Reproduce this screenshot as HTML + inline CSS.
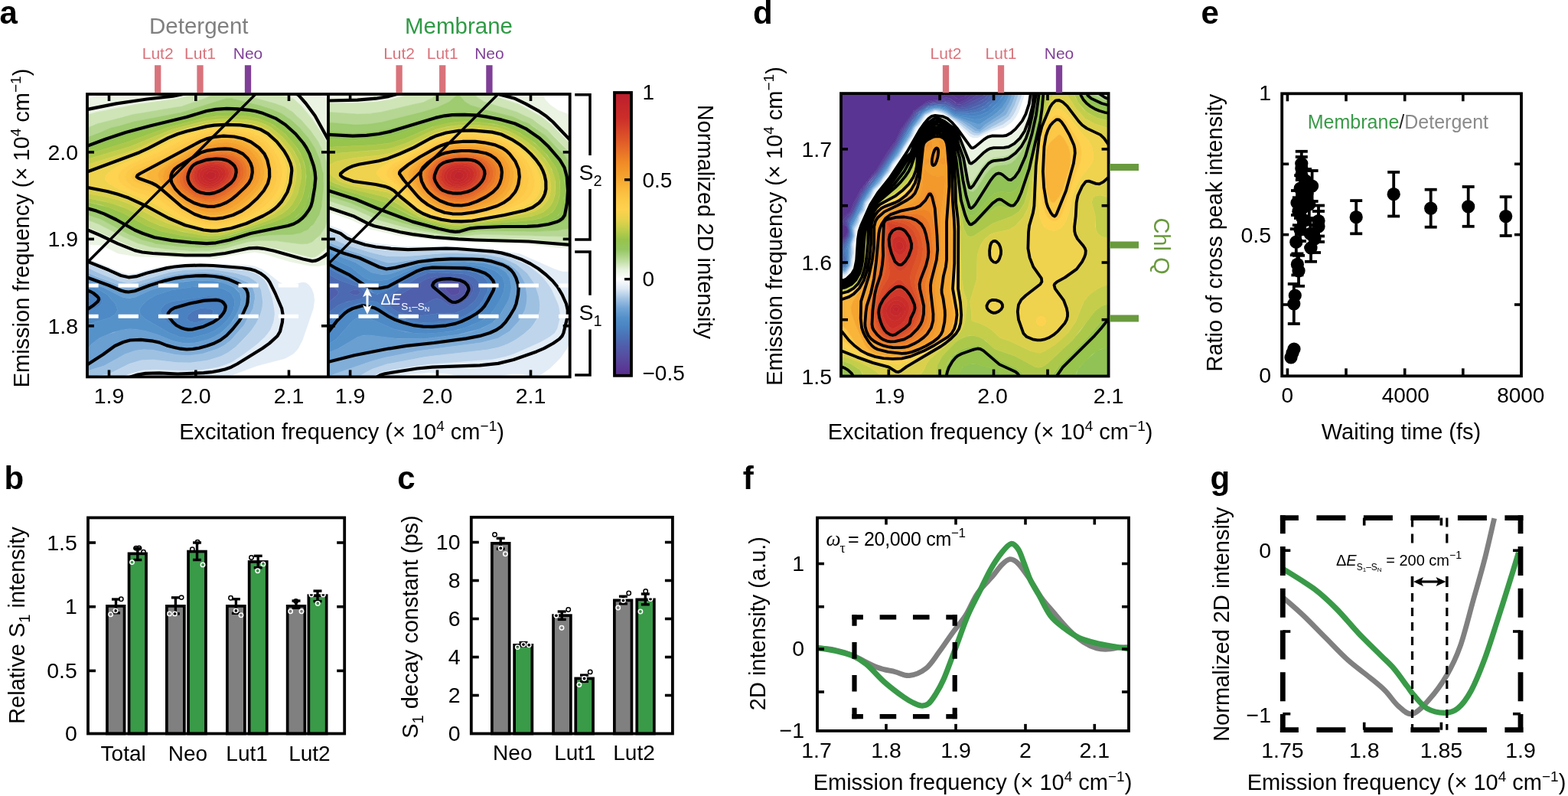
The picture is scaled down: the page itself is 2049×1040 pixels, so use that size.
<!DOCTYPE html>
<html><head><meta charset="utf-8"><style>
html,body{margin:0;padding:0;background:#fff;overflow:hidden}
svg{display:block}
</style></head><body>
<svg width="2049" height="1040" viewBox="0 0 2049 1040" style="font-family:'Liberation Sans',Arial,Helvetica,sans-serif">
<rect width="2049" height="1040" fill="#fff"/>
<text x="-0.5" y="31" font-size="42" text-anchor="start" fill="#000" font-weight="bold" >a</text>
<text x="984" y="31" font-size="42" text-anchor="start" fill="#000" font-weight="bold" >d</text>
<text x="1569.5" y="31" font-size="42" text-anchor="start" fill="#000" font-weight="bold" >e</text>
<text x="5.5" y="639.3" font-size="42" text-anchor="start" fill="#000" font-weight="bold" >b</text>
<text x="519.3" y="639.3" font-size="42" text-anchor="start" fill="#000" font-weight="bold" >c</text>
<text x="970.8" y="639.3" font-size="42" text-anchor="start" fill="#000" font-weight="bold" >f</text>
<text x="1581.4" y="639.3" font-size="42" text-anchor="start" fill="#000" font-weight="bold" >g</text>
<rect x="139.95" y="791.85" width="22.600000000000012" height="166.65" fill="#808080" stroke="#000" stroke-width="3.7" />
<rect x="168.54999999999998" y="723.35" width="22.500000000000018" height="235.15" fill="#399a48" stroke="#000" stroke-width="3.7" />
<rect x="217.85" y="791.85" width="22.99999999999999" height="166.65" fill="#808080" stroke="#000" stroke-width="3.7" />
<rect x="246.04999999999998" y="720.5500000000001" width="22.900000000000023" height="237.94999999999996" fill="#399a48" stroke="#000" stroke-width="3.7" />
<rect x="296.85" y="791.85" width="22.99999999999999" height="166.65" fill="#808080" stroke="#000" stroke-width="3.7" />
<rect x="325.65000000000003" y="733.95" width="23.100000000000012" height="224.54999999999998" fill="#399a48" stroke="#000" stroke-width="3.7" />
<rect x="375.65000000000003" y="791.85" width="22.699999999999978" height="166.65" fill="#808080" stroke="#000" stroke-width="3.7" />
<rect x="403.35" y="778.15" width="23.3" height="180.35000000000005" fill="#399a48" stroke="#000" stroke-width="3.7" />
<line x1="151.5" y1="783" x2="151.5" y2="800.8" stroke="#000" stroke-width="3.4" />
<line x1="146.0" y1="783" x2="157.0" y2="783" stroke="#000" stroke-width="3.4" />
<line x1="146.0" y1="800.8" x2="157.0" y2="800.8" stroke="#000" stroke-width="3.4" />
<line x1="179.8" y1="716.3" x2="179.8" y2="731.5" stroke="#000" stroke-width="3.4" />
<line x1="174.3" y1="716.3" x2="185.3" y2="716.3" stroke="#000" stroke-width="3.4" />
<line x1="174.3" y1="731.5" x2="185.3" y2="731.5" stroke="#000" stroke-width="3.4" />
<line x1="229.4" y1="780.8" x2="229.4" y2="801.9" stroke="#000" stroke-width="3.4" />
<line x1="223.9" y1="780.8" x2="234.9" y2="780.8" stroke="#000" stroke-width="3.4" />
<line x1="223.9" y1="801.9" x2="234.9" y2="801.9" stroke="#000" stroke-width="3.4" />
<line x1="257.5" y1="709" x2="257.5" y2="731.5" stroke="#000" stroke-width="3.4" />
<line x1="252.0" y1="709" x2="263.0" y2="709" stroke="#000" stroke-width="3.4" />
<line x1="252.0" y1="731.5" x2="263.0" y2="731.5" stroke="#000" stroke-width="3.4" />
<line x1="308.4" y1="782.7" x2="308.4" y2="801.3" stroke="#000" stroke-width="3.4" />
<line x1="302.9" y1="782.7" x2="313.9" y2="782.7" stroke="#000" stroke-width="3.4" />
<line x1="302.9" y1="801.3" x2="313.9" y2="801.3" stroke="#000" stroke-width="3.4" />
<line x1="337.2" y1="726.3" x2="337.2" y2="741.7" stroke="#000" stroke-width="3.4" />
<line x1="331.7" y1="726.3" x2="342.7" y2="726.3" stroke="#000" stroke-width="3.4" />
<line x1="331.7" y1="741.7" x2="342.7" y2="741.7" stroke="#000" stroke-width="3.4" />
<line x1="387" y1="785" x2="387" y2="794.2" stroke="#000" stroke-width="3.4" />
<line x1="381.5" y1="785" x2="392.5" y2="785" stroke="#000" stroke-width="3.4" />
<line x1="381.5" y1="794.2" x2="392.5" y2="794.2" stroke="#000" stroke-width="3.4" />
<line x1="415" y1="772.1" x2="415" y2="785.6" stroke="#000" stroke-width="3.4" />
<line x1="409.5" y1="772.1" x2="420.5" y2="772.1" stroke="#000" stroke-width="3.4" />
<line x1="409.5" y1="785.6" x2="420.5" y2="785.6" stroke="#000" stroke-width="3.4" />
<circle cx="158.3" cy="782.7" r="2.7" fill="none" stroke="#000" stroke-width="1.5"/>
<circle cx="151" cy="797.9" r="2.7" fill="none" stroke="#fff" stroke-width="1.5"/>
<circle cx="144.6" cy="802.7" r="2.7" fill="none" stroke="#fff" stroke-width="1.5"/>
<circle cx="172.5" cy="734.6" r="2.7" fill="none" stroke="#fff" stroke-width="1.5"/>
<circle cx="187.5" cy="721.2" r="2.7" fill="none" stroke="#000" stroke-width="1.5"/>
<circle cx="177.9" cy="716.3" r="2.7" fill="none" stroke="#000" stroke-width="1.5"/>
<circle cx="181.7" cy="716" r="2.7" fill="none" stroke="#000" stroke-width="1.5"/>
<circle cx="237.1" cy="780.6" r="2.7" fill="none" stroke="#000" stroke-width="1.5"/>
<circle cx="221.5" cy="801.9" r="2.7" fill="none" stroke="#fff" stroke-width="1.5"/>
<circle cx="228.5" cy="801.9" r="2.7" fill="none" stroke="#fff" stroke-width="1.5"/>
<circle cx="251.3" cy="717.7" r="2.7" fill="none" stroke="#000" stroke-width="1.5"/>
<circle cx="265" cy="737.9" r="2.7" fill="none" stroke="#fff" stroke-width="1.5"/>
<circle cx="258.1" cy="708.1" r="2.7" fill="none" stroke="#000" stroke-width="1.5"/>
<circle cx="301.5" cy="781.2" r="2.7" fill="none" stroke="#000" stroke-width="1.5"/>
<circle cx="308.3" cy="797.9" r="2.7" fill="none" stroke="#fff" stroke-width="1.5"/>
<circle cx="315" cy="803.7" r="2.7" fill="none" stroke="#fff" stroke-width="1.5"/>
<circle cx="328.5" cy="728.5" r="2.7" fill="none" stroke="#000" stroke-width="1.5"/>
<circle cx="344" cy="736.9" r="2.7" fill="none" stroke="#fff" stroke-width="1.5"/>
<circle cx="336.7" cy="745.8" r="2.7" fill="none" stroke="#fff" stroke-width="1.5"/>
<circle cx="379.6" cy="798.8" r="2.7" fill="none" stroke="#fff" stroke-width="1.5"/>
<circle cx="394" cy="798.8" r="2.7" fill="none" stroke="#fff" stroke-width="1.5"/>
<circle cx="386.7" cy="785.4" r="2.7" fill="none" stroke="#000" stroke-width="1.5"/>
<circle cx="406.9" cy="776.9" r="2.7" fill="none" stroke="#fff" stroke-width="1.5"/>
<circle cx="422.3" cy="776.9" r="2.7" fill="none" stroke="#fff" stroke-width="1.5"/>
<circle cx="415.2" cy="788.5" r="2.7" fill="none" stroke="#fff" stroke-width="1.5"/>
<rect x="115" y="676.4" width="335.2" height="282.1" fill="none" stroke="#000" stroke-width="3.8" />
<line x1="115" y1="709" x2="125" y2="709" stroke="#000" stroke-width="3.6" />
<line x1="440.2" y1="709" x2="450.2" y2="709" stroke="#000" stroke-width="3.6" />
<text x="100.8" y="718.5" font-size="28.5" text-anchor="end" fill="#000" font-weight="normal" >1.5</text>
<line x1="115" y1="792.7" x2="125" y2="792.7" stroke="#000" stroke-width="3.6" />
<line x1="440.2" y1="792.7" x2="450.2" y2="792.7" stroke="#000" stroke-width="3.6" />
<text x="100.8" y="802.2" font-size="28.5" text-anchor="end" fill="#000" font-weight="normal" >1</text>
<line x1="115" y1="876.4" x2="125" y2="876.4" stroke="#000" stroke-width="3.6" />
<line x1="440.2" y1="876.4" x2="450.2" y2="876.4" stroke="#000" stroke-width="3.6" />
<text x="100.8" y="885.9" font-size="28.5" text-anchor="end" fill="#000" font-weight="normal" >0.5</text>
<text x="100.8" y="968.0" font-size="28.5" text-anchor="end" fill="#000" font-weight="normal" >0</text>
<text x="161.2" y="994.2" font-size="28" text-anchor="middle" fill="#000" font-weight="normal" >Total</text>
<text x="245.4" y="994.2" font-size="28" text-anchor="middle" fill="#000" font-weight="normal" >Neo</text>
<text x="322.6" y="994.2" font-size="28" text-anchor="middle" fill="#000" font-weight="normal" >Lut1</text>
<text x="404.4" y="994.2" font-size="28" text-anchor="middle" fill="#000" font-weight="normal" >Lut2</text>
<text x="31.7" y="817" font-size="29" text-anchor="middle" fill="#000" font-weight="normal" transform="rotate(-90 31.7 817)" >Relative S<tspan dy="7" font-size="20">1</tspan><tspan dy="-7"> intensity</tspan></text>
<rect x="642.85" y="709.85" width="22.8" height="248.65" fill="#808080" stroke="#000" stroke-width="3.7" />
<rect x="672.15" y="842.85" width="23.20000000000009" height="115.65" fill="#399a48" stroke="#000" stroke-width="3.7" />
<rect x="723.0500000000001" y="804.15" width="22.8" height="154.35000000000005" fill="#808080" stroke="#000" stroke-width="3.7" />
<rect x="752.25" y="886.45" width="22.8" height="72.04999999999998" fill="#399a48" stroke="#000" stroke-width="3.7" />
<rect x="802.85" y="784.35" width="22.599999999999955" height="174.15" fill="#808080" stroke="#000" stroke-width="3.7" />
<rect x="832.25" y="783.35" width="22.60000000000007" height="175.15" fill="#399a48" stroke="#000" stroke-width="3.7" />
<line x1="654.2" y1="703.3" x2="654.2" y2="717.1" stroke="#000" stroke-width="3.4" />
<line x1="648.7" y1="703.3" x2="659.7" y2="703.3" stroke="#000" stroke-width="3.4" />
<line x1="648.7" y1="717.1" x2="659.7" y2="717.1" stroke="#000" stroke-width="3.4" />
<line x1="684" y1="839.5" x2="684" y2="844" stroke="#000" stroke-width="3.4" />
<line x1="678.5" y1="839.5" x2="689.5" y2="839.5" stroke="#000" stroke-width="3.4" />
<line x1="678.5" y1="844" x2="689.5" y2="844" stroke="#000" stroke-width="3.4" />
<line x1="734.2" y1="799" x2="734.2" y2="809.4" stroke="#000" stroke-width="3.4" />
<line x1="728.7" y1="799" x2="739.7" y2="799" stroke="#000" stroke-width="3.4" />
<line x1="728.7" y1="809.4" x2="739.7" y2="809.4" stroke="#000" stroke-width="3.4" />
<line x1="763.5" y1="882.1" x2="763.5" y2="890.4" stroke="#000" stroke-width="3.4" />
<line x1="758.0" y1="882.1" x2="769.0" y2="882.1" stroke="#000" stroke-width="3.4" />
<line x1="758.0" y1="890.4" x2="769.0" y2="890.4" stroke="#000" stroke-width="3.4" />
<line x1="814.4" y1="779.2" x2="814.4" y2="788.8" stroke="#000" stroke-width="3.4" />
<line x1="808.9" y1="779.2" x2="819.9" y2="779.2" stroke="#000" stroke-width="3.4" />
<line x1="808.9" y1="788.8" x2="819.9" y2="788.8" stroke="#000" stroke-width="3.4" />
<line x1="843.3" y1="776" x2="843.3" y2="789.8" stroke="#000" stroke-width="3.4" />
<line x1="837.8" y1="776" x2="848.8" y2="776" stroke="#000" stroke-width="3.4" />
<line x1="837.8" y1="789.8" x2="848.8" y2="789.8" stroke="#000" stroke-width="3.4" />
<circle cx="646.5" cy="698.5" r="2.7" fill="none" stroke="#000" stroke-width="1.5"/>
<circle cx="654.2" cy="716.3" r="2.7" fill="none" stroke="#fff" stroke-width="1.5"/>
<circle cx="660.4" cy="723.8" r="2.7" fill="none" stroke="#fff" stroke-width="1.5"/>
<circle cx="676.3" cy="845.6" r="2.7" fill="none" stroke="#fff" stroke-width="1.5"/>
<circle cx="684" cy="842.1" r="2.7" fill="none" stroke="#fff" stroke-width="1.5"/>
<circle cx="691.2" cy="842.7" r="2.7" fill="none" stroke="#fff" stroke-width="1.5"/>
<circle cx="726.9" cy="804.2" r="2.7" fill="none" stroke="#fff" stroke-width="1.5"/>
<circle cx="742.7" cy="796.5" r="2.7" fill="none" stroke="#000" stroke-width="1.5"/>
<circle cx="734" cy="820.2" r="2.7" fill="none" stroke="#fff" stroke-width="1.5"/>
<circle cx="771.2" cy="877.9" r="2.7" fill="none" stroke="#000" stroke-width="1.5"/>
<circle cx="763.5" cy="886.5" r="2.7" fill="none" stroke="#fff" stroke-width="1.5"/>
<circle cx="756.9" cy="894.6" r="2.7" fill="none" stroke="#fff" stroke-width="1.5"/>
<circle cx="821.7" cy="775" r="2.7" fill="none" stroke="#000" stroke-width="1.5"/>
<circle cx="814.4" cy="784.6" r="2.7" fill="none" stroke="#fff" stroke-width="1.5"/>
<circle cx="807.7" cy="794" r="2.7" fill="none" stroke="#fff" stroke-width="1.5"/>
<circle cx="843.7" cy="772.5" r="2.7" fill="none" stroke="#000" stroke-width="1.5"/>
<circle cx="850" cy="782.5" r="2.7" fill="none" stroke="#fff" stroke-width="1.5"/>
<circle cx="836.9" cy="799" r="2.7" fill="none" stroke="#fff" stroke-width="1.5"/>
<rect x="615.8" y="675.8" width="263.1" height="282.70000000000005" fill="none" stroke="#000" stroke-width="3.8" />
<line x1="615.8" y1="708.5" x2="625.8" y2="708.5" stroke="#000" stroke-width="3.6" />
<line x1="868.9" y1="708.5" x2="878.9" y2="708.5" stroke="#000" stroke-width="3.6" />
<text x="601.5" y="718.0" font-size="28.5" text-anchor="end" fill="#000" font-weight="normal" >10</text>
<line x1="615.8" y1="758.5" x2="625.8" y2="758.5" stroke="#000" stroke-width="3.6" />
<line x1="868.9" y1="758.5" x2="878.9" y2="758.5" stroke="#000" stroke-width="3.6" />
<text x="601.5" y="768.0" font-size="28.5" text-anchor="end" fill="#000" font-weight="normal" >8</text>
<line x1="615.8" y1="808.5" x2="625.8" y2="808.5" stroke="#000" stroke-width="3.6" />
<line x1="868.9" y1="808.5" x2="878.9" y2="808.5" stroke="#000" stroke-width="3.6" />
<text x="601.5" y="818.0" font-size="28.5" text-anchor="end" fill="#000" font-weight="normal" >6</text>
<line x1="615.8" y1="858.5" x2="625.8" y2="858.5" stroke="#000" stroke-width="3.6" />
<line x1="868.9" y1="858.5" x2="878.9" y2="858.5" stroke="#000" stroke-width="3.6" />
<text x="601.5" y="868.0" font-size="28.5" text-anchor="end" fill="#000" font-weight="normal" >4</text>
<line x1="615.8" y1="908.5" x2="625.8" y2="908.5" stroke="#000" stroke-width="3.6" />
<line x1="868.9" y1="908.5" x2="878.9" y2="908.5" stroke="#000" stroke-width="3.6" />
<text x="601.5" y="918.0" font-size="28.5" text-anchor="end" fill="#000" font-weight="normal" >2</text>
<text x="601.5" y="968.0" font-size="28.5" text-anchor="end" fill="#000" font-weight="normal" >0</text>
<text x="669.8" y="992.8" font-size="28" text-anchor="middle" fill="#000" font-weight="normal" >Neo</text>
<text x="751.4" y="992.8" font-size="28" text-anchor="middle" fill="#000" font-weight="normal" >Lut1</text>
<text x="828.5" y="992.8" font-size="28" text-anchor="middle" fill="#000" font-weight="normal" >Lut2</text>
<text x="545.8" y="819" font-size="29" text-anchor="middle" fill="#000" font-weight="normal" transform="rotate(-90 545.8 819)" >S<tspan dy="7" font-size="20">1</tspan><tspan dy="-7"> decay constant (ps)</tspan></text>
<line x1="1690.8" y1="371" x2="1690.8" y2="423" stroke="#000" stroke-width="3.8" />
<line x1="1682.8" y1="371" x2="1698.8" y2="371" stroke="#000" stroke-width="3.8" />
<line x1="1682.8" y1="423" x2="1698.8" y2="423" stroke="#000" stroke-width="3.8" />
<line x1="1695.4" y1="331.4" x2="1695.4" y2="359.4" stroke="#000" stroke-width="3.8" />
<line x1="1687.4" y1="331.4" x2="1703.4" y2="331.4" stroke="#000" stroke-width="3.8" />
<line x1="1687.4" y1="359.4" x2="1703.4" y2="359.4" stroke="#000" stroke-width="3.8" />
<line x1="1697" y1="333.8" x2="1697" y2="373.8" stroke="#000" stroke-width="3.8" />
<line x1="1689" y1="333.8" x2="1705" y2="333.8" stroke="#000" stroke-width="3.8" />
<line x1="1689" y1="373.8" x2="1705" y2="373.8" stroke="#000" stroke-width="3.8" />
<line x1="1693.8" y1="299.2" x2="1693.8" y2="333.2" stroke="#000" stroke-width="3.8" />
<line x1="1685.8" y1="299.2" x2="1701.8" y2="299.2" stroke="#000" stroke-width="3.8" />
<line x1="1685.8" y1="333.2" x2="1701.8" y2="333.2" stroke="#000" stroke-width="3.8" />
<line x1="1713" y1="305.8" x2="1713" y2="341.8" stroke="#000" stroke-width="3.8" />
<line x1="1705" y1="305.8" x2="1721" y2="305.8" stroke="#000" stroke-width="3.8" />
<line x1="1705" y1="341.8" x2="1721" y2="341.8" stroke="#000" stroke-width="3.8" />
<line x1="1712.3" y1="287.4" x2="1712.3" y2="323.4" stroke="#000" stroke-width="3.8" />
<line x1="1704.3" y1="287.4" x2="1720.3" y2="287.4" stroke="#000" stroke-width="3.8" />
<line x1="1704.3" y1="323.4" x2="1720.3" y2="323.4" stroke="#000" stroke-width="3.8" />
<line x1="1723" y1="268.5" x2="1723" y2="308.5" stroke="#000" stroke-width="3.8" />
<line x1="1715" y1="268.5" x2="1731" y2="268.5" stroke="#000" stroke-width="3.8" />
<line x1="1715" y1="308.5" x2="1731" y2="308.5" stroke="#000" stroke-width="3.8" />
<line x1="1723" y1="276" x2="1723" y2="316" stroke="#000" stroke-width="3.8" />
<line x1="1715" y1="276" x2="1731" y2="276" stroke="#000" stroke-width="3.8" />
<line x1="1715" y1="316" x2="1731" y2="316" stroke="#000" stroke-width="3.8" />
<line x1="1696.9" y1="258.2" x2="1696.9" y2="294.2" stroke="#000" stroke-width="3.8" />
<line x1="1688.9" y1="258.2" x2="1704.9" y2="258.2" stroke="#000" stroke-width="3.8" />
<line x1="1688.9" y1="294.2" x2="1704.9" y2="294.2" stroke="#000" stroke-width="3.8" />
<line x1="1710.8" y1="249" x2="1710.8" y2="285" stroke="#000" stroke-width="3.8" />
<line x1="1702.8" y1="249" x2="1718.8" y2="249" stroke="#000" stroke-width="3.8" />
<line x1="1702.8" y1="285" x2="1718.8" y2="285" stroke="#000" stroke-width="3.8" />
<line x1="1703.8" y1="241" x2="1703.8" y2="271" stroke="#000" stroke-width="3.8" />
<line x1="1695.8" y1="241" x2="1711.8" y2="241" stroke="#000" stroke-width="3.8" />
<line x1="1695.8" y1="271" x2="1711.8" y2="271" stroke="#000" stroke-width="3.8" />
<line x1="1699.2" y1="229.2" x2="1699.2" y2="263.2" stroke="#000" stroke-width="3.8" />
<line x1="1691.2" y1="229.2" x2="1707.2" y2="229.2" stroke="#000" stroke-width="3.8" />
<line x1="1691.2" y1="263.2" x2="1707.2" y2="263.2" stroke="#000" stroke-width="3.8" />
<line x1="1714.6" y1="223" x2="1714.6" y2="263" stroke="#000" stroke-width="3.8" />
<line x1="1706.6" y1="223" x2="1722.6" y2="223" stroke="#000" stroke-width="3.8" />
<line x1="1706.6" y1="263" x2="1722.6" y2="263" stroke="#000" stroke-width="3.8" />
<line x1="1700.8" y1="213.5" x2="1700.8" y2="243.5" stroke="#000" stroke-width="3.8" />
<line x1="1692.8" y1="213.5" x2="1708.8" y2="213.5" stroke="#000" stroke-width="3.8" />
<line x1="1692.8" y1="243.5" x2="1708.8" y2="243.5" stroke="#000" stroke-width="3.8" />
<line x1="1700.8" y1="205" x2="1700.8" y2="235" stroke="#000" stroke-width="3.8" />
<line x1="1692.8" y1="205" x2="1708.8" y2="205" stroke="#000" stroke-width="3.8" />
<line x1="1692.8" y1="235" x2="1708.8" y2="235" stroke="#000" stroke-width="3.8" />
<line x1="1700.8" y1="197.8" x2="1700.8" y2="229.8" stroke="#000" stroke-width="3.8" />
<line x1="1692.8" y1="197.8" x2="1708.8" y2="197.8" stroke="#000" stroke-width="3.8" />
<line x1="1692.8" y1="229.8" x2="1708.8" y2="229.8" stroke="#000" stroke-width="3.8" />
<line x1="1695" y1="249" x2="1695" y2="281" stroke="#000" stroke-width="3.8" />
<line x1="1687" y1="249" x2="1703" y2="249" stroke="#000" stroke-width="3.8" />
<line x1="1687" y1="281" x2="1703" y2="281" stroke="#000" stroke-width="3.8" />
<line x1="1705" y1="270" x2="1705" y2="306" stroke="#000" stroke-width="3.8" />
<line x1="1697" y1="270" x2="1713" y2="270" stroke="#000" stroke-width="3.8" />
<line x1="1697" y1="306" x2="1713" y2="306" stroke="#000" stroke-width="3.8" />
<line x1="1699" y1="285" x2="1699" y2="315" stroke="#000" stroke-width="3.8" />
<line x1="1691" y1="285" x2="1707" y2="285" stroke="#000" stroke-width="3.8" />
<line x1="1691" y1="315" x2="1707" y2="315" stroke="#000" stroke-width="3.8" />
<line x1="1718" y1="294" x2="1718" y2="330" stroke="#000" stroke-width="3.8" />
<line x1="1710" y1="294" x2="1726" y2="294" stroke="#000" stroke-width="3.8" />
<line x1="1710" y1="330" x2="1726" y2="330" stroke="#000" stroke-width="3.8" />
<line x1="1706" y1="221" x2="1706" y2="251" stroke="#000" stroke-width="3.8" />
<line x1="1698" y1="221" x2="1714" y2="221" stroke="#000" stroke-width="3.8" />
<line x1="1698" y1="251" x2="1714" y2="251" stroke="#000" stroke-width="3.8" />
<line x1="1708" y1="237" x2="1708" y2="267" stroke="#000" stroke-width="3.8" />
<line x1="1700" y1="237" x2="1716" y2="237" stroke="#000" stroke-width="3.8" />
<line x1="1700" y1="267" x2="1716" y2="267" stroke="#000" stroke-width="3.8" />
<line x1="1702" y1="257" x2="1702" y2="287" stroke="#000" stroke-width="3.8" />
<line x1="1694" y1="257" x2="1710" y2="257" stroke="#000" stroke-width="3.8" />
<line x1="1694" y1="287" x2="1710" y2="287" stroke="#000" stroke-width="3.8" />
<line x1="1772.2" y1="262.09999999999997" x2="1772.2" y2="305.3" stroke="#000" stroke-width="3.8" />
<line x1="1764.2" y1="262.09999999999997" x2="1780.2" y2="262.09999999999997" stroke="#000" stroke-width="3.8" />
<line x1="1764.2" y1="305.3" x2="1780.2" y2="305.3" stroke="#000" stroke-width="3.8" />
<line x1="1821.2" y1="224.89999999999998" x2="1821.2" y2="282.5" stroke="#000" stroke-width="3.8" />
<line x1="1813.2" y1="224.89999999999998" x2="1829.2" y2="224.89999999999998" stroke="#000" stroke-width="3.8" />
<line x1="1813.2" y1="282.5" x2="1829.2" y2="282.5" stroke="#000" stroke-width="3.8" />
<line x1="1869.7" y1="247.7" x2="1869.7" y2="296.7" stroke="#000" stroke-width="3.8" />
<line x1="1861.7" y1="247.7" x2="1877.7" y2="247.7" stroke="#000" stroke-width="3.8" />
<line x1="1861.7" y1="296.7" x2="1877.7" y2="296.7" stroke="#000" stroke-width="3.8" />
<line x1="1918.7" y1="243.99999999999997" x2="1918.7" y2="295.79999999999995" stroke="#000" stroke-width="3.8" />
<line x1="1910.7" y1="243.99999999999997" x2="1926.7" y2="243.99999999999997" stroke="#000" stroke-width="3.8" />
<line x1="1910.7" y1="295.79999999999995" x2="1926.7" y2="295.79999999999995" stroke="#000" stroke-width="3.8" />
<line x1="1967.7" y1="257.20000000000005" x2="1967.7" y2="308.0" stroke="#000" stroke-width="3.8" />
<line x1="1959.7" y1="257.20000000000005" x2="1975.7" y2="257.20000000000005" stroke="#000" stroke-width="3.8" />
<line x1="1959.7" y1="308.0" x2="1975.7" y2="308.0" stroke="#000" stroke-width="3.8" />
<circle cx="1687" cy="467" r="8.6" fill="#000"/>
<circle cx="1689" cy="461" r="8.6" fill="#000"/>
<circle cx="1691" cy="456" r="8.6" fill="#000"/>
<circle cx="1690.8" cy="397" r="8.6" fill="#000"/>
<circle cx="1692.3" cy="386" r="8.6" fill="#000"/>
<circle cx="1695.4" cy="345.4" r="8.6" fill="#000"/>
<circle cx="1697" cy="353.8" r="8.6" fill="#000"/>
<circle cx="1693.8" cy="316.2" r="8.6" fill="#000"/>
<circle cx="1713" cy="323.8" r="8.6" fill="#000"/>
<circle cx="1712.3" cy="305.4" r="8.6" fill="#000"/>
<circle cx="1723" cy="288.5" r="8.6" fill="#000"/>
<circle cx="1723" cy="296" r="8.6" fill="#000"/>
<circle cx="1696.9" cy="276.2" r="8.6" fill="#000"/>
<circle cx="1710.8" cy="267" r="8.6" fill="#000"/>
<circle cx="1703.8" cy="256" r="8.6" fill="#000"/>
<circle cx="1699.2" cy="246.2" r="8.6" fill="#000"/>
<circle cx="1714.6" cy="243" r="8.6" fill="#000"/>
<circle cx="1700.8" cy="228.5" r="8.6" fill="#000"/>
<circle cx="1700.8" cy="220" r="8.6" fill="#000"/>
<circle cx="1700.8" cy="213.8" r="8.6" fill="#000"/>
<circle cx="1695" cy="265" r="8.6" fill="#000"/>
<circle cx="1705" cy="288" r="8.6" fill="#000"/>
<circle cx="1699" cy="300" r="8.6" fill="#000"/>
<circle cx="1718" cy="312" r="8.6" fill="#000"/>
<circle cx="1706" cy="236" r="8.6" fill="#000"/>
<circle cx="1708" cy="252" r="8.6" fill="#000"/>
<circle cx="1702" cy="272" r="8.6" fill="#000"/>
<circle cx="1772.2" cy="283.7" r="8.6" fill="#000"/>
<circle cx="1821.2" cy="253.7" r="8.6" fill="#000"/>
<circle cx="1869.7" cy="272.2" r="8.6" fill="#000"/>
<circle cx="1918.7" cy="269.9" r="8.6" fill="#000"/>
<circle cx="1967.7" cy="282.6" r="8.6" fill="#000"/>
<rect x="1675.2" y="122.3" width="312.79999999999995" height="369.0" fill="none" stroke="#000" stroke-width="3.8" />
<line x1="1675.2" y1="398" x2="1684.2" y2="398" stroke="#000" stroke-width="3.6" />
<line x1="1979" y1="398" x2="1988" y2="398" stroke="#000" stroke-width="3.6" />
<line x1="1675.2" y1="306.6" x2="1684.2" y2="306.6" stroke="#000" stroke-width="3.6" />
<line x1="1979" y1="306.6" x2="1988" y2="306.6" stroke="#000" stroke-width="3.6" />
<line x1="1675.2" y1="214.3" x2="1684.2" y2="214.3" stroke="#000" stroke-width="3.6" />
<line x1="1979" y1="214.3" x2="1988" y2="214.3" stroke="#000" stroke-width="3.6" />
<line x1="1682.4" y1="491.3" x2="1682.4" y2="481.3" stroke="#000" stroke-width="3.6" />
<line x1="1682.4" y1="122.3" x2="1682.4" y2="132.3" stroke="#000" stroke-width="3.6" />
<line x1="1759" y1="491.3" x2="1759" y2="481.3" stroke="#000" stroke-width="3.6" />
<line x1="1759" y1="122.3" x2="1759" y2="132.3" stroke="#000" stroke-width="3.6" />
<line x1="1835.7" y1="491.3" x2="1835.7" y2="481.3" stroke="#000" stroke-width="3.6" />
<line x1="1835.7" y1="122.3" x2="1835.7" y2="132.3" stroke="#000" stroke-width="3.6" />
<line x1="1911.8" y1="491.3" x2="1911.8" y2="481.3" stroke="#000" stroke-width="3.6" />
<line x1="1911.8" y1="122.3" x2="1911.8" y2="132.3" stroke="#000" stroke-width="3.6" />
<text x="1661" y="130.8" font-size="28.5" text-anchor="end" fill="#000" font-weight="normal" >1</text>
<text x="1661" y="316.6" font-size="28.5" text-anchor="end" fill="#000" font-weight="normal" >0.5</text>
<text x="1661" y="499.5" font-size="28.5" text-anchor="end" fill="#000" font-weight="normal" >0</text>
<text x="1682.3" y="526" font-size="28" text-anchor="middle" fill="#000" font-weight="normal" >0</text>
<text x="1836.8" y="526" font-size="28" text-anchor="middle" fill="#000" font-weight="normal" >4000</text>
<text x="1987.3" y="526" font-size="28" text-anchor="middle" fill="#000" font-weight="normal" >8000</text>
<text x="1831" y="573.8" font-size="29" text-anchor="middle" fill="#000" font-weight="normal" >Waiting time (fs)</text>
<text x="1597.5" y="304.2" font-size="29" text-anchor="middle" fill="#000" font-weight="normal" transform="rotate(-90 1597.5 304.2)" >Ratio of cross peak intensity</text>
<text x="1708.8" y="168.2" font-size="25" text-anchor="start" fill="#000" font-weight="normal" ><tspan fill="#399a48">Membrane</tspan><tspan fill="#222">/</tspan><tspan fill="#8a8a8a">Detergent</tspan></text>
<clipPath id="clipf"><rect x="1068" y="676.5" width="407" height="278.4"/></clipPath>
<g clip-path="url(#clipf)">
<path d="M1068.0,846.5 C1071.7,846.9 1082.5,847.4 1090.0,849.0 C1097.5,850.6 1103.9,852.2 1113.3,856.0 C1122.7,859.8 1137.1,868.4 1146.5,872.0 C1155.9,875.6 1162.6,875.9 1169.6,877.7 C1176.6,879.5 1181.6,883.3 1188.3,882.6 C1195.0,881.9 1203.5,878.5 1210.0,873.4 C1216.5,868.3 1221.5,859.5 1227.2,851.8 C1233.0,844.1 1238.7,835.1 1244.5,827.2 C1250.3,819.3 1256.3,812.8 1261.8,804.2 C1267.3,795.6 1271.3,784.0 1277.3,775.4 C1283.2,766.8 1292.2,758.6 1297.5,752.4 C1302.8,746.2 1305.3,741.6 1309.0,738.0 C1312.7,734.4 1316.1,731.0 1319.7,730.7 C1323.3,730.5 1326.2,731.9 1330.7,736.5 C1335.2,741.1 1341.5,750.6 1346.6,758.1 C1351.6,765.6 1356.2,774.5 1361.0,781.2 C1365.8,787.9 1369.6,791.8 1375.4,798.5 C1381.2,805.2 1388.9,814.9 1395.6,821.6 C1402.3,828.4 1409.5,834.8 1415.8,839.0 C1422.1,843.2 1427.9,845.5 1433.2,847.0 C1438.5,848.5 1442.8,848.4 1447.6,848.2 C1452.4,848.1 1457.4,846.5 1462.0,846.1 C1466.6,845.7 1472.8,845.7 1475.0,845.6" fill="none" stroke="#808080" stroke-width="6.8" stroke-linejoin="round" stroke-linecap="butt" />
<path d="M1068.0,846.5 C1071.7,847.1 1082.5,848.3 1090.0,850.0 C1097.5,851.7 1106.3,853.6 1113.3,856.5 C1120.3,859.4 1125.0,861.9 1132.0,867.6 C1139.0,873.3 1147.0,883.5 1155.2,890.7 C1163.4,897.9 1174.6,906.3 1181.1,910.9 C1187.6,915.5 1190.2,916.6 1194.0,918.5 C1197.8,920.4 1200.8,921.8 1204.0,922.0 C1207.2,922.2 1210.0,921.8 1213.0,919.5 C1216.0,917.2 1218.7,913.3 1222.0,908.0 C1225.3,902.7 1228.8,897.4 1233.0,887.8 C1237.2,878.2 1242.1,864.2 1247.4,850.3 C1252.7,836.4 1259.2,817.2 1264.7,804.2 C1270.2,791.2 1275.2,782.7 1280.2,772.6 C1285.2,762.5 1289.8,752.1 1294.6,743.7 C1299.4,735.3 1304.6,727.5 1309.0,722.0 C1313.4,716.5 1317.6,711.2 1321.2,710.5 C1324.8,709.8 1327.9,713.6 1330.7,717.7 C1333.5,721.8 1335.2,728.3 1337.9,735.0 C1340.6,741.7 1343.2,750.9 1346.6,758.1 C1350.0,765.3 1353.8,770.6 1358.1,778.3 C1362.4,786.0 1367.3,797.3 1372.6,804.3 C1377.9,811.3 1383.7,815.4 1389.9,820.2 C1396.1,825.0 1402.8,829.8 1410.0,833.2 C1417.2,836.6 1425.5,838.5 1433.2,840.4 C1440.9,842.3 1449.2,843.5 1456.2,844.7 C1463.2,845.9 1471.9,847.1 1475.0,847.6" fill="none" stroke="#399a48" stroke-width="7.2" stroke-linejoin="round" stroke-linecap="butt" />
</g>
<line x1="1113.4" y1="806.4" x2="1250.8" y2="806.4" stroke="#000" stroke-width="6.2" stroke-dasharray="14.50 21.73 21.60 21.73 21.60 21.73 14.50 1000"/>
<line x1="1113.4" y1="936.2" x2="1250.8" y2="936.2" stroke="#000" stroke-width="6.2" stroke-dasharray="14.50 21.73 21.60 21.73 21.60 21.73 14.50 1000"/>
<line x1="1116.5" y1="803.3" x2="1116.5" y2="939.3" stroke="#000" stroke-width="6.2" stroke-dasharray="14.50 21.27 21.60 21.27 21.60 21.27 14.50 1000"/>
<line x1="1247.7" y1="803.3" x2="1247.7" y2="939.3" stroke="#000" stroke-width="6.2" stroke-dasharray="14.50 21.27 21.60 21.27 21.60 21.27 14.50 1000"/>
<rect x="1068" y="676.5" width="407" height="278.4" fill="none" stroke="#000" stroke-width="3.8" />
<line x1="1068" y1="736.5" x2="1077" y2="736.5" stroke="#000" stroke-width="3.6" />
<line x1="1466" y1="736.5" x2="1475" y2="736.5" stroke="#000" stroke-width="3.6" />
<line x1="1068" y1="792.7" x2="1077" y2="792.7" stroke="#000" stroke-width="3.6" />
<line x1="1466" y1="792.7" x2="1475" y2="792.7" stroke="#000" stroke-width="3.6" />
<line x1="1068" y1="848" x2="1077" y2="848" stroke="#000" stroke-width="3.6" />
<line x1="1466" y1="848" x2="1475" y2="848" stroke="#000" stroke-width="3.6" />
<line x1="1068" y1="904" x2="1077" y2="904" stroke="#000" stroke-width="3.6" />
<line x1="1466" y1="904" x2="1475" y2="904" stroke="#000" stroke-width="3.6" />
<line x1="1158" y1="954.9" x2="1158" y2="945.9" stroke="#000" stroke-width="3.6" />
<line x1="1158" y1="676.5" x2="1158" y2="685.5" stroke="#000" stroke-width="3.6" />
<line x1="1249" y1="954.9" x2="1249" y2="945.9" stroke="#000" stroke-width="3.6" />
<line x1="1249" y1="676.5" x2="1249" y2="685.5" stroke="#000" stroke-width="3.6" />
<line x1="1340" y1="954.9" x2="1340" y2="945.9" stroke="#000" stroke-width="3.6" />
<line x1="1340" y1="676.5" x2="1340" y2="685.5" stroke="#000" stroke-width="3.6" />
<line x1="1430.3" y1="954.9" x2="1430.3" y2="945.9" stroke="#000" stroke-width="3.6" />
<line x1="1430.3" y1="676.5" x2="1430.3" y2="685.5" stroke="#000" stroke-width="3.6" />
<text x="1051" y="745.5" font-size="28.5" text-anchor="end" fill="#000" font-weight="normal" >1</text>
<text x="1051" y="857" font-size="28.5" text-anchor="end" fill="#000" font-weight="normal" >0</text>
<text x="1051" y="964" font-size="28.5" text-anchor="end" fill="#000" font-weight="normal" >−1</text>
<text x="1067" y="989.5" font-size="28.5" text-anchor="middle" fill="#000" font-weight="normal" >1.7</text>
<text x="1158" y="989.5" font-size="28.5" text-anchor="middle" fill="#000" font-weight="normal" >1.8</text>
<text x="1249" y="989.5" font-size="28.5" text-anchor="middle" fill="#000" font-weight="normal" >1.9</text>
<text x="1340" y="989.5" font-size="28.5" text-anchor="middle" fill="#000" font-weight="normal" >2</text>
<text x="1430.3" y="989.5" font-size="28.5" text-anchor="middle" fill="#000" font-weight="normal" >2.1</text>
<text x="1271" y="1032.3" font-size="29" text-anchor="middle" fill="#000" font-weight="normal" >Emission frequency (× 10<tspan dy="-11" font-size="19">4</tspan><tspan dy="11"> cm</tspan><tspan dy="-11" font-size="19">−1</tspan><tspan dy="11">)</tspan></text>
<text x="1000" y="814.6" font-size="29" text-anchor="middle" fill="#000" font-weight="normal" transform="rotate(-90 1000 814.6)" >2D intensity (a.u.)</text>
<text x="1079.5" y="713.4" font-size="27" text-anchor="start" fill="#000" font-weight="normal" font-family="Liberation Serif, serif" font-style="italic">ω</text>
<text x="1097.5" y="721.5" font-size="18" text-anchor="start" fill="#000" font-weight="normal" font-family="Liberation Serif, serif">τ</text>
<text x="1108" y="713.4" font-size="25" text-anchor="start" fill="#000" font-weight="normal" textLength="154">= 20,000 cm<tspan dy="-11" font-size="17">−1</tspan></text>
<path d="M1677.3,781.2 C1681.6,785.1 1694.2,795.6 1703.3,804.3 C1712.4,813.0 1722.5,823.6 1732.1,833.2 C1741.7,842.8 1751.4,853.4 1761.0,862.0 C1770.6,870.6 1781.7,878.4 1789.9,885.1 C1798.1,891.8 1803.8,896.1 1810.0,902.4 C1816.2,908.6 1821.5,917.5 1827.4,922.6 C1833.3,927.7 1838.8,934.1 1845.5,932.7 C1852.2,931.3 1860.0,922.4 1867.5,914.0 C1875.0,905.6 1883.8,893.8 1890.6,882.2 C1897.3,870.7 1902.2,861.1 1908.0,844.7 C1913.8,828.4 1919.9,802.9 1925.2,784.1 C1930.5,765.4 1935.1,750.0 1939.7,732.2 C1944.3,714.4 1950.5,686.4 1952.7,677.3" fill="none" stroke="#808080" stroke-width="6.8" stroke-linejoin="round" stroke-linecap="butt" />
<path d="M1677.3,743.7 C1684.0,748.0 1706.2,761.1 1717.7,769.7 C1729.2,778.4 1737.0,786.0 1746.6,795.6 C1756.2,805.2 1765.8,817.3 1775.4,827.4 C1785.0,837.5 1796.6,848.5 1804.3,856.2 C1812.0,863.9 1815.8,866.9 1821.6,873.6 C1827.4,880.4 1834.6,891.0 1838.9,896.7 C1843.2,902.4 1843.0,903.2 1847.3,908.0 C1851.6,912.8 1857.9,921.6 1864.6,925.5 C1871.3,929.4 1881.0,931.3 1887.7,931.3 C1894.4,931.3 1899.2,930.3 1905.0,925.5 C1910.8,920.7 1916.6,913.0 1922.4,902.4 C1928.2,891.8 1933.9,877.4 1939.7,862.0 C1945.5,846.6 1951.2,827.8 1957.0,810.0 C1962.8,792.2 1969.7,769.9 1974.3,755.2 C1978.9,740.5 1982.7,727.5 1984.4,722.0" fill="none" stroke="#399a48" stroke-width="7.2" stroke-linejoin="round" stroke-linecap="butt" />
<line x1="1672.9" y1="676.6" x2="1990.4" y2="676.6" stroke="#000" stroke-width="6.8" stroke-dasharray="24.00 23.50 38.00 23.50 38.00 23.50 38.00 23.50 38.00 23.50 24.00 1000"/>
<line x1="1672.9" y1="953.7" x2="1990.4" y2="953.7" stroke="#000" stroke-width="6.8" stroke-dasharray="24.00 23.50 38.00 23.50 38.00 23.50 38.00 23.50 38.00 23.50 24.00 1000"/>
<line x1="1676.3" y1="673.2" x2="1676.3" y2="957.1" stroke="#000" stroke-width="6.8" stroke-dasharray="24.00 16.78 38.00 16.78 38.00 16.78 38.00 16.78 38.00 16.78 24.00 1000"/>
<line x1="1987.0" y1="673.2" x2="1987.0" y2="957.1" stroke="#000" stroke-width="6.8" stroke-dasharray="24.00 16.78 38.00 16.78 38.00 16.78 38.00 16.78 38.00 16.78 24.00 1000"/>
<line x1="1845.5" y1="676.6" x2="1845.5" y2="711" stroke="#000" stroke-width="3.2" stroke-dasharray="12 9"/>
<line x1="1845.5" y1="753" x2="1845.5" y2="767" stroke="#000" stroke-width="3.6"/>
<line x1="1845.5" y1="775" x2="1845.5" y2="953.7" stroke="#000" stroke-width="3.2" stroke-dasharray="11 8"/>
<line x1="1890.8" y1="676.6" x2="1890.8" y2="711" stroke="#000" stroke-width="3.2" stroke-dasharray="12 9"/>
<line x1="1890.8" y1="753" x2="1890.8" y2="767" stroke="#000" stroke-width="3.6"/>
<line x1="1890.8" y1="775" x2="1890.8" y2="953.7" stroke="#000" stroke-width="3.2" stroke-dasharray="11 8"/>
<line x1="1852" y1="760" x2="1884" y2="760" stroke="#000" stroke-width="3.2" />
<path d="M1847,760 L1860,754 L1857,760 L1860,766 Z" fill="#000"/>
<path d="M1889.5,760 L1876.5,754 L1879.5,760 L1876.5,766 Z" fill="#000"/>
<line x1="1676.3" y1="719.2" x2="1686.3" y2="719.2" stroke="#000" stroke-width="3.6" />
<line x1="1977" y1="719.2" x2="1987" y2="719.2" stroke="#000" stroke-width="3.6" />
<line x1="1676.3" y1="825" x2="1686.3" y2="825" stroke="#000" stroke-width="3.6" />
<line x1="1977" y1="825" x2="1987" y2="825" stroke="#000" stroke-width="3.6" />
<line x1="1676.3" y1="932.7" x2="1686.3" y2="932.7" stroke="#000" stroke-width="3.6" />
<line x1="1977" y1="932.7" x2="1987" y2="932.7" stroke="#000" stroke-width="3.6" />
<line x1="1782.7" y1="676.6" x2="1782.7" y2="686.6" stroke="#000" stroke-width="3.6" />
<line x1="1782.7" y1="953.7" x2="1782.7" y2="943.7" stroke="#000" stroke-width="3.6" />
<line x1="1883.4" y1="676.6" x2="1883.4" y2="686.6" stroke="#000" stroke-width="3.6" />
<line x1="1883.4" y1="953.7" x2="1883.4" y2="943.7" stroke="#000" stroke-width="3.6" />
<text x="1661" y="728.5" font-size="28.5" text-anchor="end" fill="#000" font-weight="normal" >0</text>
<text x="1661" y="943.5" font-size="28.5" text-anchor="end" fill="#000" font-weight="normal" >−1</text>
<text x="1676" y="989.5" font-size="28.5" text-anchor="middle" fill="#000" font-weight="normal" >1.75</text>
<text x="1782.7" y="989.5" font-size="28.5" text-anchor="middle" fill="#000" font-weight="normal" >1.8</text>
<text x="1883.4" y="989.5" font-size="28.5" text-anchor="middle" fill="#000" font-weight="normal" >1.85</text>
<text x="1987" y="989.5" font-size="28.5" text-anchor="middle" fill="#000" font-weight="normal" >1.9</text>
<text x="1838" y="1032.3" font-size="29" text-anchor="middle" fill="#000" font-weight="normal" >Emission frequency (× 10<tspan dy="-11" font-size="19">4</tspan><tspan dy="11"> cm</tspan><tspan dy="-11" font-size="19">−1</tspan><tspan dy="11">)</tspan></text>
<text x="1606.5" y="815.7" font-size="29" text-anchor="middle" fill="#000" font-weight="normal" transform="rotate(-90 1606.5 815.7)" >Normalized 2D intensity</text>
<text x="1746" y="738.5" font-size="20" text-anchor="start" fill="#000" font-weight="normal" >Δ<tspan font-style="italic">E</tspan><tspan dy="6" font-size="12">S</tspan><tspan dy="2" font-size="8">1</tspan><tspan dy="-2" font-size="12">–S</tspan><tspan dy="2" font-size="8">N</tspan><tspan dy="-8"> = 200 cm</tspan><tspan dy="-9" font-size="14">−1</tspan></text>
<clipPath id="clipAL"><rect x="114" y="123" width="315" height="369.4"/></clipPath>
<g clip-path="url(#clipAL)">
<path d="M111.1,383 L116.5,387 L117.4,391 L115.1,395 L110,399.2 L110,382.5 Z M262,402.8 L274,403.3 L277.8,405 L278.8,407 L277.2,411 L273,415 L266,419 L260,420.7 L254,421.3 L248,420.1 L244.5,417 L244.2,415 L246.2,411 L251.1,407 L261.1,403 Z" fill="#4b76b9" stroke="#4b76b9" stroke-width="0.6" fill-rule="evenodd"/>
<path d="M112,376.8 L122,380.5 L129,385 L132.8,389 L133.9,393 L132.7,397 L130,399.8 L110,410.7 L110,399.2 L116.6,393 L117.4,389 L114.4,385 L110,382.5 L110,376.2 Z M272,387 L286,387.4 L293.8,391 L296.9,395 L298.1,399 L296.5,407 L290,415.9 L278,424.6 L264,430.5 L250,433.6 L244,433.6 L236,431.7 L223.7,425 L216.7,419 L211.6,413 L209.7,407 L210.5,403 L216,397.3 L224,394.1 L271.5,387 Z M261.1,403 L251.1,407 L246.2,411 L244.2,415 L244.5,417 L248,420.1 L254,421.3 L260,420.7 L266,419 L273,415 L277.2,411 L278.8,407 L277.8,405 L274,403.3 L262,402.8 Z" fill="#4a81c1" stroke="#4a81c1" stroke-width="0.6" fill-rule="evenodd"/>
<path d="M112,371.9 L126.7,377 L140.1,385 L150.7,397 L153.6,405 L150.1,411 L143.6,415 L110,424.8 L110,410.7 L130,399.8 L132.7,397 L133.9,393 L132,388 L126.3,383 L120,379.6 L110,376.2 L110,371.3 Z M252,374.9 L276,374.5 L292,377.5 L298.8,381 L303.1,385 L306,391 L306.5,397 L304.9,405 L301.1,413 L296,419.6 L288,427 L280,432.2 L270,436.6 L250,441.5 L236,440.4 L221.6,435 L190.3,417 L183.9,411 L182.2,407 L183,403 L187.4,397 L194.4,391 L204,385.5 L224,378.9 L250.4,375 Z M271.5,387 L224,394.1 L216,397.3 L210.5,403 L209.7,407 L211.6,413 L216.7,419 L223.7,425 L236,431.7 L244,433.6 L250,433.6 L264,430.5 L278,424.6 L290,415.9 L296.5,407 L298.1,399 L296.9,395 L293.8,391 L286,387.4 L272,387 Z" fill="#4e8ac6" stroke="#4e8ac6" stroke-width="0.6" fill-rule="evenodd"/>
<path d="M111.4,367 L136,375.9 L160,388.3 L168,389.8 L176,388.4 L196.7,379 L228,369.7 L256,366.2 L280,366.9 L294,369.8 L306,375.6 L313.4,383 L315.1,391 L313.9,399 L310.3,409 L301.3,423 L288,435.5 L280,440.2 L270,444.2 L254,448.3 L240,448.6 L226,445.4 L206,437.3 L190,432.5 L176,429.9 L166,429.9 L148,434.1 L130,441.8 L120,449.2 L110,461.3 L110,424.8 L143.6,415 L150.1,411 L153.6,405 L150.7,397 L140.1,385 L126.7,377 L110,371.3 L110,366.5 Z M250.4,375 L224,378.9 L204,385.5 L194.4,391 L187.4,397 L183,403 L182.2,407 L183.9,411 L190.3,417 L221.6,435 L236,440.4 L250,441.5 L270,436.6 L280,432.2 L288,427 L296,419.6 L301.1,413 L304.9,405 L306.5,397 L306,391 L303.1,385 L298.8,381 L292,377.5 L276,374.5 L252,374.9 Z" fill="#5692ca" stroke="#5692ca" stroke-width="0.6" fill-rule="evenodd"/>
<path d="M248,360.9 L272,360.3 L292,363 L302,366.1 L312.8,371 L318.9,375 L322.3,379 L324.1,387 L323.1,397 L315.2,415 L304.8,429 L294,440.2 L286,445.5 L274,450.7 L260,454.7 L246,456.5 L230,454.5 L218,451.4 L208,447.4 L198,445.4 L180,443.8 L168,444.9 L158,448.2 L148.3,453 L137.9,461 L110,478.3 L110,461.3 L120,449.2 L126,444.3 L135.6,439 L158,431.2 L170,429.6 L184,431.1 L204,436.6 L228,446 L242,448.8 L258,447.5 L276,442 L290,434 L304.5,419 L311.8,405 L314.5,397 L315.1,391 L314.2,385 L312.1,381 L308,377 L301.6,373 L286,367.8 L264,365.9 L244,367.2 L222.1,371 L196.7,379 L176,388.4 L166,389.7 L158,387.4 L134,375 L110,366.5 L110,361.1 L158,379.5 L168,381.5 L176,380.2 L194,373.3 L220,365.5 L246.4,361 Z" fill="#699fd1" stroke="#699fd1" stroke-width="0.6" fill-rule="evenodd"/>
<path d="M112,354.8 L124.7,361 L156,372.8 L168,375.2 L176,374.2 L216,361.6 L234,357.8 L262,355.5 L286,356.9 L308,362.2 L323.8,369 L330.9,377 L332.8,383 L333.4,389 L330.8,403 L318.8,425 L301.3,445 L293.6,451 L284,456.1 L264,462.5 L246,464.8 L230,463.5 L200,457.2 L188,456.8 L178,457.9 L164,462.5 L136,478.1 L110,486 L110,478.3 L137.9,461 L148.3,453 L158,448.2 L168,444.9 L180,443.8 L198,445.4 L208,447.4 L228,454 L244,456.5 L262,454.2 L282,447.5 L296,438.4 L312.8,419 L322.5,399 L324.1,387 L322.3,379 L316.2,373 L300,365.3 L284,361.5 L260,360.2 L231.6,363 L207.8,369 L176,380.2 L168,381.5 L158,379.5 L110,361.1 L110,353.8 Z" fill="#81aed9" stroke="#81aed9" stroke-width="0.6" fill-rule="evenodd"/>
<path d="M112,348.2 L126,355.2 L154,366.4 L168,369.8 L178,368.4 L220,355.9 L240,352.7 L276,351.6 L304,355.7 L324,360.9 L334,367 L338.8,373 L341.4,379 L343.5,395 L342.7,403 L339.6,413 L334.6,423 L327.6,433 L308,453.4 L298,460.7 L288,465.9 L270,471.3 L248,474.1 L232,473.8 L200,469.9 L186,470.6 L170,475 L142,488.7 L110,493.3 L110,486 L136,478.1 L162.9,463 L176,458.3 L186,456.9 L198,457 L230,463.5 L246,464.8 L266,462 L286,455.2 L294,450.7 L301.3,445 L318.8,425 L330.8,403 L333.4,389 L332.8,383 L330.9,377 L324,369.1 L310.5,363 L290,357.6 L266,355.5 L236,357.5 L216,361.6 L176,374.2 L166,375.1 L156,372.8 L118,358 L110,353.8 L110,347.4 Z" fill="#9ec1e2" stroke="#9ec1e2" stroke-width="0.6" fill-rule="evenodd"/>
<path d="M112,342.5 L156,361.3 L168,364.3 L178,363.1 L220,351.3 L244,348.3 L280,348.2 L326,354 L338,359.1 L344,363.8 L348.2,369 L355.9,389 L359.2,409 L358.1,419 L355.6,427 L352.4,433 L345.8,441 L332.3,453 L314,466.4 L303.8,473 L294,477.5 L276,482 L254,484.2 L230,484.7 L202,483 L188,483.7 L170,488.3 L155.6,495 L110,495 L110,493.3 L134,490.4 L144,488.1 L168,475.9 L184,470.9 L200,469.9 L232,473.8 L250,474 L272,470.9 L290,465 L300,459.4 L308.4,453 L318.8,443 L329.1,431 L335.7,421 L340.4,411 L342.7,403 L343.6,393 L341.4,379 L336,369 L326,361.8 L310,357 L278,351.7 L242,352.5 L222,355.5 L178,368.4 L166,369.6 L156,367.2 L130.2,357 L110,347.4 L110,341.8 Z" fill="#bfd5eb" stroke="#bfd5eb" stroke-width="0.6" fill-rule="evenodd"/>
<path d="M112,336.6 L158,355.2 L168,357.7 L176.4,357 L210,348.1 L234,345 L264,344.1 L328,346.4 L336,348.4 L344,352.1 L364,367.5 L370,370.7 L378,371.9 L394,368.5 L400,369.1 L406.5,375 L410.1,383 L411.3,393 L410,403 L396.4,443 L392,452.3 L387.3,459 L382,464.1 L376,467.6 L336,478.4 L304,490.4 L286,493.7 L268.5,495 L155.6,495 L168,489.1 L186,484 L204,483 L238,484.7 L264,483.4 L286,479.8 L302,474 L318.8,463 L337.2,449 L347.7,439 L353.6,431 L357.6,421 L359.2,411 L358.6,401 L355.4,387 L349.3,371 L345.2,365 L336,357.9 L324,353.5 L280,348.2 L242,348.5 L220,351.3 L178,363.1 L168,364.3 L156,361.3 L110,341.8 L110,336 Z" fill="#e2ecf6" stroke="#e2ecf6" stroke-width="0.6" fill-rule="evenodd"/>
<path d="M112,329.8 L128,333.7 L152,344.1 L168,348.1 L178,347.3 L200,342.1 L258,340.4 L280,342.2 L318,338.2 L332,338.2 L344,341.4 L366,352.2 L376,354.1 L402,355.5 L419.4,361 L432,366.9 L432,495 L268.5,495 L288,493.5 L304,490.4 L336,478.4 L372,469.2 L384,462.4 L390,455.5 L395.6,445 L410,403 L411.3,393 L410.6,385 L408,377.6 L404,372 L400,369.1 L396,368.4 L378,371.9 L370,370.7 L364,367.5 L351.3,357 L342,351 L332,347.2 L322,345.8 L262,344.1 L232,345.1 L204,349.3 L176,357.1 L166,357.4 L158,355.2 L132,343.9 L110,336 L110,329.4 Z" fill="#ffffff" stroke="#ffffff" stroke-width="0.6" fill-rule="evenodd"/>
<path d="M112,119 L137,119 L126,125.5 L110,130.9 L110,119 Z M170,119 L197.9,119 L180,119.9 L169.8,119 Z M412,119 L432,119 L432,131.2 L420,125.4 L411,119 Z M432,152.5 L432,168.2 L430.7,159 L431.8,153 Z M112,319.6 L130,320.1 L138,322.8 L154,330.9 L178,335 L268,336.6 L280,338 L296,334.4 L332,329.3 L346,331.7 L374,340.7 L406,347.4 L418,347.6 L432,344.3 L432,366.9 L419.4,361 L402,355.5 L376,354.1 L366,352.2 L344,341.4 L330,338 L298,339.8 L280,342.2 L258,340.4 L200,342.1 L178,347.3 L168,348.1 L152,344.1 L128,333.7 L110,329.4 L110,319.3 Z" fill="#ffffff" stroke="#ffffff" stroke-width="0.6" fill-rule="evenodd"/>
<path d="M136,119.7 L137,119 L180,119.9 L197.9,119 L267.7,119 L254,123.7 L232,129 L178,136.5 L128,146.2 L110,151 L110,130.9 L124,126.3 L134.2,121 Z M334,119 L411,119 L420,125.4 L432,131.2 L432,152.5 L430.7,159 L432,168.2 L432,197.1 L426.5,185 L410.3,159 L398,143 L388,132.4 L382,128.5 L376,126.5 L350,122.9 L333.6,119 Z M111.8,295 L178,324.7 L194,328.2 L216,330.5 L250,332.3 L272,332 L294,329.2 L326,321.9 L336,321.2 L362,324.8 L398,334.8 L408,336.3 L412,335.4 L418,331.9 L432,319.2 L432,344.3 L416,347.8 L406,347.4 L378,341.6 L344,331.2 L332,329.3 L296,334.4 L280,338 L268,336.6 L178,335 L154,330.9 L138,322.8 L130,320.1 L110,319.3 L110,294.4 Z" fill="#ebf4e3" stroke="#ebf4e3" stroke-width="0.6" fill-rule="evenodd"/>
<path d="M264,120.4 L267.7,119 L288.2,119 L272.2,127 L244.3,137 L228,141.1 L186,147.3 L162,152.2 L132,160.2 L110,168.9 L110,151 L128,146.2 L178,136.5 L230,129.4 L262.5,121 Z M312,119 L333.6,119 L350,122.9 L376,126.5 L384,129.5 L394,138.4 L408,155.7 L420.6,175 L430,191.9 L432,197.1 L432,319.2 L416.3,333 L412,335.4 L406,336.3 L362.8,325 L338,321.3 L326,321.9 L292,329.6 L268,332.2 L232,331.5 L194,328.2 L176,323.9 L110,294.4 L110,285.6 L128,292.3 L166,311.8 L186,319.8 L206,324.1 L242,327.4 L264,327.9 L286,325.7 L304,322.1 L324,316.1 L338,314.3 L358,314.4 L398,318.7 L406,316.9 L414,311.7 L421.4,303 L426.6,293 L430,281 L431.4,267 L431.5,241 L430.2,225 L425.9,207 L419.2,191 L410.4,177 L400,163.8 L388,151.3 L378,143.4 L364,136.8 L324,125.3 L311.3,119 Z" fill="#cfe5b8" stroke="#cfe5b8" stroke-width="0.6" fill-rule="evenodd"/>
<path d="M286,120.3 L288.2,119 L311.3,119 L326,126 L360,135.5 L372,140 L382,146.2 L394,157.2 L406,171.1 L415.7,185 L423.8,201 L429.5,221 L431.5,239 L431.3,269 L429.1,285 L424.9,297 L418,307.6 L408,315.9 L402,318.2 L394,318.8 L360,314.6 L338,314.3 L324,316.1 L294,324.4 L272,327.4 L252,327.9 L218,325.4 L198,322.8 L180,317.7 L162,309.8 L129.5,293 L110,285.6 L110,278.8 L123.1,283 L138,289.5 L174,308.5 L198,317 L224,321 L256,323.4 L272,323.2 L288,321.3 L302,318.1 L322,311.6 L336,308.9 L354,306.9 L388,305.5 L398,302.3 L406,296.8 L411.2,291 L415.9,283 L420.7,267 L422.9,235 L421.6,223 L418.6,211 L410,191 L395.2,171 L376,153.5 L358,143.9 L338,137.6 L304,128.9 L298,128.4 L237.4,147 L180,157.9 L156,163.8 L132,171.7 L110,181 L110,168.9 L128,161.5 L174,149.6 L237.4,139 L268,128.6 L284.8,121 Z" fill="#b5d793" stroke="#b5d793" stroke-width="0.6" fill-rule="evenodd"/>
<path d="M296,128.7 L302,128.5 L340,138.1 L356,143.2 L368,148.5 L380,156.6 L392,167.6 L403.4,181 L411.1,193 L418,209 L422.3,227 L422.7,243 L420.3,269 L416.8,281 L410,292.5 L402,300 L392,304.6 L382,306.2 L354,306.9 L334,309.2 L322,311.6 L296,319.6 L278,322.7 L260,323.5 L232,321.8 L204,318.3 L186,313.3 L168,305.7 L132,286.6 L110,278.8 L110,273 L128,278.3 L147.2,287 L176,302.8 L202,312.3 L232,316.8 L264,319.3 L276,319.1 L288,317.5 L330,305.7 L379.6,297 L388,294.1 L395.8,289 L406.1,277 L409.1,271 L411.3,263 L414.9,233 L413.4,221 L410,209 L406,199 L400.4,189 L386,171.7 L368,156.8 L348,147.4 L332,142.9 L308,139.8 L294,139.5 L278,141.4 L238,152.7 L164,170.3 L140,178.2 L110,189.8 L110,181 L144,167.5 L176,158.8 L237.4,147 L294.8,129 Z" fill="#9fcb71" stroke="#9fcb71" stroke-width="0.6" fill-rule="evenodd"/>
<path d="M282,140.7 L302,139.5 L332,142.9 L354,149.6 L370,158.2 L388,173.7 L402,191.5 L410.7,211 L413.8,223 L414.9,233 L411.6,261 L409.1,271 L401.8,283 L392,291.8 L380,296.9 L330,305.7 L300,314.7 L284,318.2 L270,319.3 L252,318.6 L224,315.9 L202,312.3 L176,302.8 L134,280.7 L110,273 L110,267.9 L134,274.4 L152,282 L180,297.5 L204,306.8 L232,311.8 L268,315.5 L282,314.9 L298,311.7 L322,304.2 L372,291.2 L386,284.5 L392.1,279 L398.2,271 L403.5,257 L406.6,241 L407.3,231 L406.2,221 L403,209 L394,191 L378,172.5 L360.3,159 L340,150.4 L328,147.8 L308,146.2 L288,146.3 L272,148.2 L198,168.1 L110,196.7 L110,189.8 L152,174 L180,166.1 L240,152.2 L266,144.1 L280.1,141 Z" fill="#90c256" stroke="#90c256" stroke-width="0.6" fill-rule="evenodd"/>
<path d="M280,146.9 L304,146.1 L330,148.1 L348,153.2 L364,161.3 L382,176.4 L395.3,193 L403.6,211 L407.3,231 L405.6,247 L400.4,267 L393.9,277 L384,285.8 L368,292.4 L322,304.2 L298,311.7 L282,314.9 L270,315.5 L252,314.2 L226,310.9 L204,306.8 L180,297.5 L154,283 L140.8,277 L128,272.4 L110,267.9 L110,262.9 L142.4,271 L160,278.1 L191.2,295 L210,302 L238,307.7 L270,311.8 L284,311.2 L302,307.3 L360.6,289 L378,280.6 L384.5,275 L389.4,269 L393.9,261 L396.7,253 L399.3,241 L400.3,231 L399.6,221 L397.1,211 L393,201 L388.2,193 L372.7,175 L356,162.3 L338,154.8 L324,152.1 L306,151.2 L284,151.5 L268,153.8 L220,166.3 L168,185.1 L110,202.9 L110,196.7 L146,184.3 L212,164 L266,149.5 L279.6,147 Z" fill="#97c44c" stroke="#97c44c" stroke-width="0.6" fill-rule="evenodd"/>
<path d="M272,153 L294,151.1 L324,152.1 L340,155.4 L354,161.2 L370.5,173 L385.3,189 L394.9,205 L399.8,223 L399.6,239 L395.4,257 L389.4,269 L380.1,279 L372,284.2 L360.6,289 L290,310.2 L278,311.8 L264,311.4 L233.8,307 L210,302 L190,294.4 L161.7,279 L150,273.8 L132,267.8 L110,262.9 L110,257.9 L146,265.5 L166,272.7 L195.3,289 L210,295.3 L238.8,303 L272,308.3 L288,307.4 L310,301.9 L347.8,289 L368.9,279 L376.4,273 L381.7,267 L389.1,253 L393.5,233 L393.5,223 L392.2,215 L389.4,207 L384,197 L369.4,179 L354,166.5 L346,162.3 L336,158.7 L322,156.3 L302,155.5 L282,156 L266,158.4 L225,169 L170,191.6 L110,209.2 L110,202.9 L168,185.1 L220,166.3 L271.9,153 Z" fill="#acc84b" stroke="#acc84b" stroke-width="0.6" fill-rule="evenodd"/>
<path d="M274,156.9 L294,155.5 L322,156.3 L338,159.3 L351.4,165 L367.4,177 L381.4,193 L390.2,209 L393.5,223 L392.7,239 L388.4,255 L381.7,267 L372,276.8 L360,283.9 L337.2,293 L304,303.7 L288,307.4 L276,308.4 L264,307.6 L220,298.4 L199.4,291 L170,274.7 L157.1,269 L136,262.9 L110,257.9 L110,252.2 L136,256.5 L156,261.4 L172,267.4 L203.6,285 L217.3,291 L242.2,299 L272,304.9 L290,303.9 L312,298.4 L337.9,289 L358.8,279 L372,268.2 L377.5,261 L381.8,253 L386.7,235 L387.4,225 L386.7,217 L384.1,209 L378.8,199 L366,182.6 L350,169.3 L334,162.5 L314,159.7 L286,159.6 L270,161.5 L246,167.1 L220.4,175 L186,191.5 L168,198.8 L110,216.2 L110,209.2 L170,191.6 L226,168.7 L273.3,157 Z" fill="#c4ce4b" stroke="#c4ce4b" stroke-width="0.6" fill-rule="evenodd"/>
<path d="M274,160.8 L292,159.4 L318,160 L334,162.5 L346,167.1 L360,176.8 L373.3,191 L383.1,207 L387.3,221 L386.4,237 L382.6,251 L376.1,263 L367.2,273 L355.3,281 L333.1,291 L312,298.4 L290,303.9 L278,305.1 L268,304.4 L238,297.9 L208,287.2 L175.2,269 L162,263.3 L140,257.4 L110,252.2 L110,244.2 L136,249.1 L154,253.8 L178.4,263 L214,282 L233.5,291 L254,297.8 L272,301.4 L288,301 L310,296 L329.3,289 L349.5,279 L363,269 L369.7,261 L374.6,253 L379.8,237 L381,219 L378.6,211 L373.5,201 L361.6,185 L347.7,173 L340,168.9 L330,165.7 L310,163.2 L282,163.4 L268,165.5 L242,172 L222.4,179 L177.6,201 L110,226 L110,216.2 L172,197.4 L228,172.2 L272.5,161 Z" fill="#dbd04c" stroke="#dbd04c" stroke-width="0.6" fill-rule="evenodd"/>
<path d="M290,163 L312,163.3 L328,165.3 L340,168.9 L350,174.6 L363.4,187 L373.5,201 L380.1,215 L381.1,227 L379,241 L374.6,253 L366.7,265 L356,274.9 L338,285 L318,293.4 L296,299.6 L280,301.7 L262,299.7 L236,292 L214,282 L182.7,265 L160,255.8 L138,249.5 L110,244.2 L110,226 L182,199.2 L220,180.1 L232.4,175 L268,165.5 L288.7,163 Z M279.2,167 L260.7,171 L240.5,177 L228,181.9 L199,197 L154.2,217 L142.5,225 L138.8,229 L137.3,233 L137.8,235 L141.3,239 L151.1,245 L202,266.1 L229.5,283 L241.4,289 L256,294.3 L268,297.3 L278,298.3 L288,297.8 L306,294 L322,288.5 L340.6,279 L354.8,269 L363.7,259 L370.4,247 L373.8,235 L374.7,221 L371.3,209 L363.5,195 L353,183 L342,174.8 L332,170.5 L318,167.5 L298,166.1 L280,166.9 Z" fill="#efd34e" stroke="#efd34e" stroke-width="0.6" fill-rule="evenodd"/>
<path d="M280,166.9 L298,166.1 L318,167.5 L332,170.5 L342,174.8 L353,183 L363.5,195 L371.3,209 L374.7,221 L373.8,235 L370.4,247 L363.7,259 L354.8,269 L340.6,279 L322,288.5 L306,294 L288,297.8 L278,298.3 L268,297.3 L256,294.3 L241.4,289 L229.5,283 L202,266.1 L151.1,245 L141.3,239 L137.8,235 L137.3,233 L138.8,229 L142.5,225 L154.2,217 L199,197 L228,181.9 L240.5,177 L260.7,171 L279.2,167 Z M274.7,171 L262,174.3 L238.4,183 L207.3,199 L169.4,215 L158.3,223 L154.6,229 L154.3,233 L157.4,239 L165,245 L176,250.2 L207.7,261 L234,279.8 L248,287.3 L260,291.8 L272,294.4 L282,294.9 L294,293.5 L311.3,289 L324,283.6 L338.5,275 L350.9,265 L359.2,255 L365.3,243 L368.1,231 L367.9,219 L364.1,207 L357.3,195 L348,184.8 L336.7,177 L326,172.9 L310,170 L292,169.2 L276,170.8 Z" fill="#fdd34f" stroke="#fdd34f" stroke-width="0.6" fill-rule="evenodd"/>
<path d="M276,170.8 L292,169.2 L310,170 L326,172.9 L336.7,177 L348,184.8 L357.3,195 L364.1,207 L367.9,219 L368.1,231 L365.3,243 L359.2,255 L350.9,265 L338.5,275 L324,283.6 L311.3,289 L294,293.5 L282,294.9 L272,294.4 L260,291.8 L248,287.3 L234,279.8 L207.7,261 L176,250.2 L165,245 L157.4,239 L154.3,233 L154.6,229 L158.3,223 L169.4,215 L207.3,199 L238.4,183 L262,174.3 L274.7,171 Z M282.6,173 L270,175.5 L260,178.9 L238,188.8 L212,202.7 L176,217.3 L167.7,223 L164.9,227 L163.9,231 L165.9,237 L172,242.4 L180,245.9 L200,251.1 L208,254.6 L218,261.2 L236,276.1 L250,284 L260,288.1 L270,290.6 L288,291.1 L302,288.2 L316.5,283 L328,276.6 L340.8,267 L350.4,257 L357.1,247 L360.9,237 L362.1,225 L360.1,213 L355.2,201 L347.7,191 L338,183 L328,177.8 L314,174 L298,172.3 L284,172.8 Z" fill="#fdcd4b" stroke="#fdcd4b" stroke-width="0.6" fill-rule="evenodd"/>
<path d="M284,172.8 L298,172.3 L314,174 L328,177.8 L338,183 L347.7,191 L355.2,201 L360.1,213 L362.1,225 L360.9,237 L357.1,247 L350.4,257 L340.8,267 L328,276.6 L316.5,283 L302,288.2 L288,291.1 L270,290.6 L260,288.1 L250,284 L236,276.1 L218,261.2 L208,254.6 L200,251.1 L180,245.9 L172,242.4 L165.9,237 L163.9,231 L164.9,227 L167.7,223 L176,217.3 L212,202.7 L238,188.8 L260,178.9 L270,175.5 L282.6,173 Z M278.2,177 L264,181.1 L214,207.3 L178,222.7 L173.2,227 L172,231 L173.5,235 L178,238.5 L198,243.9 L206,247.5 L220,257.8 L236,271.7 L254,282.1 L264,285.8 L274,287.8 L292,287 L304,283.8 L316,278.8 L328,271 L339.3,261 L347.9,251 L353.5,241 L356,231 L355.8,221 L353,209 L348.1,199 L340.8,191 L332,184.5 L322,179.9 L308,176.4 L294,175.4 L280,176.7 Z" fill="#fcc846" stroke="#fcc846" stroke-width="0.6" fill-rule="evenodd"/>
<path d="M280,176.7 L294,175.4 L308,176.4 L322,179.9 L332,184.5 L340.8,191 L348.1,199 L353,209 L355.8,221 L356,231 L353.5,241 L347.9,251 L339.3,261 L328,271 L316,278.8 L304,283.8 L292,287 L274,287.8 L264,285.8 L254,282.1 L236,271.7 L220,257.8 L206,247.5 L198,243.9 L178,238.5 L173.5,235 L172,231 L173.2,227 L178,222.7 L214,207.3 L264,181.1 L278.2,177 Z M288.5,179 L274,181.5 L262,186 L206.1,217 L194.7,225 L191.5,229 L191.9,231 L193.8,233 L206,241.1 L234,266.2 L244,273.2 L264,282.4 L274,284.4 L284,284.5 L294,282.9 L306,279 L316,273.8 L325.2,267 L335.8,257 L344,247 L348.3,239 L350.5,229 L349.6,217 L346.7,207 L342,199 L336,192.9 L326,186 L316,182 L304,179.3 L290,178.9 Z" fill="#fbc040" stroke="#fbc040" stroke-width="0.6" fill-rule="evenodd"/>
<path d="M290,178.9 L304,179.3 L316,182 L326,186 L336,192.9 L342,199 L346.7,207 L349.6,217 L350.5,229 L348.3,239 L344,247 L335.8,257 L325.2,267 L316,273.8 L306,279 L294,282.9 L284,284.5 L274,284.4 L264,282.4 L244,273.2 L234,266.2 L206,241.1 L193.8,233 L191.9,231 L191.5,229 L194.7,225 L206.1,217 L262,186 L274,181.5 L288.5,179 Z M285.9,183 L266,187.8 L224,210.8 L210.3,221 L207.4,225 L206.3,229 L208.1,235 L215.6,245 L230,259.2 L242,268.7 L254,275.3 L264,279.1 L276,281.2 L286,280.8 L298,277.8 L308,273.4 L317.5,267 L326.7,259 L336,249.2 L341.6,241 L344.6,233 L345.3,225 L344.1,215 L341.3,207 L335.8,199 L328,192.2 L318.6,187 L308,183.7 L298,182.5 L286,183 Z" fill="#f9b539" stroke="#f9b539" stroke-width="0.6" fill-rule="evenodd"/>
<path d="M286,183 L298,182.5 L308,183.7 L318.6,187 L328,192.2 L335.8,199 L341.3,207 L344.1,215 L345.3,225 L344.6,233 L341.6,241 L336,249.2 L326.7,259 L317.5,267 L308,273.4 L298,277.8 L286,280.8 L276,281.2 L264,279.1 L254,275.3 L242,268.7 L230,259.2 L215.6,245 L208.1,235 L206.3,229 L207.4,225 L210.3,221 L224,210.8 L266,187.8 L285.9,183 Z M284.8,187 L272,189.4 L264,192.1 L242.5,205 L226,213.3 L220,217.7 L215.1,223 L212.8,231 L215.5,239 L221.2,247 L232,257.8 L242,265.6 L252,271.3 L264,275.9 L274,277.7 L284,277.5 L294,275.1 L303.5,271 L312,265.4 L322,256.7 L330,248.9 L336,241 L339.4,233 L340.4,225 L339.6,217 L336.9,209 L331.5,201 L324.8,195 L316,190.2 L306,187.2 L296,186.1 L286,186.8 Z" fill="#f6aa32" stroke="#f6aa32" stroke-width="0.6" fill-rule="evenodd"/>
<path d="M286,186.8 L296,186.1 L306,187.2 L316,190.2 L324.8,195 L331.5,201 L336.9,209 L339.6,217 L340.4,225 L339.4,233 L336,241 L330,248.9 L322,256.7 L312,265.4 L303.5,271 L294,275.1 L284,277.5 L274,277.7 L264,275.9 L252,271.3 L242,265.6 L232,257.8 L221.2,247 L215.5,239 L212.8,231 L215.1,223 L220,217.7 L226,213.3 L242.5,205 L264,192.1 L272,189.4 L284.8,187 Z M281.9,191 L270,193.1 L262,196 L244,207.3 L229,215 L220.2,223 L217.6,231 L218.7,237 L223.1,245 L232,254.7 L242,262.5 L252,268.3 L262,272.2 L272,274.2 L282,274.2 L290,272.4 L300,268.2 L316,256.1 L330.6,241 L334.5,233 L335.8,225 L334.9,217 L331.8,209 L326,201.4 L320,196.6 L312,192.8 L302,190.3 L294,189.8 L282,191 Z" fill="#f4a02e" stroke="#f4a02e" stroke-width="0.6" fill-rule="evenodd"/>
<path d="M282,191 L294,189.8 L302,190.3 L312,192.8 L320,196.6 L326,201.4 L331.8,209 L334.9,217 L335.8,225 L334.5,233 L330.6,241 L316,256.1 L300,268.2 L290,272.4 L282,274.2 L272,274.2 L262,272.2 L252,268.3 L242,262.5 L232,254.7 L223.1,245 L218.7,237 L217.6,231 L220.2,223 L229,215 L244,207.3 L262,196 L270,193.1 L281.9,191 Z M275.3,195 L268,196.5 L260,199.7 L230,218 L223.6,225 L222.2,229 L222,235 L224.1,241 L229.8,249 L236,255 L246,262.1 L254,266.3 L264,269.6 L274,271.1 L282,270.6 L290,268.5 L300,263.7 L321.7,245 L329,235 L330.8,229 L331.2,221 L328.9,213 L325.4,207 L320,201.4 L314,197.7 L306,194.7 L298,193.3 L276,194.9 Z" fill="#f3982b" stroke="#f3982b" stroke-width="0.6" fill-rule="evenodd"/>
<path d="M276,194.9 L298,193.3 L306,194.7 L314,197.7 L320,201.4 L325.4,207 L328.9,213 L331.2,221 L330.8,229 L329,235 L321.7,245 L300,263.7 L290,268.5 L282,270.6 L274,271.1 L264,269.6 L254,266.3 L246,262.1 L236,255 L229.8,249 L224.1,241 L222,235 L222.2,229 L223.6,225 L230,218 L260,199.7 L268,196.5 L275.3,195 Z M280.7,197 L270,198.5 L262,201.2 L236.7,217 L228.1,225 L225.9,233 L226.9,239 L230.2,245 L236,251.5 L244,257.6 L260,265.5 L270,267.6 L278,267.7 L286,266 L294,262.7 L308,252.9 L323.3,237 L326,231 L327,225 L326.5,219 L324,212.4 L320,206.7 L314,201.8 L300,196.7 L282,196.9 Z" fill="#f18e28" stroke="#f18e28" stroke-width="0.6" fill-rule="evenodd"/>
<path d="M282,196.9 L300,196.7 L314,201.8 L320,206.7 L324,212.4 L326.5,219 L327,225 L326,231 L323.3,237 L308,252.9 L294,262.7 L286,266 L278,267.7 L270,267.6 L260,265.5 L244,257.6 L236,251.5 L230.2,245 L226.9,239 L225.9,233 L228.1,225 L236.7,217 L262,201.2 L270,198.5 L280.7,197 Z M288.5,199 L270,200.9 L256,206.6 L236.3,221 L232.8,225 L230.3,231 L230.4,237 L232,241.3 L235.9,247 L242.3,253 L258,261.8 L274,264.5 L288,261.5 L302,253.4 L316,240.5 L319.9,235 L322.3,229 L322.9,223 L321.8,217 L318.7,211 L315.1,207 L304,200.9 L290,199 Z" fill="#ee8426" stroke="#ee8426" stroke-width="0.6" fill-rule="evenodd"/>
<path d="M290,199 L304,200.9 L315.1,207 L318.7,211 L321.8,217 L322.9,223 L322.3,229 L319.9,235 L316,240.5 L302,253.4 L288,261.5 L274,264.5 L258,261.8 L242.3,253 L235.9,247 L232,241.3 L230.4,237 L230.3,231 L232.8,225 L236.3,221 L256,206.6 L270,200.9 L288.5,199 Z M270.7,203 L256,208.5 L244.4,217 L236.1,227 L234.7,231 L234.7,237 L237.3,243 L240.4,247 L254,256.9 L268,261 L280,260.5 L294,254.7 L309.3,243 L316.8,233 L318.7,227 L318.7,221 L316.7,215 L314,211 L309.4,207 L304,204.1 L292,201.6 L272,202.7 Z" fill="#ea7827" stroke="#ea7827" stroke-width="0.6" fill-rule="evenodd"/>
<path d="M272,202.7 L292,201.6 L304,204.1 L309.4,207 L314,211 L316.7,215 L318.7,221 L318.7,227 L316.8,233 L309.3,243 L294,254.7 L280,260.5 L268,261 L254,256.9 L240.4,247 L237.3,243 L234.7,237 L234.7,231 L236.1,227 L244.4,217 L256,208.5 L270.7,203 Z M271.4,205 L258,209.4 L249.2,215 L241.2,225 L239,231 L238.8,235 L240.8,241 L243.5,245 L254,253.5 L266,257.6 L280,257.2 L294,251.1 L307,241 L313.7,231 L314.8,221 L313.6,217 L310,211.9 L300,205.7 L288,203.8 L272,204.9 Z" fill="#e66c27" stroke="#e66c27" stroke-width="0.6" fill-rule="evenodd"/>
<path d="M272,204.9 L288,203.8 L300,205.7 L310,211.9 L313.6,217 L314.8,221 L313.7,231 L307,241 L294,251.1 L280,257.2 L266,257.6 L254,253.5 L243.5,245 L240.8,241 L238.8,235 L239,231 L241.2,225 L249.2,215 L258,209.4 L271.4,205 Z M271.9,207 L258,211.4 L250,216.7 L243.9,227 L243.1,235 L246.8,243 L256,251.1 L266,254.5 L278,254.5 L292,248.8 L304,239.8 L309.9,231 L311,221 L309.5,217 L306.2,213 L298,208 L286,206.1 L272,207 Z" fill="#e26028" stroke="#e26028" stroke-width="0.6" fill-rule="evenodd"/>
<path d="M272,207 L286,206.1 L298,208 L306.2,213 L309.5,217 L311,221 L309.9,231 L304,239.8 L292,248.8 L278,254.5 L266,254.5 L256,251.1 L246.8,243 L243.1,235 L243.9,227 L250,216.7 L258,211.4 L271.9,207 Z M272.4,209 L260,212.5 L252.4,217 L247.8,225 L246.7,233 L249.8,241 L258,248.7 L268,251.8 L278,251.6 L290,246.8 L300.6,239 L306.1,231 L307.4,223 L305,217 L297.4,211 L286,208.4 L274,208.7 Z" fill="#de5528" stroke="#de5528" stroke-width="0.6" fill-rule="evenodd"/>
<path d="M274,208.7 L286,208.4 L297.4,211 L305,217 L307.4,223 L306.1,231 L300.6,239 L290,246.8 L278,251.6 L268,251.8 L258,248.7 L249.8,241 L246.7,233 L247.8,225 L252.4,217 L260,212.5 L272.4,209 Z M273.1,211 L262,214 L255.8,217 L251.4,223 L250,231 L252.5,239 L258.1,245 L266,248.6 L276,249.2 L286,246 L296.4,239 L301.3,233 L303.4,225 L301.6,219 L294.3,213 L284,210.6 L274,210.8 Z" fill="#d94b28" stroke="#d94b28" stroke-width="0.6" fill-rule="evenodd"/>
<path d="M274,210.8 L284,210.6 L294.3,213 L301.6,219 L303.4,225 L301.3,233 L296.4,239 L286,246 L276,249.2 L266,248.6 L258.1,245 L252.5,239 L250,231 L251.4,223 L255.8,217 L262,214 L273.1,211 Z M274.1,213 L264,215.6 L257.5,219 L254,224.2 L253.2,231 L255.2,237 L260.7,243 L268,246.1 L276,246.5 L284,244.2 L292.1,239 L297.4,233 L299.4,227 L298.2,221 L294,216.5 L286,213.4 L276,212.8 Z" fill="#d44129" stroke="#d44129" stroke-width="0.6" fill-rule="evenodd"/>
<path d="M276,212.8 L286,213.4 L294,216.5 L298.2,221 L299.4,227 L297.4,233 L292.1,239 L284,244.2 L276,246.5 L268,246.1 L260.7,243 L255.2,237 L253.2,231 L254,224.2 L257.5,219 L264,215.6 L274.1,213 Z M267,217 L262,219.3 L258,223.1 L256.5,229 L257.9,235 L262,240 L267.4,243 L274,244 L280,243 L286,240.2 L292,235 L295.1,229 L294.6,223 L291.4,219 L284,215.7 L276,215.1 L268,216.7 Z" fill="#d03629" stroke="#d03629" stroke-width="0.6" fill-rule="evenodd"/>
<path d="M268,216.7 L276,215.1 L284,215.7 L291.4,219 L294.6,223 L295.1,229 L292,235 L286,240.2 L280,243 L274,244 L267.4,243 L262,240 L257.9,235 L256.5,229 L258,223.1 L262,219.3 L267,217 Z M269.1,219 L264,221.6 L261.1,225 L260.2,229 L262,235 L266,238.9 L270,240.6 L274,241.2 L280,240.3 L285.9,237 L289.5,233 L291.1,229 L290.9,225 L288.1,221 L284,218.7 L278,217.6 L270,218.7 Z" fill="#cb2d29" stroke="#cb2d29" stroke-width="0.6" fill-rule="evenodd"/>
<path d="M270,218.7 L278,217.6 L284,218.7 L288.1,221 L290.9,225 L291.1,229 L289.5,233 L285.9,237 L280,240.3 L274,241.2 L270,240.6 L266,238.9 L262,235 L260.2,229 L261.1,225 L264,221.6 L269.1,219 Z M272.4,221 L265.8,225 L264.6,231 L266.9,235 L269.7,237 L274,238.2 L278,237.8 L282,236.1 L285.3,233 L286.9,227 L284.5,223 L282,221.5 L274,220.7 Z" fill="#c82a2a" stroke="#c82a2a" stroke-width="0.6" fill-rule="evenodd"/>
<path d="M274,220.7 L282,221.5 L284.5,223 L286.9,227 L285.3,233 L282,236.1 L278,237.8 L274,238.2 L269.7,237 L266.9,235 L264.6,231 L265.8,225 L272.4,221 Z M272.5,225 L270,227.5 L270,231.4 L274,234.4 L278,234.2 L281.8,231 L281.9,227 L278,224.3 L274,224.4 Z" fill="#c5272b" stroke="#c5272b" stroke-width="0.6" fill-rule="evenodd"/>
<path d="M274,224.4 L278,224.3 L281.9,227 L281.8,231 L278,234.2 L274,234.4 L270,231.4 L270,227.5 L272.5,225 Z" fill="#c1242c" stroke="#c1242c" stroke-width="0.6" fill-rule="evenodd"/>
<path d="M110,406.7 L122,399 L128,393.7 L129.2,391 L128.6,389 L126.9,387 L122,383 L118.4,381 L110,378 M266,392.9 L248,396.5 L228,402.2 L223.3,405 L219.9,409 L219.6,411 L221.4,415 L226.2,421 L230.5,425 L236,427.9 L242,429.9 L246,430.6 L252,430.3 L266,426.7 L278.4,421 L284.4,417 L288.9,413 L292,409 L294,405.2 L294.8,401 L294.4,399 L292,395.5 L290,393.9 L286,392.4 L282,391.8 L268,392.6 Z M110,478.3 L114,476.4 L134.9,463 L150,452 L161.1,447 L170,444.5 L184,443.9 L200,445.7 L208,447.4 L218,451.4 L228,454 L236,455.7 L244,456.5 L252,456 L260,454.7 L270,452 L280,448.4 L288,444.4 L296,438.4 L304,430 L312.8,419 L315.2,415 L322.5,399 L323.5,395 L324.1,387 L323.7,383 L322,378.5 L318.9,375 L314,371.7 L298,364.7 L290,362.6 L280,361 L268,360.1 L256,360.3 L242,361.5 L230,363.3 L216,366.6 L195,373 L176,380.2 L168,381.5 L164,381.2 L158,379.5 L142,372.7 L110,361.1 M162.6,495 L180,489.6 L190,487.9 L208,487.3 L232,488.5 L266,487.2 L276,486.2 L286,484.4 L294,482.5 L302,479.7 L310,475.5 L343.1,455 L352,448.6 L362.5,439 L366,433 L368.9,421 L369.6,411 L368.2,403 L359.6,383 L352.6,369 L349.9,365 L345.8,361 L340,356.8 L334,353.8 L328,351.9 L316,350 L278.8,347 L262,346.5 L242,347.2 L228,348.5 L218,350.1 L192,356.8 L178,361.2 L168,362.3 L158,360 L142,352.8 L110,339.9 M346.9,119 L360,120.4 L380,120.5 L386,121.9 L390,124.2 L399.6,135 L411.5,151 L432,188.1 M110,143.8 L152,135.4 L192,129.5 L226,125.7 L258,119 M432,328.2 L423.1,335 L416.4,339 L412,340.7 L408,341.1 L396,338.5 L358,327.7 L344,324.8 L336,323.8 L326,324.3 L294,331 L274,333.5 L242,333.5 L199.5,331 L186,329.5 L176,327.1 L154,318.4 L130,307 L110,298.5 M110,192.2 L138,181.7 L164.3,173 L196,164.5 L243.5,153 L270,145 L282,142.9 L296,141.9 L310,142.3 L326,143.9 L334,145.2 L342,147.4 L360,154.6 L373,163 L386.3,175 L396.4,187 L400.3,193 L404.5,201 L410,217 L411.6,225 L412.3,233 L411.2,245 L408.1,263 L406.4,269 L404,273.8 L398.8,281 L395.1,285 L390,289.1 L384,292.5 L376.3,295 L327.4,305 L300,313.5 L282,317.3 L270,318.1 L250,316.9 L224,314.1 L202,310.3 L186.7,305 L176,300.5 L151.9,287 L136,279.4 L126,275.6 L110,271.2 M110,226 L182,199.2 L194,193.7 L220,180.1 L232.4,175 L244,171.5 L270,165.1 L280,163.6 L294,162.9 L314,163.4 L328,165.3 L340,168.9 L350,174.6 L361.6,185 L371.1,197 L375.8,205 L379.4,213 L381,219 L381.3,223 L379.4,239 L375.5,251 L368.3,263 L363,269 L358.5,273 L352.8,277 L344,282 L322,292 L302,298.2 L284,301.5 L276,301.7 L266,300.5 L242,294.2 L220.2,285 L190.7,269 L168,258.6 L154,253.8 L140,250 L110,244.2 M280,179 L292,177.7 L306,178.5 L318,181.2 L328,185.5 L338.4,193 L345.5,201 L349.3,209 L352,221 L352.2,231 L350,239.8 L344.8,249 L336.3,259 L325.3,269 L316,275.5 L304.4,281 L292,284.6 L282,285.8 L274,285.5 L264,283.5 L254,279.7 L238,270.5 L210,246.4 L204,242 L198,239 L181.4,233 L178.7,231 L179.6,229 L182.6,227 L262,184.6 L270,181.4 L279.9,179 Z M284,194.9 L294,194.3 L302,194.9 L310,197.3 L317.4,201 L323.7,207 L327.4,213 L329.4,219 L329.8,225 L328.3,233 L325.2,239 L319.9,245 L310,254.3 L302,260.8 L296,264.5 L288,267.9 L280,269.8 L272,269.9 L262,268.1 L254,265.3 L244,259.8 L236,253.9 L229.3,247 L224.4,239 L223.2,233 L223.6,229 L225.1,225 L228.1,221 L233.3,217 L262,199.6 L270,196.9 L283.1,195 Z M270,208.8 L282,207.5 L290,208 L296,209.4 L300,211.2 L304,214.2 L306.6,217 L308.4,221 L308.7,225 L307.4,231 L305.3,235 L302,239 L292,246.6 L286,249.8 L280,252.1 L274,253.1 L268,252.8 L262,251.5 L258,249.9 L253.8,247 L249.8,243 L247.2,239 L245.7,235 L245.4,231 L246.1,227 L248.6,221 L251.4,217 L254,214.8 L258,212.7 L269.2,209 Z" fill="none" stroke="#000" stroke-width="4.2" stroke-linejoin="round"/>
<line x1="334" y1="123" x2="104" y2="353" stroke="#000" stroke-width="3.4"/>
</g>
<clipPath id="clipAR"><rect x="429" y="123" width="315.70000000000005" height="369.4"/></clipPath>
<g clip-path="url(#clipAR)">
<path d="M587,370.7 L594.3,371 L600.1,375 L601,377 L600.7,381 L599,383.4 L595,385.8 L589,385.1 L582.9,379 L582.3,375 L583.2,373 L586.1,371 Z" fill="#564ca0" stroke="#564ca0" stroke-width="0.6" fill-rule="evenodd"/>
<path d="M579,366.9 L587,365.7 L595,366.4 L603,369 L607.8,373 L609.4,377 L607.9,383 L603,388.6 L597,392 L593,392.6 L589,391.2 L575.5,379 L573.1,375 L572.8,371 L574.3,369 L578.5,367 Z M586.1,371 L583.2,373 L582.3,375 L582.9,379 L589,385.1 L595,385.8 L599,383.4 L600.7,381 L601,377 L600.1,375 L594.3,371 L587,370.7 Z" fill="#5355a6" stroke="#5355a6" stroke-width="0.6" fill-rule="evenodd"/>
<path d="M573,361 L589,361.1 L605,363.4 L612.8,367 L617.7,373 L618.5,377 L617.9,381 L613,389.1 L603,397.1 L593,400.3 L587,399 L577,392 L571,390.2 L565,391.8 L551,399.7 L541,402.3 L533,402.8 L525,401.8 L521,400.2 L517.3,397 L516.5,395 L517,391 L523.1,385 L556,365 L563,362.4 L572.9,361 Z M578.5,367 L574.3,369 L572.8,371 L573.1,375 L575.5,379 L589,391.2 L593,392.6 L597,392 L603,388.6 L607.9,383 L609.4,377 L607.8,373 L603,369 L595,366.4 L587,365.7 L579,366.9 Z M425.1,367 L438.7,377 L442.4,381 L440.9,385 L425,399.7 L425,366.9 Z M463,378.8 L467.9,379 L470.5,381 L470.4,383 L467,385.4 L461,385.1 L456.8,383 L456.8,381 L461.3,379 Z" fill="#505fab" stroke="#505fab" stroke-width="0.6" fill-rule="evenodd"/>
<path d="M426.2,357 L443,366 L471,375.8 L476.3,381 L477.1,385 L475,388.5 L471,390.7 L453,394.2 L443,398.3 L433.7,405 L425,413.2 L425,399.7 L440.9,385 L442.4,381 L438.7,377 L425,366.9 L425,356.2 Z M461.3,379 L456.8,381 L456.8,383 L461,385.1 L467,385.4 L470.4,383 L470.5,381 L467.9,379 L463,378.8 Z M559,356.9 L571,356.1 L607,358.1 L619,362.3 L626.3,369 L627.8,373 L627.6,379 L625.6,385 L621,392.4 L609,402.7 L595,408.9 L571,409.8 L551,412.2 L537,411.7 L527,409.9 L519,407.1 L513,403.3 L509.2,399 L507.5,395 L507.4,391 L509.5,387 L513,383.5 L545,362.9 L558.4,357 Z M572.9,361 L563,362.4 L556,365 L523.1,385 L517,391 L516.5,395 L517.3,397 L521,400.2 L525,401.8 L533,402.8 L541,402.3 L551,399.7 L565,391.8 L571,390.2 L577,392 L587,399 L593,400.3 L603,397.1 L613,389.1 L617.9,381 L618.5,377 L617.7,373 L612.8,367 L605,363.4 L589,361.1 L573,361 Z" fill="#4c6ab2" stroke="#4c6ab2" stroke-width="0.6" fill-rule="evenodd"/>
<path d="M427,348.7 L439,355.8 L467,369.7 L487,382.6 L493,384.4 L509,378.3 L545.3,357 L559,352.5 L609,353.4 L621,356.3 L631,361 L636.6,367 L638.5,373 L636.8,381 L630.7,393 L625,400.5 L619,405.5 L609,411.7 L596.9,417 L585,419.8 L563,421.5 L549,421.2 L537,419.3 L515,412.2 L506.8,407 L493,394.7 L487,393.2 L466.8,397 L450.5,403 L435.9,415 L425,428.8 L425,413.2 L433.7,405 L441.8,399 L449,395.5 L473,389.8 L476.4,387 L477.1,385 L476.3,381 L471,375.8 L443,366 L425,356.2 L425,347.4 Z M558.4,357 L545,362.9 L513,383.5 L509.5,387 L507.4,391 L507.5,395 L509.2,399 L513,403.3 L519,407.1 L527,409.9 L537,411.7 L551,412.2 L571,409.8 L595,408.9 L609,402.7 L621,392.4 L625.6,385 L627.6,379 L627.8,373 L626.3,369 L619,362.3 L607,358.1 L571,356.1 L559,356.9 Z" fill="#4b76b9" stroke="#4b76b9" stroke-width="0.6" fill-rule="evenodd"/>
<path d="M426.9,341 L457,356.7 L477,371.2 L485,373.7 L497,373.9 L507,372.1 L545,352.8 L555,349.7 L567,348.6 L609,349.1 L629.5,353 L637,356 L643.9,361 L648.4,367 L649.8,373 L646.7,383 L637.4,399 L631,406.9 L617,416.2 L597,424.6 L585,427.3 L567,429 L553,429.1 L541,427.7 L519,421.5 L509,417.2 L489,406 L473,401.9 L462.5,405 L452.9,411 L443.1,421 L431.2,437 L425,443 L425,428.8 L430.6,421 L445,406.7 L451,402.7 L459.8,399 L473,395.6 L489,393.2 L493,394.7 L511,409.9 L519,414 L529,417.3 L553,421.5 L585,419.8 L603,414.6 L613.7,409 L623,402.4 L628,397 L633,389 L637.5,379 L638.5,373 L636.6,367 L633,362.6 L627.6,359 L617,355 L601,352.7 L563,352 L549,355.3 L509,378.3 L497,383.5 L491,384.3 L465,368.5 L439,355.8 L425,347.4 L425,340.1 Z" fill="#4a81c1" stroke="#4a81c1" stroke-width="0.6" fill-rule="evenodd"/>
<path d="M427,334.6 L459,349.2 L476,363 L483,366.1 L497,366.5 L507,365.2 L540.2,351 L555,346.7 L567,345.6 L609,345.4 L631,348 L647,353.8 L655.7,361 L658.6,367 L659.4,373 L658.2,381 L655,388.8 L647.9,401 L641,410.1 L629,419.3 L609,427.8 L593,432.1 L577,434.5 L557,435.9 L541,435.2 L515,429.9 L481,415.3 L471,413.8 L466.9,415 L461,418.8 L439.4,443 L425,452.8 L425,443 L431.2,437 L443.1,421 L455,409.3 L467,403.2 L475,401.9 L486.5,405 L515,419.9 L539,427.3 L559,429.3 L587,427 L597,424.6 L609,420 L629,408.6 L638.7,397 L647.7,381 L649.8,373 L648.4,367 L643.9,361 L637,356 L629.5,353 L609,349.1 L567,348.6 L555,349.7 L545,352.8 L507,372.1 L497,373.9 L483,373.4 L475,370 L455,355.6 L425,340.1 L425,333.7 Z" fill="#4e8ac6" stroke="#4e8ac6" stroke-width="0.6" fill-rule="evenodd"/>
<path d="M427,328.4 L464.8,343 L485,355.7 L499,358.8 L509,358.1 L543,346.5 L559,343.3 L607,341.9 L635,344.2 L650.9,349 L660.8,355 L666.2,363 L668.3,375 L667.4,383 L664.2,393 L653,412 L643,421.9 L627,429.8 L597,437.5 L555,442.4 L515,442 L483,438 L475,438 L467,440.8 L441,455.9 L425,462.5 L425,452.8 L439.4,443 L461,418.8 L466.9,415 L471,413.8 L481,415.3 L515,429.9 L531,433.7 L545,435.5 L563,435.6 L585,433.5 L599,430.8 L615,425.6 L632.8,417 L643,407.8 L655.9,387 L658.7,379 L659.4,373 L658.6,367 L655.7,361 L647,353.8 L631,348 L609,345.4 L567,345.6 L555,346.7 L540.2,351 L507,365.2 L497,366.5 L483,366.1 L476,363 L459,349.2 L425,333.7 L425,327.6 Z" fill="#5692ca" stroke="#5692ca" stroke-width="0.6" fill-rule="evenodd"/>
<path d="M427,322.1 L449,330.7 L469.7,337 L495.8,349 L505,351.5 L517,349.6 L547,342 L571,339.2 L619,338.6 L643,341.6 L659,346.9 L667.9,353 L672.3,359 L675,365 L677.2,373 L677.6,379 L673.8,399 L663.5,417 L653,428.2 L639,435.4 L609,442.4 L507,455.6 L463,464.3 L425,473.9 L425,462.5 L442.9,455 L465,441.8 L473,438.4 L481,437.8 L519,442.2 L557,442.3 L599.9,437 L616.9,433 L631,428.3 L645,420.4 L655,409.3 L665,391 L668.3,375 L666.2,363 L660.8,355 L650.9,349 L637,344.6 L611,341.9 L561,343.1 L543,346.5 L509,358.1 L497,358.6 L485,355.7 L464.8,343 L425,327.6 L425,321.3 Z" fill="#699fd1" stroke="#699fd1" stroke-width="0.6" fill-rule="evenodd"/>
<path d="M425.8,315 L453,326 L507,343.2 L517,342.8 L559,336.7 L587,334.5 L629,335.6 L651,339.3 L667,345.9 L677.5,355 L683,363 L686.5,371 L688.9,387 L688.1,397 L686.1,405 L678.6,419 L665.9,433 L651,441.9 L629,447.8 L547,458.5 L505,466.8 L482.4,473 L425,493.7 L425,473.9 L428,473 L467,463.4 L513,454.6 L615,441.4 L633,437.3 L645,432.9 L653,428.2 L658.8,423 L671,405 L675,395 L677.6,377 L674.3,363 L667.9,353 L659,346.9 L645,342 L633,339.6 L621,338.7 L575,338.9 L549,341.7 L517,349.6 L507,351.5 L503,351.3 L495,348.7 L469.7,337 L449,330.7 L425,321.3 L425,314.7 Z" fill="#81aed9" stroke="#81aed9" stroke-width="0.6" fill-rule="evenodd"/>
<path d="M427,308.3 L459,322.2 L491,331.4 L507,334.7 L531,334.8 L577,330.9 L595,330.4 L635,332.6 L657,336.8 L667.6,341 L677.7,347 L685.2,353 L692.5,361 L697.6,369 L702,379 L704.6,389 L705.6,399 L705,407 L702.7,415 L694.9,427 L686.4,435 L675.4,443 L665,448.8 L655,452.9 L635,457.3 L553,466.8 L507,475.6 L487,481.9 L463.7,495 L425,495 L425,493.7 L439,488 L485,472.1 L501,467.7 L545,458.8 L629,447.8 L651,441.9 L665.9,433 L678.6,419 L686.1,405 L688.1,397 L688.9,387 L686.5,371 L679.1,357 L668.7,347 L653,339.9 L631,335.7 L589,334.5 L553,337.3 L517,342.8 L505,342.9 L453,326 L425,314.7 L425,307.6 Z" fill="#9ec1e2" stroke="#9ec1e2" stroke-width="0.6" fill-rule="evenodd"/>
<path d="M427,300.8 L443,306.9 L453,313.6 L461.4,317 L479,322.3 L497,325.7 L535,328.3 L581,326.2 L597,326.3 L643,329.8 L663,334.1 L689,345.8 L699.4,353 L708.2,361 L716.6,371 L721.8,379 L727.5,391 L731.3,403 L732.1,411 L731.3,419 L728.7,429 L725,435.3 L717.5,441 L702.9,449 L667,464.4 L643,469.9 L563,476 L541,478.7 L501,485.8 L493,488.8 L482.3,495 L463.7,495 L485,482.8 L505,476 L561,465.6 L639,456.8 L651,454.1 L663,449.8 L673,444.5 L683.9,437 L693,429 L699.5,421 L703.4,413 L705.3,405 L705.5,397 L704.2,387 L698.7,371 L689.1,357 L674.7,345 L657,336.8 L635,332.6 L595,330.4 L577,330.9 L529,334.9 L505,334.5 L481,328.7 L451,319.2 L425,307.6 L425,300.1 Z" fill="#bfd5eb" stroke="#bfd5eb" stroke-width="0.6" fill-rule="evenodd"/>
<path d="M427,292.6 L447,300.2 L457,307.1 L465,311 L485,316.8 L523,321.5 L589,321.7 L651,326.7 L681,331.4 L731,353.5 L739,354.7 L747,352.9 L747,440.8 L741.7,455 L733,467.6 L719,481.6 L707,489.9 L699,492 L683,489.2 L671,488.9 L655,490.9 L641.7,495 L605.9,495 L599,491.7 L589,489.3 L559,487.6 L527,490.3 L500.5,495 L482.3,495 L497,487 L513,483.3 L559,476.4 L645,469.7 L659,466.9 L673,462.2 L706.9,447 L719,440 L725.3,435 L728.7,429 L731.6,417 L732,409 L730.3,399 L720.6,377 L713.5,367 L706.2,359 L689,345.8 L665,334.8 L645,330 L599,326.5 L581,326.2 L533,328.3 L507,326.9 L489,324.4 L474,321 L457,315.4 L443,306.9 L425,300.1 L425,291.9 Z" fill="#e2ecf6" stroke="#e2ecf6" stroke-width="0.6" fill-rule="evenodd"/>
<path d="M427,284.1 L450.9,293 L477,306.3 L519,315 L589,317.5 L619,320.6 L665,323.5 L681,322.2 L705,329.9 L723,333.4 L731,333.2 L747,329.7 L747,352.9 L741,354.6 L735,354.4 L725,351.2 L679,330.9 L647,326.2 L591,321.8 L523,321.5 L481,316 L465,311 L445,299.3 L425,291.9 L425,283.4 Z M747,440.8 L747,495 L641.7,495 L653,491.4 L669,489 L681.3,489 L699,492 L707,489.9 L719,481.6 L733,467.6 L741.7,455 L746.9,441 Z M539,488.9 L561,487.6 L581,488.4 L596.8,491 L605.9,495 L500.5,495 L511,492.5 L538.3,489 Z" fill="#ffffff" stroke="#ffffff" stroke-width="0.6" fill-rule="evenodd"/>
<path d="M427,119 L496.1,119 L471,122.9 L425,126 L425,119 Z M707,119 L747,119 L747,171.2 L743.7,161 L744.6,151 L742.1,149 L729,144.1 L719,137.2 L713,130.8 L706.1,119 Z M427,275.9 L459,287 L485,299.6 L523,308.1 L619,316.5 L681,317.8 L723,323.2 L747,323.8 L747,329.7 L733,332.9 L725,333.5 L707,330.4 L681,322.2 L665,323.5 L619,320.6 L589,317.5 L519,315 L485,308.5 L473,304.7 L450.9,293 L425,283.4 L425,275.1 Z" fill="#ffffff" stroke="#ffffff" stroke-width="0.6" fill-rule="evenodd"/>
<path d="M485,120.9 L496.1,119 L550,119 L537.7,123 L499,132.3 L469,134.6 L425,134.8 L425,126 L471,122.9 L484.6,121 Z M633,119 L706.1,119 L713,130.8 L719,137.2 L729,144.1 L742.1,149 L744.6,151 L743.7,161 L747,171.2 L747,190.3 L719,161.6 L703,149.6 L673,134.1 L643.6,125 L633,119 Z M427,268.2 L463,280.2 L491,293.4 L527,302 L549,306 L597,311.2 L701,314 L747,317.9 L747,323.8 L729,323.6 L681,317.8 L621,316.7 L559,311.9 L521,307.8 L485,299.6 L459,287 L425,275.1 L425,267.5 Z" fill="#ebf4e3" stroke="#ebf4e3" stroke-width="0.6" fill-rule="evenodd"/>
<path d="M545,120.9 L550,119 L575.5,119 L569,125.2 L561,130.1 L541,136.8 L505.9,145 L489,147.8 L461,148.9 L425,146.3 L425,134.8 L461,134.9 L493,133.1 L509,130.4 L544.6,121 Z M619,119 L633,119 L643,124.8 L677,135.9 L707,152.2 L721,163.5 L747,190.3 L747,204.1 L739,193.6 L724.8,179 L713,168.2 L701,159.3 L689,152.4 L675,146.2 L632.7,133 L623.5,127 L617.2,119 Z M426.1,261 L462.5,273 L487,284.8 L497,288.4 L535,298.6 L577,306.5 L597,308.6 L627,306.1 L747,309.4 L747,317.9 L701,314 L597,311.2 L551,306.3 L527,302 L487,292 L463,280.2 L425,267.5 L425,260.7 Z" fill="#cfe5b8" stroke="#cfe5b8" stroke-width="0.6" fill-rule="evenodd"/>
<path d="M575,119.6 L617.2,119 L623.5,127 L632.7,133 L675,146.2 L695,155.6 L715,169.9 L741.9,197 L747,204.1 L747,220.2 L741.9,209 L730.8,195 L713,177.2 L697,165.1 L685,158.2 L673,153.3 L625.3,141 L613.9,137 L607.5,133 L599,122.7 L597,123.4 L587.1,133 L571,140.5 L553,146.1 L499,159.6 L483,162.1 L465,163.1 L425,159.6 L425,146.3 L467,149 L483,148.4 L499,146.3 L553,133.4 L565,128 L573.7,121 Z M425.8,255 L457.7,265 L493,280.7 L527,291.6 L559,299.7 L589,305.6 L601,305.9 L615,302.5 L625,301.6 L685,302.7 L713,301.9 L735,300.2 L747,296.9 L747,309.4 L629,306.1 L601,308.6 L585,307.6 L537,299 L493,287.1 L462.5,273 L425,260.7 L425,254.8 Z" fill="#b5d793" stroke="#b5d793" stroke-width="0.6" fill-rule="evenodd"/>
<path d="M599,122.7 L607.5,133 L615,137.5 L632.5,143 L671,152.7 L691,161.4 L713,177.2 L737,202.2 L743.1,211 L747,220.2 L747,296.9 L743,298.5 L729,300.9 L699,302.6 L623,301.6 L601,305.9 L589,305.6 L559,299.7 L527,291.6 L493,280.7 L457.7,265 L425,254.8 L425,249.5 L461.7,261 L494.5,275 L535,289.6 L565,297.8 L591,303.4 L601,303.3 L615,299.2 L625,298.2 L705,296.7 L725,293.6 L737,288.6 L740.2,285 L741.8,281 L744.1,257 L743.1,233 L739,217 L729.4,203 L709,181.5 L691,168.4 L675,160.4 L659,155.6 L629,149.4 L611,147.4 L593,147.2 L573,150.3 L507.7,169 L491,172.4 L461,174.6 L425,171.9 L425,159.6 L465,163.1 L483,162.1 L499,159.6 L553,146.1 L571,140.5 L587.1,133 L598,123 Z" fill="#9fcb71" stroke="#9fcb71" stroke-width="0.6" fill-rule="evenodd"/>
<path d="M579,149 L597,147 L619,148.1 L639,151.3 L667,157.7 L679,162 L691,168.4 L705,178.2 L715,187.1 L731.1,205 L738,215 L741.7,225 L743.7,239 L743.8,263 L741.2,283 L738.8,287 L735,289.9 L723,294 L697,297.3 L623,298.4 L615,299.2 L601,303.3 L589,303.1 L535,289.6 L494.5,275 L461.7,261 L425,249.5 L425,244.5 L471,259.5 L509,273.8 L543,288.3 L565,294.7 L591,300.6 L599,300.7 L613,297 L625,295.7 L701,291.7 L714.7,289 L725,284.8 L729.8,281 L732.5,277 L737.3,259 L737.5,237 L735.9,227 L733.1,219 L722.1,203 L705,185.2 L687,172.2 L669,163.7 L651,158.7 L629,155.1 L613,153.9 L593,154.4 L567,159.1 L521,175.2 L501,180.2 L463,183.3 L425,182.5 L425,171.9 L461,174.6 L491,172.4 L507.7,169 L578.9,149 Z" fill="#90c256" stroke="#90c256" stroke-width="0.6" fill-rule="evenodd"/>
<path d="M587,155 L605,153.9 L625,154.6 L649,158.3 L669,163.7 L683,169.9 L699,180.4 L711,190.7 L722.1,203 L732.1,217 L736.3,229 L738,249 L735.8,267 L732.5,277 L727,283.5 L717,288.3 L701,291.7 L633,295.1 L615,296.7 L599,300.7 L589,300.3 L543,288.3 L509,273.8 L471,259.5 L425,244.5 L425,239.3 L445.4,247 L503,264.3 L537,281.9 L549.1,287 L567,292.3 L591,297.5 L599,297.6 L621,293.9 L695,287.4 L707,284.9 L716.4,281 L721.9,277 L725.2,273 L729,265.1 L731.1,257 L732,247 L731.6,237 L729.7,227 L726.5,219 L715,202.6 L699,186.8 L679,173.4 L659,165.1 L645,161.8 L625,159.4 L607,158.8 L591,159.9 L565,165.6 L529,180.9 L508.9,187 L487,189.5 L425,192.4 L425,182.5 L465,183.2 L503,179.8 L521,175.2 L565,159.6 L587,155 Z" fill="#97c44c" stroke="#97c44c" stroke-width="0.6" fill-rule="evenodd"/>
<path d="M603,159 L629,159.7 L655,163.9 L673,170.4 L691,180.8 L709,196 L724.2,215 L728.3,223 L730.7,231 L732,249 L729.7,263 L725.2,273 L719,279.3 L709,284.2 L693,287.7 L623,293.7 L597,297.8 L589,297.2 L575,294.3 L547,286.2 L503,264.3 L445.4,247 L425,239.3 L425,232.8 L436.3,239 L451,244.6 L505,257.7 L547,282.9 L563,288.5 L583,293.1 L593,294.6 L601,294.4 L695,282.5 L710.1,277 L719.2,269 L722.6,263 L725.1,255 L726.1,247 L725.7,237 L721.1,221 L712.1,207 L698.8,193 L681,179.9 L665,171.5 L649,166.4 L625,163.6 L603,163.2 L585,165.3 L569,169.3 L530.9,187 L517,192 L505,194.9 L443,200.1 L425,203 L425,192.4 L483,189.8 L507,187.4 L528.8,181 L569,164.3 L585,160.7 L602,159 Z" fill="#acc84b" stroke="#acc84b" stroke-width="0.6" fill-rule="evenodd"/>
<path d="M611,163 L637,164.6 L655,167.9 L673,175.3 L691,186.6 L706.9,201 L719,217 L725,232.7 L725.9,249 L723.4,261 L719.2,269 L713,275.1 L703,280.2 L687,283.9 L597,294.7 L579,292.4 L555,286 L539.3,279 L511,260.5 L505,257.7 L455,245.8 L432.3,237 L425,232.8 L425,203 L441,200.3 L497,196 L509,194.1 L531,187 L559,173.2 L571,168.7 L591,164.4 L610.4,163 Z M603.3,167 L585,169.4 L569,173.7 L539,189.1 L509,200.5 L497,202.8 L463,206.3 L439.2,211 L431.3,215 L429.6,217 L428.5,221 L429.7,225 L432.6,229 L443.5,237 L463,243.2 L507,251.2 L513,254.4 L539.6,275 L554.8,283 L581,290.1 L603,291.7 L649,285.8 L687,279.4 L699,275.9 L707.6,271 L715,263 L718.5,255 L720.1,245 L718,229 L711.5,215 L698.2,199 L681,185 L665,175.8 L651,170.6 L633,168 L605,166.9 Z" fill="#c4ce4b" stroke="#c4ce4b" stroke-width="0.6" fill-rule="evenodd"/>
<path d="M605,166.9 L633,168 L651,170.6 L665,175.8 L681,185 L698.2,199 L711.5,215 L718,229 L720.1,245 L718.5,255 L715,263 L707.6,271 L699,275.9 L687,279.4 L649,285.8 L603,291.7 L581,290.1 L554.8,283 L539.6,275 L513,254.4 L507,251.2 L463,243.2 L443.5,237 L432.6,229 L429.7,225 L428.5,221 L429.6,217 L431.3,215 L439.2,211 L463,206.3 L497,202.8 L509,200.5 L539,189.1 L569,173.7 L585,169.4 L603.3,167 Z M598.1,171 L583,173.5 L569,177.8 L541,192.7 L507,206.9 L495,210.3 L461,217 L449.5,223 L445,226.9 L444.9,229 L450.5,233 L462.1,237 L491,241 L509,245.7 L515,249.2 L545,274.6 L562.4,283 L577,286.9 L589,288.8 L617,288.5 L659.2,281 L685.5,275 L696,271 L704.5,265 L710.4,257 L713.4,247 L713.3,237 L709.4,223 L700.6,209 L687,195 L669,182.3 L655,175.5 L643,172.6 L617,170.4 L599,170.9 Z" fill="#dbd04c" stroke="#dbd04c" stroke-width="0.6" fill-rule="evenodd"/>
<path d="M599,170.9 L617,170.4 L643,172.6 L655,175.5 L669,182.3 L687,195 L700.6,209 L709.4,223 L713.3,237 L713.4,247 L710.4,257 L704.5,265 L696,271 L685.5,275 L659.2,281 L617,288.5 L589,288.8 L577,286.9 L562.4,283 L545,274.6 L515,249.2 L509,245.7 L491,241 L462.1,237 L450.5,233 L444.9,229 L445,226.9 L449.5,223 L461,217 L495,210.3 L507,206.9 L541,192.7 L569,177.8 L583,173.5 L598.1,171 Z M593.1,175 L581,177.4 L569,181.6 L544.5,195 L510.2,211 L494.8,221 L492,225 L491.9,227 L497,233 L517,245.4 L545,270.8 L557,278 L570.4,283 L585,286.1 L603,287.1 L619,286.1 L661,277.4 L681.8,271 L693,265.5 L700.2,259 L704.7,251 L706.4,241 L705.2,231 L700.6,219 L690.6,205 L677,192.2 L661,181.9 L649,177.3 L637,175.2 L613,173.6 L595,174.7 Z" fill="#efd34e" stroke="#efd34e" stroke-width="0.6" fill-rule="evenodd"/>
<path d="M595,174.7 L613,173.6 L637,175.2 L649,177.3 L661,181.9 L677,192.2 L690.6,205 L700.6,219 L705.2,231 L706.4,241 L704.7,251 L700.2,259 L693,265.5 L681.8,271 L661,277.4 L619,286.1 L603,287.1 L585,286.1 L570.4,283 L557,278 L545,270.8 L517,245.4 L497,233 L491.9,227 L492,225 L494.8,221 L510.2,211 L544.5,195 L569,181.6 L581,177.4 L593.1,175 Z M604.8,177 L583,180.1 L567,186.2 L512.8,215 L506.8,221 L505.4,227 L506.9,231 L510.4,235 L522.3,245 L545,266.8 L557,275 L569,280.1 L581,283.4 L595,284.9 L611,284.7 L627,282.5 L651.4,277 L669,271 L681,265.4 L689,259.8 L694.6,253 L697.8,245 L698.4,237 L695.4,223 L688.9,211 L678.6,199 L665,188.1 L655,182.9 L643,179.5 L623,177.1 L605,177 Z" fill="#fdd34f" stroke="#fdd34f" stroke-width="0.6" fill-rule="evenodd"/>
<path d="M605,177 L623,177.1 L643,179.5 L655,182.9 L665,188.1 L678.6,199 L688.9,211 L695.4,223 L698.4,237 L697.8,245 L694.6,253 L689,259.8 L681,265.4 L669,271 L651.4,277 L627,282.5 L611,284.7 L595,284.9 L581,283.4 L569,280.1 L557,275 L545,266.8 L522.3,245 L510.4,235 L506.9,231 L505.4,227 L506.8,221 L512.8,215 L567,186.2 L583,180.1 L604.8,177 Z M594.2,181 L583,183.1 L573,186.6 L524.2,213 L515.5,219 L512.8,223 L512.3,227 L515.2,233 L543.1,261 L559.1,273 L572.6,279 L585,282 L599,283 L615,282.1 L635,278.4 L653,273.4 L667.9,267 L677.3,261 L683.5,255 L688.2,247 L690.3,237 L689.5,227 L685.1,215 L678.3,205 L668.5,195 L657,187.4 L645,183.3 L627,180.5 L613,179.8 L595,180.9 Z" fill="#fdcd4b" stroke="#fdcd4b" stroke-width="0.6" fill-rule="evenodd"/>
<path d="M595,180.9 L613,179.8 L627,180.5 L645,183.3 L657,187.4 L668.5,195 L678.3,205 L685.1,215 L689.5,227 L690.3,237 L688.2,247 L683.5,255 L677.3,261 L667.9,267 L653,273.4 L635,278.4 L615,282.1 L599,283 L585,282 L572.6,279 L559.1,273 L543.1,261 L515.2,233 L512.3,227 L512.8,223 L515.5,219 L524.2,213 L573,186.6 L583,183.1 L594.2,181 Z M605.3,183 L587,185 L571,190.7 L523,218.7 L518.8,223 L518,227 L521,232.4 L545,258.6 L557.9,269 L568.9,275 L580.2,279 L591,280.7 L603,280.9 L619,279.1 L637.7,275 L651,270.9 L663,265 L671.1,259 L677.8,251 L681.4,243 L683,233 L682.1,223 L678.2,213 L669.4,201 L660.2,193 L651,188.5 L639,185.3 L623,183 L607,182.9 Z" fill="#fcc846" stroke="#fcc846" stroke-width="0.6" fill-rule="evenodd"/>
<path d="M607,182.9 L623,183 L639,185.3 L651,188.5 L660.2,193 L669.4,201 L678.2,213 L682.1,223 L683,233 L681.4,243 L677.8,251 L671.1,259 L663,265 L651,270.9 L637.7,275 L619,279.1 L603,280.9 L591,280.7 L580.2,279 L568.9,275 L557.9,269 L545,258.6 L521,232.4 L518,227 L518.8,223 L523,218.7 L571,190.7 L587,185 L605.3,183 Z M591.7,187 L575,191.6 L550.6,205 L530.8,219 L526.6,223 L525,227 L529.6,235 L547,256.2 L554.3,263 L563.1,269 L575,275 L585,277.8 L597,278.9 L611,277.9 L626.5,275 L643,270.3 L655,265.2 L663,259.7 L669.4,253 L673.8,245 L676.7,233 L676.3,223 L673.9,215 L667.7,205 L661,198 L653,192.8 L641,188.9 L625,186.2 L611,185.7 L593,186.8 Z" fill="#fbc040" stroke="#fbc040" stroke-width="0.6" fill-rule="evenodd"/>
<path d="M593,186.8 L611,185.7 L625,186.2 L641,188.9 L653,192.8 L661,198 L667.7,205 L673.9,215 L676.3,223 L676.7,233 L673.8,245 L669.4,253 L663,259.7 L655,265.2 L643,270.3 L626.5,275 L611,277.9 L597,278.9 L585,277.8 L575,275 L563.1,269 L554.3,263 L547,256.2 L529.6,235 L525,227 L526.6,223 L530.8,219 L550.6,205 L575,191.6 L591.7,187 Z M598.8,189 L587,190.5 L577,193.5 L555.5,205 L546.5,211 L537.4,219 L533.4,225 L533.1,229 L536.7,237 L546.6,251 L553,258 L561,264.3 L572.3,271 L581,274.5 L591,276.4 L603,276.6 L615,274.9 L631,270.9 L645,266 L655,260.5 L661.3,255 L666.9,247 L670.5,237 L671.5,227 L669.6,217 L665.6,209 L658.9,201 L651,195.6 L641,192 L627,189.3 L599,189 Z" fill="#f9b539" stroke="#f9b539" stroke-width="0.6" fill-rule="evenodd"/>
<path d="M599,189 L627,189.3 L641,192 L651,195.6 L658.9,201 L665.6,209 L669.6,217 L671.5,227 L670.5,237 L666.9,247 L661.3,255 L655,260.5 L645,266 L631,270.9 L615,274.9 L603,276.6 L591,276.4 L581,274.5 L572.3,271 L561,264.3 L553,258 L546.6,251 L536.7,237 L533.1,229 L533.4,225 L537.4,219 L546.5,211 L555.5,205 L577,193.5 L587,190.5 L598.8,189 Z M587.8,193 L571,198.6 L548.6,213 L540.1,223 L539,227 L539.8,233 L545,243 L552.3,253 L561,260.9 L571,267.2 L581,271.8 L591,274 L601,274.4 L612.5,273 L627.4,269 L641,263.8 L649.7,259 L656.9,253 L662.4,245 L665.3,237 L666.5,227 L665.5,219 L662.1,211 L657.6,205 L651,199.5 L643,195.7 L633,193.1 L619,191.4 L603,191.3 L589,192.8 Z" fill="#f6aa32" stroke="#f6aa32" stroke-width="0.6" fill-rule="evenodd"/>
<path d="M589,192.8 L603,191.3 L619,191.4 L633,193.1 L643,195.7 L651,199.5 L657.6,205 L662.1,211 L665.5,219 L666.5,227 L665.3,237 L662.4,245 L656.9,253 L649.7,259 L641,263.8 L627.4,269 L612.5,273 L601,274.4 L591,274 L581,271.8 L571,267.2 L561,260.9 L552.3,253 L545,243 L539.8,233 L539,227 L540.1,223 L548.6,213 L571,198.6 L587.8,193 Z M590.8,195 L573,200.1 L553,213 L548.6,217 L544.8,223 L543.9,227 L544.5,233 L547.8,241 L554.5,251 L561,257.3 L571,264.1 L581,268.9 L589,271.1 L599,272 L609,271.2 L621,268.1 L634,263 L645.2,257 L652.6,251 L657.1,245 L660.4,237 L661.8,227 L660.9,219 L657.4,211 L653,205.7 L646.8,201 L639,197.5 L629,195.3 L615,193.9 L591,195 Z" fill="#f4a02e" stroke="#f4a02e" stroke-width="0.6" fill-rule="evenodd"/>
<path d="M591,195 L615,193.9 L629,195.3 L639,197.5 L646.8,201 L653,205.7 L657.4,211 L660.9,219 L661.8,227 L660.4,237 L657.1,245 L652.6,251 L645.2,257 L634,263 L621,268.1 L609,271.2 L599,272 L589,271.1 L581,268.9 L571,264.1 L561,257.3 L554.5,251 L547.8,241 L544.5,233 L543.9,227 L544.8,223 L548.6,217 L553,213 L573,200.1 L590.8,195 Z M593.7,197 L575,201.5 L557.3,213 L551.1,219 L548.9,223 L548.6,233 L551.5,241 L556.7,249 L562.6,255 L571,260.9 L581,265.9 L589,268.3 L599,269.5 L607,269 L617,266.5 L630.3,261 L640.9,255 L648.4,249 L653.1,243 L655.6,237 L657.2,229 L656.9,221 L655.1,215 L650.9,209 L645,203.9 L639,200.7 L619,196.6 L595,196.8 Z" fill="#f3982b" stroke="#f3982b" stroke-width="0.6" fill-rule="evenodd"/>
<path d="M595,196.8 L619,196.6 L639,200.7 L645,203.9 L650.9,209 L655.1,215 L656.9,221 L657.2,229 L655.6,237 L653.1,243 L648.4,249 L640.9,255 L630.3,261 L617,266.5 L607,269 L599,269.5 L589,268.3 L581,265.9 L571,260.9 L562.6,255 L556.7,249 L551.5,241 L548.6,233 L548.9,223 L551.1,219 L557.3,213 L575,201.5 L593.7,197 Z M596,199 L579,202.2 L566.3,209 L553.8,221 L552.3,225 L552,231 L553.4,237 L557.4,245 L562.3,251 L569.7,257 L579,262.1 L587,264.9 L597,266.6 L605,266.5 L613,264.8 L623,261 L634.1,255 L643,248.4 L647.9,243 L651,237 L652.6,231 L652.8,223 L651.4,217 L647.6,211 L643,206.6 L637,203.1 L619,199 L597,198.9 Z" fill="#f18e28" stroke="#f18e28" stroke-width="0.6" fill-rule="evenodd"/>
<path d="M597,198.9 L619,199 L637,203.1 L643,206.6 L647.6,211 L651.4,217 L652.8,223 L652.6,231 L651,237 L647.9,243 L643,248.4 L634.1,255 L623,261 L613,264.8 L605,266.5 L597,266.6 L587,264.9 L579,262.1 L569.7,257 L562.3,251 L557.4,245 L553.4,237 L552,231 L552.3,225 L553.8,221 L566.3,209 L579,202.2 L596,199 Z M597.5,201 L581,203.8 L570,209 L557.9,221 L556,225 L555.5,231 L556.8,237 L559.6,243 L564.2,249 L571,254.9 L579,259.3 L587,262 L603,263.7 L611,262.3 L619,259.4 L637,248.6 L642.7,243 L646.4,237 L648.7,225 L647.6,219 L645,214 L640.4,209 L635,205.6 L619,201.2 L599,200.9 Z" fill="#ee8426" stroke="#ee8426" stroke-width="0.6" fill-rule="evenodd"/>
<path d="M599,200.9 L619,201.2 L635,205.6 L640.4,209 L645,214 L647.6,219 L648.7,225 L646.4,237 L642.7,243 L637,248.6 L619,259.4 L611,262.3 L603,263.7 L587,262 L579,259.3 L571,254.9 L564.2,249 L559.6,243 L556.8,237 L555.5,231 L556,225 L557.9,221 L570,209 L581,203.8 L597.5,201 Z M598.5,203 L581,206 L571,211 L561.7,221 L559.7,225 L558.8,231 L560,237 L563.1,243 L567.9,249 L573,253.2 L587,259.1 L603,260.5 L611,259 L619,256.1 L633.3,247 L641.8,237 L644,231 L644.5,225 L643.2,219 L640.9,215 L637,210.8 L631.1,207 L617,203.2 L599,203 Z" fill="#ea7827" stroke="#ea7827" stroke-width="0.6" fill-rule="evenodd"/>
<path d="M599,203 L617,203.2 L631.1,207 L637,210.8 L640.9,215 L643.2,219 L644.5,225 L644,231 L641.8,237 L633.3,247 L619,256.1 L611,259 L603,260.5 L587,259.1 L573,253.2 L567.9,249 L563.1,243 L560,237 L558.8,231 L559.7,225 L561.7,221 L571,211 L581,206 L598.5,203 Z M599.2,205 L583,207.6 L573,212.2 L565.4,221 L562.1,231 L562.6,235 L565.3,241 L569.7,247 L575,251.6 L587,256.3 L601,257.5 L615,254.4 L627.9,247 L637.2,237 L640.4,227 L639.5,221 L637.6,217 L634.3,213 L628.7,209 L617,205.4 L601,204.9 Z" fill="#e66c27" stroke="#e66c27" stroke-width="0.6" fill-rule="evenodd"/>
<path d="M601,204.9 L617,205.4 L628.7,209 L634.3,213 L637.6,217 L639.5,221 L640.4,227 L637.2,237 L627.9,247 L615,254.4 L601,257.5 L587,256.3 L575,251.6 L569.7,247 L565.3,241 L562.6,235 L562.1,231 L565.4,221 L573,212.2 L583,207.6 L599.2,205 Z M599.9,207 L586.2,209 L575.8,213 L568.8,221 L565.4,231 L565.9,235 L568.9,241 L575.8,249 L585,253 L599,254.6 L613,251.9 L623,246.7 L632.7,237 L636.2,227 L634.3,219 L626.5,211 L617,207.6 L601,206.9 Z" fill="#e26028" stroke="#e26028" stroke-width="0.6" fill-rule="evenodd"/>
<path d="M601,206.9 L617,207.6 L626.5,211 L634.3,219 L636.2,227 L632.7,237 L623,246.7 L613,251.9 L599,254.6 L585,253 L575.8,249 L568.9,241 L565.9,235 L565.4,231 L568.8,221 L575.8,213 L586.2,209 L599.9,207 Z M600.8,209 L587,211 L577.2,215 L572.1,221 L568.7,231 L571.2,239 L577.7,247 L587,250.7 L599,251.8 L611,249.5 L621,244.3 L629.6,235 L632.1,227 L629.8,219 L623,212.3 L615,209.7 L601,209 Z" fill="#de5528" stroke="#de5528" stroke-width="0.6" fill-rule="evenodd"/>
<path d="M601,209 L615,209.7 L623,212.3 L629.8,219 L632.1,227 L629.6,235 L621,244.3 L611,249.5 L599,251.8 L587,250.7 L577.7,247 L571.2,239 L568.7,231 L572.1,221 L577.2,215 L587,211 L600.8,209 Z M588.2,213 L579.1,217 L575,221.9 L572.3,231 L574.8,239 L580.1,245 L587,247.9 L597,249.2 L607,247.9 L617,243.5 L624,237 L627.8,229 L626.6,221 L621.4,215 L615,212.3 L603,211 L589,212.8 Z" fill="#d94b28" stroke="#d94b28" stroke-width="0.6" fill-rule="evenodd"/>
<path d="M589,212.8 L603,211 L615,212.3 L621.4,215 L626.6,221 L627.8,229 L624,237 L617,243.5 L607,247.9 L597,249.2 L587,247.9 L580.1,245 L574.8,239 L572.3,231 L575,221.9 L579.1,217 L588.2,213 Z M589.6,215 L583,217.8 L578,223 L575.9,231 L577.4,237 L582.8,243 L589,245.6 L599,246.6 L607,245.2 L615.5,241 L621.2,235 L623.8,227 L622.1,221 L618.4,217 L611,214.1 L601,213.2 L591,214.6 Z" fill="#d44129" stroke="#d44129" stroke-width="0.6" fill-rule="evenodd"/>
<path d="M591,214.6 L601,213.2 L611,214.1 L618.4,217 L622.1,221 L623.8,227 L621.2,235 L615.5,241 L607,245.2 L599,246.6 L589,245.6 L582.8,243 L577.4,237 L575.9,231 L578,223 L583,217.8 L589.6,215 Z M591.5,217 L585,220.1 L580.8,225 L579.5,231 L581,236.1 L585,240.5 L590.2,243 L597,244.1 L605,243.1 L611,240.5 L617.1,235 L619.6,229 L618.6,223 L615.1,219 L609,216.4 L601,215.5 L593,216.6 Z" fill="#d03629" stroke="#d03629" stroke-width="0.6" fill-rule="evenodd"/>
<path d="M593,216.6 L601,215.5 L609,216.4 L615.1,219 L618.6,223 L619.6,229 L617.1,235 L611,240.5 L605,243.1 L597,244.1 L590.2,243 L585,240.5 L581,236.1 L579.5,231 L580.8,225 L585,220.1 L591.5,217 Z M593.9,219 L589,221.1 L585,225 L583.5,229 L583.9,233 L586.3,237 L591,240 L597,241.4 L603,240.8 L607.8,239 L612.8,235 L615,231 L614.9,225 L611.7,221 L607.6,219 L601,218 L595,218.7 Z" fill="#cb2d29" stroke="#cb2d29" stroke-width="0.6" fill-rule="evenodd"/>
<path d="M595,218.7 L601,218 L607.6,219 L611.7,221 L614.9,225 L615,231 L612.8,235 L607.8,239 L603,240.8 L597,241.4 L591,240 L586.3,237 L583.9,233 L583.5,229 L585,225 L589,221.1 L593.9,219 Z M598.3,221 L593,222.6 L589.9,225 L587.9,231 L589.9,235 L592.6,237 L601,238.2 L605,237 L609,233.8 L610.6,231 L610.8,227 L607,222.5 L599,220.9 Z" fill="#c82a2a" stroke="#c82a2a" stroke-width="0.6" fill-rule="evenodd"/>
<path d="M599,220.9 L607,222.5 L610.8,227 L610.6,231 L609,233.8 L605,237 L601,238.2 L592.6,237 L589.9,235 L587.9,231 L589.9,225 L593,222.6 L598.3,221 Z M597,225 L593.1,229 L594.5,233 L599,234.8 L603,233.8 L605.6,231 L605.3,227 L601,224.6 L597,225 Z" fill="#c5272b" stroke="#c5272b" stroke-width="0.6" fill-rule="evenodd"/>
<path d="M597,225 L601,224.6 L605.3,227 L605.6,231 L603,233.8 L599,234.8 L594.5,233 L593.1,229 L597,225 Z" fill="#c1242c" stroke="#c1242c" stroke-width="0.6" fill-rule="evenodd"/>
<path d="M425,383.5 L425,382.7 M577,364.9 L571,366.3 L566.9,369 L565,373 L566.2,375 L587,392.4 L591,394.7 L595,395 L599,393.7 L603,391.4 L607,388.1 L609.6,385 L612.4,379 L612.5,377 L611.1,373 L607.2,369 L601,366.2 L589,364.2 L579,364.6 Z M425,439.2 L440.5,419 L450.8,409 L455,406 L461,403 L473,399.4 L477,399.5 L489,402.2 L495,405.2 L507,413 L515,417.2 L527,421.5 L541,425.2 L553,426.7 L565,426.8 L583,425.3 L595,422.9 L603,420 L613.6,415 L623,409.5 L629,404.7 L633,400.1 L637.4,393 L644.9,379 L646.3,373 L644.5,367 L639.6,361 L634,357 L625,353.7 L615,351.2 L607,350.3 L565,349.6 L554.1,351 L545,354.2 L507,374.5 L497,376.5 L487,376.3 L483,375.5 L477,373 L457,359.4 L439,350.5 L425,342.3 M425,473.9 L463,464.3 L505,456 L531,451.9 L567,448 L609,442.4 L627,438.9 L640,435 L648.7,431 L655,426.7 L660.5,421 L666.1,413 L672.1,403 L674.5,397 L677,385 L677.6,377 L676.8,371 L674.3,363 L671.1,357 L667.9,353 L662.9,349 L657,346 L641,341.1 L631,339.4 L617,338.5 L589,338.3 L569,339.3 L547,342 L517,349.6 L505,351.5 L495.8,349 L469.7,337 L449,330.7 L425,321.3 M488,495 L497,490.1 L503,488.2 L545,481.5 L565,479.7 L627,477.4 L651,474.9 L671,470 L701,459.4 L711,455.1 L723,448.5 L731,442.9 L734.6,439 L736.4,435 L741.8,413 L741.8,405 L740,397 L734.6,385 L728.7,375 L722.1,367 L713.6,359 L703.5,351 L693,344.5 L681,338.7 L667,333.6 L655,330.4 L645,328.7 L597,325 L583,324.6 L533,326.2 L511,324.8 L491,322.5 L477,319.7 L462.1,315 L453,311 L445,305 L425,297.4 M640.5,119 L653,123.4 L673,128.8 L687,135.6 L705,145.7 L713,151.2 L722.2,159 L747,185.1 M425,131.6 L467,130.6 L491,128.7 L507,126.1 L533.1,119 M747,320.1 L691,315.5 L621,313.5 L599,312.4 L567,309.8 L539,306.1 L523,303.2 L489,295.3 L481,292.2 L463,282.8 L425,269.9 M425,175.6 L461,177.7 L479,176.9 L495,175 L511,171.6 L569,153.9 L581,151.3 L591,150.1 L607,149.8 L623,150.7 L635,152.4 L655,156.4 L673,161.5 L687,168.1 L705,180.5 L717,191.8 L731.7,209 L737.6,219 L740.8,231 L742.1,249 L741.1,265 L738,281 L735,285.5 L731,288.3 L727,290.1 L716.7,293 L703,295.1 L689,295.8 L657,296 L625,297.3 L615,298.3 L601,302.3 L595,302.8 L589,302.2 L573,298.7 L539,289.6 L493,272.3 L465,260.5 L425,247.8 M599,170.9 L617,170.4 L643,172.6 L655,175.5 L669,182.3 L679,188.7 L687,195 L693.4,201 L700.6,209 L706.3,217 L709.4,223 L711.6,229 L713.3,237 L713.4,247 L712.1,253 L710.4,257 L708,261 L704.5,265 L696,271 L685.5,275 L659.2,281 L617,288.5 L603,289.3 L589,288.8 L577,286.9 L562.4,283 L552.5,279 L545,274.6 L523.2,257 L515,249.2 L509,245.7 L503,243.6 L491,241 L462.1,237 L450.5,233 L447,231 L444.9,229 L445,226.9 L449.5,223 L455,219.6 L461,217 L469,214.8 L495,210.3 L507,206.9 L522.3,201 L541,192.7 L562.1,181 L569,177.8 L583,173.5 L598.1,171 Z M605,184.9 L621,184.9 L633,186.3 L647,189.4 L657,193.7 L661.7,197 L665.9,201 L673.5,211 L677.7,221 L678.8,231 L677.3,241 L675.1,247 L673,251 L666.2,259 L659,264.3 L649.8,269 L635,273.8 L619,277.4 L603,279.5 L591,279.3 L581,277.7 L571,274.1 L559,267.5 L551,261.5 L546.3,257 L527.5,235 L522,227 L522.2,225 L523.6,223 L533.6,215 L548.8,205 L571,192.6 L577,189.9 L585,187.3 L593,185.9 L603.9,185 Z M603,197 L613,197 L625,198.2 L635,200.3 L641,202.7 L647.2,207 L652.4,213 L655,219 L655.9,225 L655.1,233 L653,239.8 L650,245 L644.1,251 L635.4,257 L623.5,263 L612.3,267 L603,268.5 L593,268.1 L585,266.3 L575,262.2 L566.6,257 L559.7,251 L555,245 L551,237 L549.4,229 L550.2,223 L552.5,219 L558.7,213 L569.7,205 L577,201.4 L583,199.6 L593,197.8 L603,197 Z M595,208.8 L609,208.3 L615.8,209 L621,210.3 L625,212.4 L628.1,215 L631.3,219 L633.1,223 L633.5,227 L632.1,233 L629.8,237 L626.4,241 L621.8,245 L617,248.1 L611,250.5 L603,252.3 L597,252.7 L591,252.3 L585,251.1 L579,248.9 L576.2,247 L572.5,243 L569,237 L567.6,233 L567.9,229 L570.1,223 L572.2,219 L575,215.7 L579,213 L583,211.4 L593.8,209 Z" fill="none" stroke="#000" stroke-width="4.2" stroke-linejoin="round"/>
<line x1="650.8" y1="123" x2="419" y2="354.8" stroke="#000" stroke-width="3.4"/>
</g>
<line x1="114" y1="372.9" x2="744.7" y2="372.9" stroke="#fff" stroke-width="5" stroke-dasharray="26.3 26" stroke-dashoffset="11.7"/>
<line x1="114" y1="413.3" x2="744.7" y2="413.3" stroke="#fff" stroke-width="5" stroke-dasharray="26.3 26" stroke-dashoffset="11.7"/>
<line x1="480" y1="382" x2="480" y2="405" stroke="#fff" stroke-width="3"/>
<path d="M480,375.5 L474,388 L480,385 L486,388 Z" fill="#fff"/>
<path d="M480,411 L474,398.5 L480,401.5 L486,398.5 Z" fill="#fff"/>
<text x="497.5" y="398.2" font-size="20" text-anchor="start" fill="#fff" font-weight="normal" >Δ<tspan font-style="italic">E</tspan><tspan dy="7" font-size="13.5">S</tspan><tspan dy="2" font-size="9">1</tspan><tspan dy="-2" font-size="13.5">–S</tspan><tspan dy="2" font-size="9">N</tspan></text>
<rect x="114" y="123" width="630.7" height="369.4" fill="none" stroke="#000" stroke-width="3.8" />
<line x1="429" y1="123" x2="429" y2="492.4" stroke="#000" stroke-width="3.8" />
<line x1="114" y1="198.8" x2="123" y2="198.8" stroke="#000" stroke-width="3.6" />
<line x1="420" y1="198.8" x2="438" y2="198.8" stroke="#000" stroke-width="3.6" />
<line x1="735.7" y1="198.8" x2="744.7" y2="198.8" stroke="#000" stroke-width="3.6" />
<line x1="114" y1="312.4" x2="123" y2="312.4" stroke="#000" stroke-width="3.6" />
<line x1="420" y1="312.4" x2="438" y2="312.4" stroke="#000" stroke-width="3.6" />
<line x1="735.7" y1="312.4" x2="744.7" y2="312.4" stroke="#000" stroke-width="3.6" />
<line x1="114" y1="425.8" x2="123" y2="425.8" stroke="#000" stroke-width="3.6" />
<line x1="420" y1="425.8" x2="438" y2="425.8" stroke="#000" stroke-width="3.6" />
<line x1="735.7" y1="425.8" x2="744.7" y2="425.8" stroke="#000" stroke-width="3.6" />
<line x1="142.5" y1="123" x2="142.5" y2="132" stroke="#000" stroke-width="3.6" />
<line x1="142.5" y1="492.4" x2="142.5" y2="483.4" stroke="#000" stroke-width="3.6" />
<line x1="255.8" y1="123" x2="255.8" y2="132" stroke="#000" stroke-width="3.6" />
<line x1="255.8" y1="492.4" x2="255.8" y2="483.4" stroke="#000" stroke-width="3.6" />
<line x1="377.5" y1="123" x2="377.5" y2="132" stroke="#000" stroke-width="3.6" />
<line x1="377.5" y1="492.4" x2="377.5" y2="483.4" stroke="#000" stroke-width="3.6" />
<line x1="457.6" y1="123" x2="457.6" y2="132" stroke="#000" stroke-width="3.6" />
<line x1="457.6" y1="492.4" x2="457.6" y2="483.4" stroke="#000" stroke-width="3.6" />
<line x1="571.5" y1="123" x2="571.5" y2="132" stroke="#000" stroke-width="3.6" />
<line x1="571.5" y1="492.4" x2="571.5" y2="483.4" stroke="#000" stroke-width="3.6" />
<line x1="693.5" y1="123" x2="693.5" y2="132" stroke="#000" stroke-width="3.6" />
<line x1="693.5" y1="492.4" x2="693.5" y2="483.4" stroke="#000" stroke-width="3.6" />
<text x="102" y="208.8" font-size="28.5" text-anchor="end" fill="#000" font-weight="normal" >2.0</text>
<text x="102" y="322.4" font-size="28.5" text-anchor="end" fill="#000" font-weight="normal" >1.9</text>
<text x="102" y="435.8" font-size="28.5" text-anchor="end" fill="#000" font-weight="normal" >1.8</text>
<text x="142.5" y="526.8" font-size="28.5" text-anchor="middle" fill="#000" font-weight="normal" >1.9</text>
<text x="255.8" y="526.8" font-size="28.5" text-anchor="middle" fill="#000" font-weight="normal" >2.0</text>
<text x="377.5" y="526.8" font-size="28.5" text-anchor="middle" fill="#000" font-weight="normal" >2.1</text>
<text x="457.6" y="526.8" font-size="28.5" text-anchor="middle" fill="#000" font-weight="normal" >1.9</text>
<text x="571.5" y="526.8" font-size="28.5" text-anchor="middle" fill="#000" font-weight="normal" >2.0</text>
<text x="693.5" y="526.8" font-size="28.5" text-anchor="middle" fill="#000" font-weight="normal" >2.1</text>
<text x="446.5" y="574.2" font-size="29" text-anchor="middle" fill="#000" font-weight="normal" >Excitation frequency (× 10<tspan dy="-11" font-size="19">4</tspan><tspan dy="11"> cm</tspan><tspan dy="-11" font-size="19">−1</tspan><tspan dy="11">)</tspan></text>
<text x="37.5" y="298" font-size="29" text-anchor="middle" fill="#000" font-weight="normal" transform="rotate(-90 37.5 298)" >Emission frequency (× 10<tspan dy="-11" font-size="19">4</tspan><tspan dy="11"> cm</tspan><tspan dy="-11" font-size="19">−1</tspan><tspan dy="11">)</tspan></text>
<text x="195" y="43.5" font-size="29.5" text-anchor="start" fill="#808080" font-weight="normal" >Detergent</text>
<text x="529" y="43.5" font-size="29.5" text-anchor="start" fill="#2f9a45" font-weight="normal" >Membrane</text>
<text x="206.2" y="76.7" font-size="21" text-anchor="middle" fill="#d9737b" font-weight="normal" >Lut2</text>
<rect x="202.04999999999998" y="85.2" width="8.3" height="36" fill="#d9737b"/>
<text x="261.5" y="76.7" font-size="21" text-anchor="middle" fill="#d9737b" font-weight="normal" >Lut1</text>
<rect x="257.35" y="85.2" width="8.3" height="36" fill="#d9737b"/>
<text x="324" y="76.7" font-size="21" text-anchor="middle" fill="#7f3f97" font-weight="normal" >Neo</text>
<rect x="319.85" y="85.2" width="8.3" height="36" fill="#7f3f97"/>
<text x="521.6" y="76.7" font-size="21" text-anchor="middle" fill="#d9737b" font-weight="normal" >Lut2</text>
<rect x="517.45" y="85.2" width="8.3" height="36" fill="#d9737b"/>
<text x="578.2" y="76.7" font-size="21" text-anchor="middle" fill="#d9737b" font-weight="normal" >Lut1</text>
<rect x="574.0500000000001" y="85.2" width="8.3" height="36" fill="#d9737b"/>
<text x="639.4" y="76.7" font-size="21" text-anchor="middle" fill="#7f3f97" font-weight="normal" >Neo</text>
<rect x="635.25" y="85.2" width="8.3" height="36" fill="#7f3f97"/>
<path d="M751.2,123.7 H771 V203 M771,247 V313 H751.2" fill="none" stroke="#000" stroke-width="3.5"/>
<path d="M751.2,329.1 H771 V385.7 M771,430.5 V490 H751.2" fill="none" stroke="#000" stroke-width="3.5"/>
<text x="756.5" y="235.3" font-size="28.5" text-anchor="start" fill="#000" font-weight="normal" >S<tspan dy="8" font-size="20">2</tspan></text>
<text x="756.5" y="417.7" font-size="28.5" text-anchor="start" fill="#000" font-weight="normal" >S<tspan dy="8" font-size="20">1</tspan></text>
<linearGradient id="cbar" x1="0" y1="0" x2="0" y2="1"><stop offset="-0.003" stop-color="#bb1e2d"/><stop offset="0.028" stop-color="#c1232c"/><stop offset="0.059" stop-color="#c6292a"/><stop offset="0.091" stop-color="#cc2e29"/><stop offset="0.122" stop-color="#d43f29"/><stop offset="0.153" stop-color="#db5028"/><stop offset="0.184" stop-color="#e36228"/><stop offset="0.215" stop-color="#e97627"/><stop offset="0.246" stop-color="#f08a26"/><stop offset="0.277" stop-color="#f3992b"/><stop offset="0.308" stop-color="#f6a831"/><stop offset="0.343" stop-color="#faba3d"/><stop offset="0.378" stop-color="#fcc947"/><stop offset="0.413" stop-color="#fdd24e"/><stop offset="0.449" stop-color="#e6d24d"/><stop offset="0.484" stop-color="#c0cd4b"/><stop offset="0.519" stop-color="#98c44b"/><stop offset="0.554" stop-color="#95c662"/><stop offset="0.589" stop-color="#b9da98"/><stop offset="0.624" stop-color="#e6f1dc"/><stop offset="0.659" stop-color="#ffffff"/><stop offset="0.693" stop-color="#dce8f4"/><stop offset="0.727" stop-color="#a3c4e3"/><stop offset="0.761" stop-color="#72a5d5"/><stop offset="0.795" stop-color="#5390c9"/><stop offset="0.828" stop-color="#4a83c2"/><stop offset="0.862" stop-color="#4b70b5"/><stop offset="0.896" stop-color="#505daa"/><stop offset="0.930" stop-color="#564ea1"/><stop offset="0.964" stop-color="#593e98"/><stop offset="0.998" stop-color="#5a2d8e"/></linearGradient>
<rect x="803" y="121" width="22" height="369.8" fill="url(#cbar)" stroke="#000" stroke-width="3.8"/>
<line x1="816" y1="234.8" x2="825" y2="234.8" stroke="#000" stroke-width="3.4" />
<line x1="816" y1="364.7" x2="825" y2="364.7" stroke="#000" stroke-width="3.4" />
<text x="839.5" y="129.9" font-size="28" text-anchor="start" fill="#000" font-weight="normal" >1</text>
<text x="839.5" y="245.1" font-size="28" text-anchor="start" fill="#000" font-weight="normal" >0.5</text>
<text x="839.5" y="373.9" font-size="28" text-anchor="start" fill="#000" font-weight="normal" >0</text>
<text x="839.5" y="497" font-size="28" text-anchor="start" fill="#000" font-weight="normal" >−0.5</text>
<text x="912" y="289.8" font-size="29" text-anchor="middle" fill="#000" font-weight="normal" transform="rotate(90 912 289.8)" >Normalized 2D intensity</text>
<clipPath id="clipD"><rect x="1099" y="122.1" width="349.5999999999999" height="369.4"/></clipPath>
<g clip-path="url(#clipD)">
<path d="M1097.5,119.1 L1266.5,119.1 L1261.2,126.6 L1253.5,129.2 L1250.5,128.8 L1243,122.7 L1237,122.4 L1225,130.2 L1214.5,131.6 L1210,133.3 L1193.9,144.6 L1176.4,170.1 L1169.5,185.1 L1160.5,197.1 L1144.5,222.6 L1124.5,248.1 L1114.8,266.1 L1111,276.7 L1096,287.6 L1096,119.1 Z M1096.6,291.6 L1105,295 L1107,297.6 L1108.1,302.1 L1105,309.1 L1096,314.7 L1096,290.8 Z" fill="#5a3492" stroke="#5a3492" stroke-width="0.6" fill-rule="evenodd"/>
<path d="M1267,119.1 L1272.7,119.1 L1268.2,125.1 L1263.1,129.6 L1254.1,134.1 L1250.5,135 L1241.5,128.4 L1235.5,127.5 L1225,131.6 L1214.5,133 L1210,134.7 L1201,140.2 L1193.5,147 L1177,171.6 L1169.5,187.3 L1161,198.6 L1144.9,224.1 L1125.1,249.6 L1116.3,266.1 L1111.5,278.1 L1102,287.1 L1101.3,290.1 L1106.5,295.5 L1108.4,303.6 L1105,310.5 L1096,316.8 L1096,314.7 L1105,309.1 L1108.1,302.1 L1107,297.6 L1105,295 L1096.6,291.6 L1096.3,287.1 L1111,276.7 L1114.8,266.1 L1124.5,248.2 L1143.4,224.1 L1160.5,197.1 L1168.6,186.6 L1175.5,171.6 L1192.5,146.1 L1199.2,140.1 L1210,133.3 L1214.5,131.6 L1225,130.2 L1237,122.4 L1243,122.7 L1250.5,128.8 L1253.5,129.2 L1261.2,126.6 L1266.5,119.1 Z" fill="#593995" stroke="#593995" stroke-width="0.6" fill-rule="evenodd"/>
<path d="M1273,119.1 L1282.5,119.1 L1281.3,120.6 L1267,131.1 L1256.5,136.3 L1249.1,137.1 L1240,131.3 L1232.5,130.8 L1211.5,135.3 L1202.5,140.6 L1194.6,147.6 L1178.6,171.6 L1170.3,188.1 L1145.5,225.2 L1136.2,236.1 L1124.7,252.6 L1112.8,278.1 L1104.5,288.6 L1108.8,300.6 L1108,307.3 L1103.5,313.6 L1096,319.1 L1096,316.8 L1105,310.5 L1108.4,303.6 L1106.5,295.5 L1101.3,290.1 L1102,287.1 L1111.5,278.1 L1116.3,266.1 L1125.1,249.6 L1144.9,224.1 L1161,198.6 L1169.5,187.3 L1177,171.6 L1193.5,147 L1201,140.2 L1210,134.7 L1214.5,133 L1225,131.6 L1235.5,127.5 L1241.5,128.4 L1249,134.4 L1253.5,134.3 L1265.1,128.1 L1272.7,119.1 Z" fill="#58439b" stroke="#58439b" stroke-width="0.6" fill-rule="evenodd"/>
<path d="M1282,119.8 L1288.4,119.1 L1285,125.7 L1259.5,138.1 L1253.5,139.5 L1249,139.2 L1240,134 L1235.5,132.7 L1217.5,134.8 L1207,138.9 L1196.2,147.6 L1180,171.6 L1171.7,188.1 L1147,225 L1136.5,237.6 L1126,252.6 L1114.1,278.1 L1106.6,288.6 L1109.4,302.1 L1108.4,308.1 L1103.5,315.5 L1096,322 L1096,319.1 L1103.5,313.6 L1108.7,305.1 L1108.4,299.1 L1104.4,290.1 L1105.1,287.1 L1112.8,278.1 L1117.7,266.1 L1126.5,249.6 L1145.5,225.2 L1170.3,188.1 L1178.6,171.6 L1194.6,147.6 L1202.5,140.6 L1211.5,135.3 L1232.5,130.8 L1240,131.3 L1249,137.1 L1255,136.8 L1267,131.1 L1281.3,120.6 Z" fill="#564ca0" stroke="#564ca0" stroke-width="0.6" fill-rule="evenodd"/>
<path d="M1288,120.3 L1288.4,119.1 L1292.6,119.1 L1290.1,125.1 L1286.5,129.1 L1274,135.6 L1262.5,140 L1250.5,141.5 L1238.5,135.6 L1234,134.4 L1219,135.7 L1208.5,139.2 L1197.8,147.6 L1181.5,171.6 L1172.5,188.9 L1147.9,225.6 L1137.9,237.6 L1126.4,254.1 L1115.3,278.1 L1108.2,288.6 L1108,293.1 L1110,303.6 L1108.5,309.6 L1105,315.7 L1096,327 L1096,322 L1103.5,315.5 L1108.4,308.1 L1109.4,302.1 L1106.6,288.6 L1114.1,278.1 L1126,252.6 L1136.5,237.6 L1147,225 L1171.7,188.1 L1180,171.6 L1196.5,147.3 L1204,140.9 L1211.5,136.5 L1231,132.8 L1238.5,133.4 L1250.5,139.5 L1257.8,138.6 L1283.5,126.6 L1286.5,124 L1287.9,120.6 Z M1096,336.6 L1096,340.5 L1096,336.5 Z" fill="#5355a6" stroke="#5355a6" stroke-width="0.6" fill-rule="evenodd"/>
<path d="M1292.5,119.3 L1297,119.1 L1293.5,126.6 L1289.7,131.1 L1282,136.2 L1268.5,141.4 L1258,143.5 L1250.5,143.5 L1235.5,136.4 L1226.5,135.9 L1213,138.3 L1200.9,146.1 L1192.5,156.6 L1182,173.1 L1173.3,189.6 L1148.5,226.7 L1129.6,251.1 L1122.2,264.6 L1116.5,278.1 L1109.7,288.6 L1108.9,293.1 L1110.5,303.6 L1109.9,308.1 L1099.5,327.6 L1099.7,332.1 L1102.2,338.1 L1101.5,344.1 L1099.6,345.6 L1096,346.2 L1096,327 L1105,315.7 L1109.1,308.1 L1110,303.6 L1108,293.1 L1108.2,288.6 L1115.3,278.1 L1121,264.6 L1128.2,251.1 L1147.9,225.6 L1172.5,188.9 L1180.6,173.1 L1192.1,155.1 L1199.5,145.9 L1207,140.1 L1213,137.1 L1229.5,134.5 L1237,135 L1250.5,141.5 L1262,140.1 L1285,130.2 L1289.1,126.6 L1292.1,120.6 Z" fill="#505fab" stroke="#505fab" stroke-width="0.6" fill-rule="evenodd"/>
<path d="M1297,119.1 L1302.2,119.1 L1295.1,131.1 L1286.5,138.3 L1276,142.9 L1264,145.4 L1252,145.8 L1247.5,144.8 L1235.5,138 L1223.5,137.2 L1216,138.4 L1210,140.7 L1199.5,149.1 L1185.2,170.1 L1174.6,189.6 L1149.5,227.1 L1138,241 L1126.4,258.6 L1117,279.3 L1110,291.6 L1110.6,308.1 L1102.4,327.6 L1102.8,332.1 L1105,338.1 L1103.9,345.6 L1102,347.7 L1096,348.6 L1096,346.2 L1100.5,345.2 L1102.1,342.6 L1102.2,338.1 L1099.7,332.1 L1099.5,327.6 L1109.9,308.1 L1110.5,303.6 L1108.9,293.1 L1109.7,288.6 L1116.5,278.1 L1122.2,264.6 L1129.6,251.1 L1148.5,226.7 L1173.3,189.6 L1182.9,171.6 L1198,149.1 L1208.5,140.4 L1220.5,136.5 L1235.5,136.4 L1247.5,142.7 L1252,143.7 L1259.5,143.3 L1270,140.9 L1280.5,136.9 L1288,132.6 L1293.5,126.6 L1297,119.1 Z" fill="#4c6ab2" stroke="#4c6ab2" stroke-width="0.6" fill-rule="evenodd"/>
<path d="M1303,119.1 L1307.9,119.1 L1307.5,120.6 L1305.3,125.1 L1299.3,132.6 L1289.5,141.3 L1279,146.3 L1267,148.1 L1250.5,147.6 L1246,146.2 L1235.5,139.5 L1225,138.1 L1217.5,139 L1211.5,141.1 L1201,149.1 L1188.3,167.1 L1175.5,190 L1150,228.1 L1138,242.7 L1126.8,260.1 L1111,292 L1110.4,297.6 L1111.7,303.6 L1111.4,308.1 L1104.5,327.6 L1106.6,338.1 L1105.1,347.1 L1102,349.5 L1096,350.5 L1096,348.6 L1102,347.7 L1103.9,345.6 L1105,338.1 L1102.8,332.1 L1102.4,327.6 L1110.6,308.1 L1110,291.6 L1117,279.3 L1126.4,258.6 L1138,241 L1149.5,227.1 L1174.6,189.6 L1185.2,170.1 L1199.5,149.1 L1210,140.7 L1216,138.4 L1223.5,137.2 L1235.5,138 L1247.5,144.8 L1252,145.8 L1264,145.4 L1275.4,143.1 L1285,139.2 L1292.1,134.1 L1298.4,126.6 L1302.2,119.1 Z" fill="#4b76b9" stroke="#4b76b9" stroke-width="0.6" fill-rule="evenodd"/>
<path d="M1307.5,120.6 L1307.9,119.1 L1312.4,119.1 L1311.5,123.6 L1303.8,134.1 L1291,145.7 L1280.5,150.5 L1270,151.5 L1249,149.2 L1246,148.2 L1235.5,141 L1226.5,139.1 L1216,140.4 L1205.5,146.1 L1193.5,160.8 L1175.5,191.8 L1150.8,228.6 L1136.4,246.6 L1126.3,263.1 L1111.3,294.6 L1112.4,306.6 L1106.7,324.6 L1107.6,338.1 L1105.4,348.6 L1099,351.6 L1096,352.1 L1096,350.5 L1102,349.5 L1105.1,347.1 L1106.6,338.1 L1104.5,327.6 L1111.4,308.1 L1111.7,303.6 L1110.4,297.6 L1111,292 L1126.8,260.1 L1133.1,249.6 L1150,228.1 L1175.5,190 L1193.5,159 L1204.1,146.1 L1214.5,139.9 L1226.5,138.1 L1235.5,139.5 L1246,146.2 L1250.5,147.6 L1265.5,148.2 L1277.5,146.7 L1286.5,143.2 L1294,137.8 L1303.1,128.1 L1307.5,120.6 Z" fill="#4a81c1" stroke="#4a81c1" stroke-width="0.6" fill-rule="evenodd"/>
<path d="M1313.5,119.1 L1316.2,119.1 L1314.8,125.1 L1312,130.5 L1306,138.2 L1291.6,150.6 L1280.5,155.7 L1273,155.9 L1247.5,150.4 L1235.5,142.4 L1226.5,140.1 L1220.5,140.3 L1214.5,142 L1208.5,145 L1203.8,149.1 L1191.5,165.6 L1171.2,200.1 L1151.9,228.6 L1137.5,246.6 L1127.5,262.7 L1111.9,296.1 L1113.1,306.6 L1108.2,324.6 L1108.6,338.1 L1107.2,347.1 L1103.5,351.5 L1096,353.6 L1096,352.1 L1103.5,350.2 L1106.2,347.1 L1107.6,338.1 L1106.5,326.1 L1112.4,306.6 L1111.3,294.6 L1127.1,261.6 L1136.4,246.6 L1150.8,228.6 L1175.5,191.8 L1189.5,167.1 L1202.4,149.1 L1207.5,144.6 L1213,141.5 L1225,139.1 L1235.5,141 L1246,148.2 L1249,149.2 L1270,151.5 L1280.5,150.5 L1289.5,146.7 L1300,138.1 L1310.5,125.8 L1312.4,119.1 Z" fill="#4e8ac6" stroke="#4e8ac6" stroke-width="0.6" fill-rule="evenodd"/>
<path d="M1316.5,119.1 L1319.9,119.1 L1318.6,125.1 L1315,133 L1309.1,141.6 L1298.7,150.6 L1280.5,162.1 L1276,161.9 L1246,151.3 L1237,144.6 L1228,141.4 L1222,141 L1216,142.5 L1210,145.2 L1205.1,149.1 L1192.6,165.6 L1172.5,200.3 L1155.3,225.6 L1138.6,246.6 L1128.3,263.1 L1124.5,273.6 L1112.9,296.1 L1113.8,308.1 L1109.9,321.6 L1109.3,341.1 L1108.2,347.1 L1103.5,352.8 L1096,355.1 L1096,353.6 L1103.5,351.5 L1107.2,347.1 L1108.6,338.1 L1108.2,324.6 L1113.1,306.6 L1111.9,296.1 L1127.5,262.7 L1137.5,246.6 L1151.9,228.6 L1171.2,200.1 L1191.5,165.6 L1203.8,149.1 L1208.5,145 L1214.5,142 L1220.5,140.3 L1226.5,140.1 L1235.5,142.4 L1247.5,150.4 L1273,155.9 L1280.5,155.7 L1291.6,150.6 L1304.2,140.1 L1313.4,128.1 L1316.2,119.1 Z" fill="#5692ca" stroke="#5692ca" stroke-width="0.6" fill-rule="evenodd"/>
<path d="M1321,119.1 L1323.9,119.1 L1322,126.6 L1318,135.9 L1312,145.7 L1306.3,150.6 L1288,162.5 L1280.5,169.6 L1277.5,169.2 L1265.4,161.1 L1246,152.5 L1237,146 L1229.5,142.9 L1223.5,141.9 L1219,142.6 L1211.5,145.5 L1206.4,149.1 L1193.5,165.9 L1187.8,177.6 L1173.1,201.6 L1164.9,212.1 L1158.8,222.6 L1148.5,236.9 L1139.8,246.6 L1129.4,263.1 L1125.9,273.6 L1121.2,281.1 L1113.6,297.6 L1114.7,308.1 L1111.2,320.1 L1109.2,347.1 L1105,353.2 L1096,356.7 L1096,355.1 L1105,351.7 L1108.2,347.1 L1109.3,341.1 L1109.9,321.6 L1113.8,308.1 L1112.9,296.1 L1124.5,273.6 L1128.3,263.1 L1138.6,246.6 L1155.3,225.6 L1172.5,200.3 L1192.6,165.6 L1205.1,149.1 L1210,145.2 L1216,142.5 L1222,141 L1228,141.4 L1237,144.6 L1246,151.3 L1276,161.9 L1280.5,162.1 L1296.6,152.1 L1307.7,143.1 L1316.1,131.1 L1319.9,119.1 Z" fill="#699fd1" stroke="#699fd1" stroke-width="0.6" fill-rule="evenodd"/>
<path d="M1324,119.1 L1328.1,119.1 L1326.7,125.1 L1321.9,137.1 L1315,149.9 L1291,164.6 L1280.5,172.3 L1274.5,171.3 L1257.4,159.6 L1244.5,152.9 L1235.5,146.5 L1229.5,144.1 L1220.5,143.2 L1207.8,149.1 L1193.9,167.1 L1189.3,177.6 L1173.6,203.1 L1165,213.6 L1160.3,222.6 L1148.5,238.9 L1140.9,246.6 L1135.4,257.1 L1129.7,264.6 L1127.4,273.6 L1122.3,281.1 L1119.7,288.6 L1114.8,297.6 L1115.7,308.1 L1112.4,318.6 L1112.2,332.1 L1110.3,347.1 L1105,354.7 L1096,358.3 L1096,356.7 L1105,353.2 L1109.2,347.1 L1111.2,320.1 L1114.7,308.1 L1113.6,297.6 L1121.2,281.1 L1125.9,273.6 L1129.4,263.1 L1139.8,246.6 L1148.5,236.9 L1158.8,222.6 L1164.9,212.1 L1173.1,201.6 L1187.8,177.6 L1193.5,165.9 L1206.4,149.1 L1211.5,145.5 L1219,142.6 L1223.5,141.9 L1229.5,142.9 L1237,146 L1246,152.5 L1265.4,161.1 L1277.5,169.2 L1280.5,169.6 L1288,162.5 L1306.3,150.6 L1312,145.7 L1320.3,131.1 L1323.9,119.1 Z" fill="#81aed9" stroke="#81aed9" stroke-width="0.6" fill-rule="evenodd"/>
<path d="M1328.5,119.1 L1332.4,119.1 L1331.1,125.1 L1324.4,141.6 L1318.4,152.1 L1310.5,158.2 L1280.5,174.6 L1276,174.8 L1271.3,173.1 L1251.2,158.1 L1237,148.7 L1229.5,145.4 L1222,143.9 L1208.5,149.9 L1201.9,159.6 L1195,167.1 L1190.8,177.6 L1180.6,192.6 L1175.1,203.1 L1166.2,213.6 L1160.9,224.1 L1154.4,231.6 L1150,239.1 L1141.1,248.1 L1137.1,257.1 L1130.8,264.6 L1128.3,275.1 L1123,282 L1120.7,290.1 L1115.8,299.1 L1116.7,308.1 L1113.4,318.6 L1113.8,330.6 L1111.6,347.1 L1105.5,356.1 L1096,360 L1096,358.3 L1105.2,354.6 L1110.3,347.1 L1112.2,332.1 L1112.4,318.6 L1115.7,308.1 L1114.8,297.6 L1119.7,288.6 L1122.3,281.1 L1127.4,273.6 L1129.7,264.6 L1135.4,257.1 L1140.9,246.6 L1148.5,238.9 L1160.3,222.6 L1165,213.6 L1173.6,203.1 L1189.3,177.6 L1193.9,167.1 L1207.8,149.1 L1220.5,143.2 L1229.5,144.1 L1235.5,146.5 L1244.5,152.9 L1257.4,159.6 L1274.5,171.3 L1280.5,172.3 L1291,164.6 L1315,149.9 L1324,132.6 L1328.1,119.1 Z" fill="#9ec1e2" stroke="#9ec1e2" stroke-width="0.6" fill-rule="evenodd"/>
<path d="M1333,119.1 L1336.7,119.1 L1334.9,126.6 L1327.6,144.6 L1321,155.1 L1310.5,163 L1294,169.7 L1279,177.3 L1273,177.2 L1268.5,175.2 L1250.4,159.6 L1232.5,147.9 L1222,145.1 L1209.4,150.6 L1202.5,161.1 L1196.5,167.1 L1192.4,177.6 L1181.5,193.3 L1175.8,204.6 L1166.6,215.1 L1162.5,224.1 L1154.8,233.1 L1150.6,240.6 L1142.5,248.1 L1138,258.4 L1132,265 L1130,275.1 L1124.1,282.6 L1122.6,290.1 L1117.3,299.1 L1117.9,308.1 L1114.7,318.6 L1115.4,330.6 L1113.4,339.6 L1113.1,347.1 L1106.5,357.4 L1096,361.8 L1096,360 L1106.5,355.3 L1111.6,347.1 L1113.8,330.6 L1113.4,318.6 L1116.7,308.1 L1115.8,299.1 L1120.7,290.1 L1123,282 L1128.3,275.1 L1130.8,264.6 L1137.1,257.1 L1141.1,248.1 L1150,239.1 L1154.4,231.6 L1160.9,224.1 L1166.2,213.6 L1175.1,203.1 L1180.6,192.6 L1190.8,177.6 L1195,167.1 L1201.9,159.6 L1208.5,149.9 L1222,143.9 L1229.5,145.4 L1237,148.7 L1251.2,158.1 L1271.3,173.1 L1276,174.8 L1280.5,174.6 L1310.5,158.2 L1318,152.5 L1326.4,137.1 L1332.4,119.1 Z" fill="#bfd5eb" stroke="#bfd5eb" stroke-width="0.6" fill-rule="evenodd"/>
<path d="M1337.5,119.1 L1341,119.1 L1336,135.5 L1329.5,150.6 L1322.8,159.6 L1312,167.3 L1294,172.7 L1277.5,180.5 L1271.5,180.6 L1267,178.5 L1247.8,159.6 L1234,150 L1222,146.8 L1210.3,152.1 L1203.3,162.6 L1197.9,168.6 L1194.1,177.6 L1182.8,194.1 L1177.6,204.6 L1168.8,215.1 L1163.4,225.6 L1157,233.1 L1152.6,240.6 L1143.8,249.6 L1139.7,258.6 L1134.1,266.1 L1130.8,276.6 L1126.4,284.1 L1124.5,290.2 L1119.1,300.6 L1118.8,311.1 L1116.5,318.6 L1116.9,332.1 L1114.4,348.6 L1110.1,356.1 L1106.5,359.8 L1102,362.3 L1096,363.7 L1096,361.8 L1106.5,357.4 L1113.1,347.1 L1113.4,339.6 L1115.4,330.6 L1114.7,318.6 L1117.9,308.1 L1117.3,299.1 L1122.6,290.1 L1124.1,282.6 L1130,275.1 L1132,265 L1138,258.4 L1142.5,248.1 L1150.6,240.6 L1154.8,233.1 L1162.5,224.1 L1166.6,215.1 L1175.8,204.6 L1181.5,193.3 L1192.4,177.6 L1196.5,167.1 L1202.5,161.1 L1209.4,150.6 L1222,145.1 L1232.5,147.9 L1250.4,159.6 L1268.5,175.2 L1273,177.2 L1279,177.3 L1294,169.7 L1310.5,163 L1319.6,156.6 L1324.4,150.6 L1328.3,143.1 L1334.3,128.1 L1336.7,119.1 Z" fill="#e2ecf6" stroke="#e2ecf6" stroke-width="0.6" fill-rule="evenodd"/>
<path d="M1342,119.1 L1345,119.1 L1338.3,143.1 L1332.6,155.1 L1325.4,164.1 L1315,171.9 L1292.5,176.1 L1274.5,185.7 L1270,185.5 L1265.5,182.7 L1246.9,161.1 L1235.5,152.2 L1222,149 L1216.4,150.6 L1212,153.6 L1200,170.1 L1179.6,204.6 L1170.6,216.6 L1162,230.7 L1145.8,251.1 L1136.8,266.1 L1121.7,300.6 L1119,318.6 L1117.4,344.1 L1115.5,351.3 L1111.6,357.6 L1106.5,362.5 L1102,364.7 L1096,365.6 L1096,363.7 L1102.5,362.1 L1108,358.6 L1115,347.1 L1117,330.6 L1116.5,318.6 L1118.8,311.1 L1119.1,300.6 L1124.5,290.2 L1126.4,284.1 L1130.8,276.6 L1134.1,266.1 L1139.7,258.6 L1143.8,249.6 L1152.6,240.6 L1157,233.1 L1163.4,225.6 L1168.8,215.1 L1177.6,204.6 L1182.8,194.1 L1194.1,177.6 L1197.9,168.6 L1203.3,162.6 L1210.3,152.1 L1222,146.8 L1234,150 L1247.8,159.6 L1267,178.5 L1271.5,180.6 L1277.5,180.5 L1294,172.7 L1312,167.3 L1322.5,159.9 L1327.7,153.6 L1331.8,146.1 L1341,119.1 Z" fill="#ffffff" stroke="#ffffff" stroke-width="0.6" fill-rule="evenodd"/>
<path d="M1345,119.4 L1348.3,119.1 L1346.2,140.1 L1339,157.9 L1330,169.8 L1322.5,176.5 L1315,180.1 L1297,179 L1291,180.5 L1284.8,185.1 L1276,194.5 L1271.5,197.1 L1267,195.2 L1252,170.6 L1237.2,155.1 L1228,152.1 L1220.5,151.9 L1217.5,152.8 L1213,156.5 L1200.2,173.1 L1187.9,197.1 L1160.9,236.1 L1144,257.2 L1135.3,272.1 L1125.1,296.1 L1122.5,305.1 L1119.9,339.6 L1118.3,348.6 L1116,354.6 L1111,361 L1105,365.8 L1096,367.5 L1096,365.6 L1102,364.7 L1106.5,362.5 L1111.6,357.6 L1115.5,351.3 L1117.4,344.1 L1119,318.6 L1121.7,300.6 L1136.8,266.1 L1145.8,251.1 L1162,230.7 L1170.6,216.6 L1179.6,204.6 L1200,170.1 L1212,153.6 L1216.4,150.6 L1222,149 L1235.5,152.2 L1246.9,161.1 L1265.5,182.7 L1270,185.5 L1274.5,185.7 L1292.5,176.1 L1313.5,172.5 L1324,165.5 L1330.6,158.1 L1335.9,149.1 L1344.8,120.6 Z" fill="#ffffff" stroke="#ffffff" stroke-width="0.6" fill-rule="evenodd"/>
<path d="M1349.5,119.1 L1351,119.1 L1350.4,131.1 L1346.5,149.9 L1340.5,168 L1333,180.4 L1325.5,187.7 L1318,191.8 L1298.5,193.2 L1291,195.4 L1270,213.3 L1267,212.8 L1251.9,174.6 L1244.5,166.2 L1234,158.4 L1225,154.8 L1219,155.9 L1211.5,161.5 L1199.5,177.2 L1190.5,199.5 L1183,207.1 L1162.6,237.6 L1144,259.6 L1135.7,273.6 L1127,294.6 L1124,305.1 L1121.4,339.6 L1119.4,350.1 L1117,356 L1112.5,361.8 L1107,366.6 L1096,369.3 L1096,367.5 L1103.5,366.4 L1108,363.8 L1114,357.6 L1117,352.7 L1119.9,339.6 L1121.6,311.1 L1123.2,302.1 L1132.6,278.1 L1138.5,266.1 L1147,253.1 L1160.9,236.1 L1187.9,197.1 L1200.2,173.1 L1213,156.5 L1217.5,152.8 L1220.5,151.9 L1228,152.1 L1237.2,155.1 L1252,170.6 L1267,195.2 L1271.5,197.1 L1276,194.5 L1284.8,185.1 L1291,180.5 L1297,179 L1315,180.1 L1321,177.5 L1328.5,171.3 L1337.5,160.4 L1343.5,147.9 L1347.5,134.1 L1348.3,119.1 Z M1445.5,119.1 L1451.5,119.1 L1451.5,124.7 L1447,122.2 L1444.5,119.1 Z" fill="#ebf4e3" stroke="#ebf4e3" stroke-width="0.6" fill-rule="evenodd"/>
<path d="M1351,119.2 L1353.8,119.1 L1347.3,155.1 L1342,174.5 L1336,186.4 L1328.5,195.2 L1318,202.7 L1312,204.7 L1298.5,206.4 L1291,209.7 L1285,215.7 L1271.5,236.1 L1268.5,238.4 L1267,236.9 L1265.5,232.1 L1260.1,206.1 L1248,173.1 L1237,163.5 L1226.5,158.2 L1223.5,157.8 L1219,158.9 L1211.5,164.5 L1200.2,179.1 L1191,201.6 L1184.6,209.1 L1165.3,237.6 L1144,261.6 L1135.9,275.1 L1128.6,293.1 L1125.4,305.1 L1122.6,341.1 L1118.5,356.1 L1114,362.5 L1107.5,368.1 L1096,371 L1096,369.3 L1107,366.6 L1112.5,361.8 L1117,356 L1119.4,350.1 L1121.4,339.6 L1124,305.1 L1127,294.6 L1135.7,273.6 L1144,259.6 L1162.6,237.6 L1183,207.1 L1190.5,199.5 L1199.5,177.2 L1211.5,161.5 L1219,155.9 L1225,154.8 L1234,158.4 L1244.5,166.2 L1251.9,174.6 L1267,212.8 L1270,213.3 L1291,195.4 L1298.5,193.2 L1318,191.8 L1325.5,187.7 L1331.5,182.2 L1339,171.2 L1343.5,160 L1349.5,137.6 L1350.9,120.6 Z M1438,119.1 L1444.5,119.1 L1447,122.2 L1451.5,124.7 L1451.5,129 L1444,125.6 L1436.7,119.1 Z" fill="#cfe5b8" stroke="#cfe5b8" stroke-width="0.6" fill-rule="evenodd"/>
<path d="M1354,119.1 L1356.1,119.1 L1346.2,170.1 L1341.3,185.1 L1334.5,198.5 L1327,208.5 L1321,213.5 L1315,215.4 L1301.5,216.7 L1295.5,219.6 L1288.7,227.1 L1276.5,246.6 L1271.5,250.7 L1267,250 L1263.8,245.1 L1257.5,207.6 L1246.6,174.6 L1237,165.8 L1226.5,160.6 L1219,161.4 L1211.5,166.9 L1201.6,179.1 L1192.7,201.6 L1178.5,223.6 L1165.7,240.6 L1145.5,261.5 L1136.1,276.6 L1130.1,291.6 L1127.3,302.1 L1123.9,341.1 L1121.7,351.6 L1119.2,357.6 L1115,363.6 L1109.5,368.6 L1103.5,371.4 L1096,372.7 L1096,371 L1103.5,369.8 L1109.7,366.6 L1115.5,360.7 L1119.2,354.6 L1122.8,339.6 L1125.7,303.6 L1129.7,290.1 L1137.5,272.1 L1145.5,259.6 L1165.3,237.6 L1184.6,209.1 L1191,201.6 L1200.2,179.1 L1211.5,164.5 L1219,158.9 L1223.5,157.8 L1226.5,158.2 L1237,163.5 L1248,173.1 L1260.1,206.1 L1265.5,232.1 L1267,236.9 L1268.5,238.4 L1271.5,236.1 L1285,215.7 L1291,209.7 L1298.5,206.4 L1312,204.7 L1318,202.7 L1327,196.5 L1334.5,188.5 L1340.5,178.1 L1343.5,169.9 L1350.1,141.6 L1353.8,119.1 Z M1424.5,119.1 L1436.7,119.1 L1444,125.6 L1451.5,129 L1451.5,133.4 L1444,131.1 L1426,122.6 L1423.5,119.1 Z" fill="#b5d793" stroke="#b5d793" stroke-width="0.6" fill-rule="evenodd"/>
<path d="M1357,119.1 L1358.3,119.1 L1354.8,144.6 L1348.6,174.6 L1339.9,204.6 L1331.5,223.5 L1325.8,231.6 L1321,235.2 L1317.6,234.6 L1307.5,226.8 L1304.5,226.4 L1301.5,227.6 L1294,236.2 L1274.5,267 L1268.7,272.1 L1266.9,270.6 L1262.5,255.8 L1254.1,206.1 L1246,177.2 L1241.5,171.9 L1235.3,167.1 L1225,162.7 L1218.2,164.1 L1210,170.6 L1202.5,180 L1194.8,200.1 L1181.5,224.2 L1168.7,240.6 L1145.5,263.3 L1136.5,277.6 L1129.1,299.1 L1124.9,342.6 L1122.9,351.6 L1119.9,359.1 L1115.5,365.3 L1109.5,370.4 L1103.5,373 L1096,374.4 L1096,372.7 L1105,370.9 L1111,367.5 L1117,361.1 L1120.6,354.6 L1123.9,341.1 L1126.1,309.6 L1127.6,300.6 L1131.2,288.6 L1138,272.9 L1145.5,261.5 L1165.7,240.6 L1178.2,224.1 L1192.7,201.6 L1201.6,179.1 L1211.5,166.9 L1219,161.4 L1226.5,160.6 L1237,165.8 L1246.6,174.6 L1257.5,207.6 L1263.8,245.1 L1267,250 L1271.5,250.7 L1276.5,246.6 L1288.7,227.1 L1295.5,219.6 L1301.5,216.7 L1315,215.4 L1321,213.5 L1327,208.5 L1334.5,198.5 L1340.5,187.1 L1345.8,171.6 L1356.1,119.1 Z M1420,119.1 L1423.5,119.1 L1426,122.6 L1444,131.1 L1451.5,133.4 L1451.5,138.3 L1439.5,135 L1426,128.6 L1421.5,124.7 L1418.7,119.1 Z" fill="#9fcb71" stroke="#9fcb71" stroke-width="0.6" fill-rule="evenodd"/>
<path d="M1358.5,119.1 L1361.2,119.1 L1357.9,158.1 L1355.5,172.1 L1340.5,224.6 L1333,240.6 L1327,248.4 L1321,251.4 L1307.5,250.5 L1300,252.5 L1292.8,258.6 L1276,278.7 L1271.5,281.5 L1267,281 L1262.5,275.2 L1257.8,260.1 L1250.2,204.6 L1245.4,180.6 L1241.2,174.6 L1231,167.4 L1223.5,165.2 L1217.5,167.1 L1208.5,174.6 L1202.8,182.1 L1189.1,216.6 L1181.9,228.6 L1169.1,243.6 L1147,263.2 L1139.5,273.6 L1133.9,285.6 L1130.4,297.6 L1126.4,341.1 L1122.1,357.6 L1117,365.9 L1111.4,371.1 L1105,374.3 L1096,376.2 L1096,374.4 L1105,372.6 L1111,369.4 L1115.7,365.1 L1119.9,359.1 L1122.9,351.6 L1124.9,342.6 L1129.1,299.1 L1136.5,277.6 L1145.5,263.3 L1168.7,240.6 L1181.5,224.2 L1194.8,200.1 L1202.5,180 L1210,170.6 L1218.2,164.1 L1225,162.7 L1235.3,167.1 L1241.5,171.9 L1246,177.2 L1254.1,206.1 L1262.5,255.8 L1266.9,270.6 L1268.7,272.1 L1274.5,267 L1294,236.2 L1301.5,227.6 L1304.5,226.4 L1307.5,226.8 L1317.6,234.6 L1321,235.2 L1325.8,231.6 L1331.5,223.5 L1339.9,204.6 L1348.6,174.6 L1353.9,150.6 L1358.3,119.1 Z M1415.5,119.1 L1418.7,119.1 L1421.8,125.1 L1427.5,129.5 L1441,135.6 L1451.5,138.3 L1451.5,144 L1438,140.8 L1426,135 L1418.3,128.1 L1414.2,119.1 Z M1447,453.5 L1451.5,452.8 L1451.5,494.1 L1404.3,494.1 L1409.1,482.1 L1418.5,471.5 L1433.5,458.6 L1446.7,453.6 Z M1265.5,475.9 L1277.5,476.1 L1300,482.6 L1305.5,486.6 L1310.1,494.1 L1252.5,494.1 L1254.2,486.6 L1256.4,482.1 L1259.5,478.8 L1264.9,476.1 Z M1097.5,484.8 L1103.5,488.5 L1107.6,494.1 L1096,494.1 L1096,484.1 Z" fill="#90c256" stroke="#90c256" stroke-width="0.6" fill-rule="evenodd"/>
<path d="M1361.5,119.1 L1365.1,119.1 L1360,158.1 L1343.5,230.2 L1334.5,258.4 L1328.3,269.1 L1325.5,271.2 L1321,272.4 L1307.5,269.3 L1301.5,270.3 L1289.5,279.4 L1274.4,294.6 L1270,296.7 L1265.5,295.4 L1261,285.8 L1255,262.6 L1248.6,204.6 L1243.9,180.6 L1239.5,174.6 L1232.5,169.6 L1225,167.1 L1219,168.1 L1210,174.6 L1202.9,183.6 L1191.3,218.1 L1184.5,230.1 L1170.9,245.1 L1148.5,263.3 L1139.6,275.1 L1134.7,285.6 L1131.7,296.1 L1127.8,339.6 L1123.5,357.6 L1118.5,366.5 L1112.5,372.3 L1105,376 L1096,378 L1096,376.2 L1106.5,373.7 L1113.4,369.6 L1118.5,363.9 L1122.7,356.1 L1126.6,339.6 L1130.4,297.6 L1133.9,285.6 L1139.5,273.6 L1147,263.2 L1169.1,243.6 L1181.9,228.6 L1189.1,216.6 L1202.8,182.1 L1208.5,174.6 L1217.5,167.1 L1223.5,165.2 L1231,167.4 L1241.2,174.6 L1245.4,180.6 L1250.2,204.6 L1257.8,260.1 L1262.5,275.2 L1267,281 L1271.5,281.5 L1276,278.7 L1292.8,258.6 L1300,252.5 L1307.5,250.5 L1321,251.4 L1327,248.4 L1333,240.6 L1340.5,224.6 L1354,177.9 L1357.9,158.1 L1361.2,119.1 Z M1409.5,119.1 L1414.2,119.1 L1418.5,128.3 L1427.5,135.9 L1439.5,141.3 L1451.5,144 L1451.5,150.6 L1436.5,147.2 L1423,140.1 L1414.1,131.1 L1408.9,119.1 Z M1451.5,409.8 L1451.5,452.8 L1438,456.2 L1427.5,463.1 L1410.1,480.6 L1406.7,486.6 L1404.3,494.1 L1373.2,494.1 L1375.5,489.6 L1384.3,477.6 L1420.3,441.6 L1442.3,416.1 L1450.7,410.1 Z M1271.5,451.9 L1277.5,451.6 L1283.5,453.3 L1307.5,471.6 L1328.5,481 L1335.1,486.6 L1339.7,494.1 L1310.1,494.1 L1305.5,486.6 L1300,482.6 L1279,476.4 L1271.5,475.4 L1264,476.4 L1258,480.1 L1254.8,485.1 L1252.5,494.1 L1232.3,494.1 L1235.9,479.1 L1244.5,465.2 L1255,457.1 L1270.7,452.1 Z M1097.5,476.1 L1109.5,481.4 L1114.1,485.1 L1117.3,489.6 L1119.2,494.1 L1107.6,494.1 L1103.1,488.1 L1096,484.1 L1096,475.7 Z" fill="#97c44c" stroke="#97c44c" stroke-width="0.6" fill-rule="evenodd"/>
<path d="M1366,119.1 L1370.4,119.1 L1355.4,182.1 L1343.3,249.6 L1338.4,266.1 L1331.5,276.6 L1322.5,282.6 L1297,292 L1273,308 L1268.5,309.4 L1264,307.9 L1259.5,298.9 L1253.5,268.5 L1248.9,215.1 L1243.3,182.1 L1239.8,176.1 L1232.5,170.6 L1225,168.2 L1219,169.3 L1210,175.6 L1203.6,183.6 L1196.9,203.1 L1193.4,219.6 L1186,233 L1171.2,248.1 L1148.5,264.9 L1141,274.3 L1136.1,284.1 L1133,294.6 L1129.1,339.6 L1124.3,359.1 L1120,367.1 L1114,373.3 L1106.5,377.4 L1096,379.9 L1096,378 L1106.5,375.5 L1114,371.2 L1119.5,365.1 L1123.5,357.6 L1127.8,339.6 L1131.7,296.1 L1134.7,285.6 L1139.6,275.1 L1148.5,263.3 L1170.9,245.1 L1184.5,230.1 L1191.3,218.1 L1202.9,183.6 L1210,174.6 L1219,168.1 L1225,167.1 L1232.5,169.6 L1239.5,174.6 L1243.9,180.6 L1248.6,204.6 L1255,262.6 L1261,285.8 L1265.5,295.4 L1270,296.7 L1274.4,294.6 L1289.5,279.4 L1301.5,270.3 L1307.5,269.3 L1321,272.4 L1325.5,271.2 L1328.3,269.1 L1332.4,263.1 L1336,254.5 L1345,224.7 L1360,158 L1365.1,119.1 Z M1403.5,119.1 L1408.9,119.1 L1414.1,131.1 L1424.5,141.2 L1436.5,147.2 L1451.5,150.6 L1451.5,158.4 L1433.5,154 L1420,146.4 L1408.8,134.1 L1402.2,119.1 Z M1450,396.3 L1451.5,396 L1451.5,409.8 L1442.3,416.1 L1420.3,441.6 L1384.3,477.6 L1377.3,486.6 L1373.2,494.1 L1339.7,494.1 L1335.1,486.6 L1330,482 L1307.5,471.6 L1283.5,453.3 L1276,451.5 L1259.5,455.3 L1249,460.9 L1242.9,467.1 L1237.2,476.1 L1234.3,483.6 L1232.3,494.1 L1222.7,494.1 L1224.5,477.6 L1231,465.6 L1244.5,450.8 L1252,444.6 L1262.5,439.4 L1271.5,438.6 L1279,440.1 L1285,442.9 L1300,456 L1327,465.4 L1352.5,479.3 L1357,480.2 L1361.5,479.5 L1369,474.8 L1401.2,444.6 L1411.6,432.6 L1426,412.1 L1431.8,405.6 L1439.5,400.1 L1449,396.6 Z M1097.5,470.6 L1112.5,475.6 L1124,483.6 L1129.9,494.1 L1119.2,494.1 L1116.5,488.1 L1112.5,483.6 L1105.5,479.1 L1096,475.7 L1096,470.4 Z" fill="#acc84b" stroke="#acc84b" stroke-width="0.6" fill-rule="evenodd"/>
<path d="M1370.5,119.1 L1379,119.1 L1369.5,137.1 L1358.3,173.1 L1352.8,206.1 L1347.1,257.1 L1344,270.6 L1337.5,283.3 L1327,295 L1318,300.3 L1300,304 L1294,306.3 L1286.5,312.4 L1281.4,320.1 L1277.1,333.6 L1276.2,365.1 L1267.5,393.6 L1269.3,407.1 L1269.6,419.1 L1280.5,422.5 L1289.5,426.8 L1295.7,431.1 L1307.1,441.6 L1319.5,445.5 L1346.5,458.4 L1358.5,461.2 L1364.5,459.1 L1378,450.7 L1396,434.6 L1405.6,420.6 L1416.5,393.6 L1423,385.5 L1430.5,379.4 L1441,374 L1451.5,371.2 L1451.5,396 L1441,399.4 L1431.8,405.6 L1402.7,443.1 L1369.3,474.6 L1363,478.9 L1357,480.2 L1351,478.7 L1327,465.4 L1298.5,455.2 L1288,445.1 L1282,441.3 L1274.5,438.9 L1267,438.5 L1259.5,440.5 L1249.9,446.1 L1231,465.6 L1224.5,477.6 L1222.7,494.1 L1188.1,494.1 L1190.5,490.8 L1201,489.6 L1204,488.1 L1207,484.1 L1211.2,474.6 L1215.6,468.6 L1237,451 L1254.8,434.1 L1260.6,422.1 L1263.8,395.1 L1263.1,390.6 L1259.3,381.6 L1256.5,361.6 L1255.3,302.1 L1250.7,263.1 L1247.9,215.1 L1243,184.4 L1241,179.1 L1237.2,174.6 L1229.5,170.2 L1222,169.4 L1214.5,172.9 L1205.5,181.6 L1202.5,187.2 L1199.4,197.1 L1195.2,221.1 L1189,233.8 L1183,241.1 L1173.5,249.6 L1148.5,266.5 L1142.5,273.6 L1138,281.7 L1133.5,297.6 L1132.4,321.6 L1129.5,345.6 L1126.8,356.1 L1123,365.2 L1118.5,371.6 L1111,377.2 L1105,379.9 L1096,382 L1096,379.9 L1106.5,377.4 L1114,373.3 L1120,367.1 L1124.3,359.1 L1129.1,339.6 L1133,294.6 L1136.1,284.1 L1141,274.3 L1148.5,264.9 L1171.2,248.1 L1186,233 L1193.4,219.6 L1196.9,203.1 L1203.6,183.6 L1210,175.6 L1219,169.3 L1225,168.2 L1232.5,170.6 L1239.8,176.1 L1243.3,182.1 L1248.9,215.1 L1253.5,268.5 L1259.5,298.9 L1264,307.9 L1268.5,309.4 L1273,308 L1297,292 L1322.5,282.6 L1331.5,276.6 L1337.8,267.6 L1342,255.1 L1355.4,182.1 L1370.4,119.1 Z M1393,119.1 L1402.2,119.1 L1405.5,128.1 L1409.9,135.6 L1415.5,142.4 L1423,148.6 L1435,154.5 L1451.5,158.4 L1451.5,168.3 L1430.5,161.8 L1418.1,155.1 L1405.7,141.6 L1391.6,119.1 Z M1432,255.5 L1438,254.9 L1451.5,259.1 L1451.5,312.1 L1439.5,309 L1435,305.5 L1432.2,300.6 L1431.1,281.1 L1426.6,264.6 L1428.2,258.6 L1431.9,255.6 Z M1097.5,465.1 L1108,467.5 L1126.2,474.6 L1138,480.6 L1146.4,486.6 L1151.3,494.1 L1129.9,494.1 L1126.3,486.6 L1121.5,481.3 L1109.5,474.2 L1096,470.4 L1096,465 Z" fill="#c4ce4b" stroke="#c4ce4b" stroke-width="0.6" fill-rule="evenodd"/>
<path d="M1378,120.5 L1379,119.1 L1391.6,119.1 L1405.7,141.6 L1418.1,155.1 L1430.5,161.8 L1451.5,168.3 L1451.5,192.3 L1442.7,180.6 L1438,176.1 L1420,167.6 L1414,163.3 L1394.5,138.7 L1388.5,133.2 L1384,131 L1379.5,131.4 L1375,135.6 L1372,140.3 L1361.5,165.2 L1358,179.1 L1353.7,216.6 L1351.4,269.1 L1345.1,294.6 L1344,303.6 L1343.4,324.6 L1345.6,336.6 L1350.3,348.6 L1360.9,363.6 L1361.4,368.1 L1359.6,371.1 L1339,387.2 L1333.1,393.6 L1331,398.1 L1329.9,404.1 L1331,417.6 L1336,432.6 L1339.8,438.6 L1348,442.9 L1357,444.4 L1366,443.1 L1375.2,438.6 L1385.5,429.6 L1393.3,419.1 L1395.1,410.1 L1393,400 L1389.9,392.1 L1378.7,377.1 L1377.5,372.6 L1381,368.3 L1391.5,362.6 L1406.9,351.6 L1414,342.1 L1417.9,333.6 L1418.5,326.1 L1406.5,309.4 L1404.4,303.6 L1404,297.6 L1408,257.1 L1414.9,242.1 L1420,236.8 L1423,236.6 L1432,239.9 L1436.5,240.4 L1441.9,237.6 L1451.5,229.1 L1451.5,259.1 L1439.5,255.2 L1433.5,255 L1428.2,258.6 L1426.6,264.6 L1431.1,281.1 L1431.3,296.1 L1432.8,302.1 L1435,305.5 L1439.5,309 L1451.5,312.1 L1451.5,371.2 L1436.5,375.9 L1423,385.5 L1415.5,395.2 L1406.3,419.1 L1397.5,432.8 L1389.2,441.6 L1379.5,449.7 L1367.5,457.5 L1360,461 L1355.5,461.1 L1348,459 L1319.5,445.5 L1307.1,441.6 L1295.7,431.1 L1289.5,426.8 L1280.5,422.5 L1269.6,419.1 L1269.3,407.1 L1267.5,393.6 L1276.2,365.1 L1276.9,335.1 L1279.4,324.6 L1285.1,314.1 L1292.5,307.2 L1300,304 L1318,300.3 L1327,295 L1336,285.3 L1342,275.6 L1346.9,258.6 L1353,204.6 L1358.3,173.1 L1369.5,137.1 L1377.9,120.6 Z M1297.3,315.6 L1295.5,317.1 L1294,321 L1293.3,333.6 L1295.5,339.6 L1298.5,342.5 L1301.5,343 L1304.2,341.1 L1306,338 L1308.1,327.6 L1305.2,318.6 L1302.1,315.6 L1298.5,315.1 Z M1296.2,392.1 L1292.9,393.6 L1291,395.9 L1289.4,399.6 L1289.8,402.6 L1295.5,407.9 L1301.5,408.5 L1308.3,404.1 L1310,401.1 L1309.9,398.1 L1305.8,393.6 L1297,391.9 Z M1220.5,169.8 L1228,169.7 L1235.5,173.3 L1241,179.1 L1243.5,186.6 L1248,216.6 L1250.7,263.1 L1254.7,293.1 L1256.5,361.6 L1259.3,381.6 L1263.1,390.6 L1263.8,395.1 L1261.3,419.1 L1259.1,426.6 L1255.9,432.6 L1238.5,449.7 L1215.6,468.6 L1211.2,474.6 L1206.4,485.1 L1202.5,489.1 L1190.5,490.8 L1188.1,494.1 L1151.3,494.1 L1146.4,486.6 L1135.4,479.1 L1111,468.5 L1096,465 L1096,458.2 L1100.5,458.7 L1141,474.1 L1159.8,479.1 L1171,485.7 L1174,486 L1234,449.5 L1246.8,438.6 L1252.5,431.1 L1255.3,422.1 L1256.2,410.1 L1255,395.1 L1251.9,375.6 L1252.1,291.6 L1249,264.6 L1248.5,239.1 L1246.4,212.1 L1242.6,186.6 L1240.7,180.6 L1237.6,176.1 L1230.7,171.6 L1222,170.5 L1213.7,174.6 L1205.5,182.7 L1202.5,188.7 L1199.5,200.1 L1196.8,222.6 L1190.5,236.6 L1184.5,243.9 L1174,253.1 L1148.5,268.3 L1142.8,275.1 L1138,284 L1134.9,296.1 L1134.1,318.6 L1131.2,344.1 L1128.3,356.1 L1124,366.6 L1118.5,374.1 L1111,379.4 L1096,384.2 L1096,382 L1106.5,379.4 L1112.5,376.4 L1118.5,371.6 L1122.2,366.6 L1126.3,357.6 L1129.5,345.6 L1132.4,321.6 L1133.5,297.6 L1138,281.7 L1142.5,273.6 L1148.5,266.5 L1172.5,250.4 L1187.5,235.8 L1192,228.8 L1195.2,221.1 L1198,203.1 L1204,184 L1210,176.6 L1219.7,170.1 Z" fill="#dbd04c" stroke="#dbd04c" stroke-width="0.6" fill-rule="evenodd"/>
<path d="M1381,130.9 L1385.5,131.5 L1391.5,135.5 L1414,163.3 L1420,167.6 L1438,176.1 L1442.7,180.6 L1451.5,192.3 L1451.5,229.1 L1441.9,237.6 L1436.5,240.4 L1432,239.9 L1423,236.6 L1418.5,237.6 L1415.5,241.2 L1409.5,252.8 L1406.7,264.6 L1404.2,302.1 L1408,312.1 L1417.8,324.6 L1418.5,331.5 L1414,342.1 L1406.9,351.6 L1378.1,371.1 L1377.6,374.1 L1378.7,377.1 L1388.5,389.8 L1391.5,395.8 L1394.5,405.3 L1395,413.1 L1392.5,420.6 L1385.5,429.6 L1376.5,437.7 L1367.5,442.6 L1360,444.3 L1354,444.2 L1346.5,442.4 L1339.8,438.6 L1336,432.6 L1331,417.6 L1329.8,405.6 L1331,398.1 L1334.5,391.7 L1357.9,372.6 L1361.4,368.1 L1360.9,363.6 L1350.3,348.6 L1345.2,335.1 L1343.4,323.1 L1344.2,300.6 L1351.3,270.6 L1353.9,215.1 L1358.5,176.4 L1361.5,165.2 L1370.5,143.4 L1375,135.6 L1380.4,131.1 Z M1378,143.1 L1373.5,146.8 L1367.5,156.1 L1363,165.2 L1360,174.9 L1356.4,219.6 L1356.9,258.6 L1358.5,282.6 L1362.1,293.1 L1366,297.6 L1372,300.8 L1378,301.4 L1384,299.3 L1388.5,295.7 L1393.1,288.6 L1396.3,279.6 L1401.4,257.1 L1406.5,242.8 L1412.5,231.5 L1426,215.1 L1428.3,209.1 L1428.9,201.6 L1427,192.6 L1423.4,185.1 L1408,167.6 L1395,150.6 L1390,145.8 L1385.5,143.1 L1381,142.3 L1378,143.1 Z M1358.9,413.1 L1354.8,416.1 L1353.9,420.6 L1356.9,425.1 L1361.5,425.9 L1365.3,423.6 L1366.9,419.1 L1364.7,414.6 L1360,412.9 Z M1219,171.5 L1223.5,170.4 L1228,170.8 L1233.9,173.1 L1237.6,176.1 L1241.5,182.6 L1244.5,197.4 L1247.5,222.7 L1249,264 L1252.2,293.1 L1251.8,374.1 L1255.9,404.1 L1255.5,420.6 L1253.8,428.1 L1250.7,434.1 L1237,447.3 L1175.5,485.6 L1171,485.7 L1159.8,479.1 L1141,474.1 L1100.5,458.7 L1096,458.2 L1096,450.9 L1102,452.9 L1123,463.9 L1138,469.5 L1154.5,473.5 L1174,475.6 L1184.5,472.4 L1204,463.7 L1229.5,449.8 L1242.8,440.1 L1250,431.1 L1252.6,423.6 L1253.8,411.6 L1249.2,375.6 L1250.4,327.6 L1250.1,290.1 L1247.5,264.6 L1245.3,213.6 L1241.6,186.6 L1237.5,177.6 L1231.6,173.1 L1222,171.8 L1213,176.3 L1205.7,183.6 L1201,196.9 L1198.2,224.1 L1192,239.2 L1184.5,248.4 L1173,258.6 L1154.5,266.5 L1148.5,270.4 L1144,275.6 L1138.6,285.6 L1136.2,296.1 L1135.8,317.1 L1133,342.6 L1129.9,356.1 L1125.1,368.1 L1119.6,375.6 L1111,381.9 L1096,386.7 L1096,384.2 L1106.5,381.5 L1112.5,378.6 L1118.5,374.1 L1123.2,368.1 L1127.8,357.6 L1130.9,345.6 L1134.1,318.6 L1134.9,296.1 L1136.5,288.1 L1139.5,280.9 L1144,273.3 L1148.5,268.3 L1171,255.3 L1181.5,246.8 L1189,238.7 L1193.5,231.4 L1196.8,222.6 L1199.2,201.6 L1204,185.1 L1210,177.6 L1218.7,171.6 Z M1298.5,315.1 L1302.1,315.6 L1305.2,318.6 L1308.1,327.6 L1306,338 L1304.2,341.1 L1301.5,343 L1298.5,342.5 L1295.5,339.6 L1293.3,333.6 L1294,321 L1295.5,317.1 L1297.3,315.6 Z M1297,391.9 L1305.8,393.6 L1309.9,398.1 L1310,401.1 L1308.3,404.1 L1301.5,408.5 L1295.5,407.9 L1289.8,402.6 L1289.4,399.6 L1291,395.9 L1292.9,393.6 L1296.2,392.1 Z" fill="#efd34e" stroke="#efd34e" stroke-width="0.6" fill-rule="evenodd"/>
<path d="M1378,143.1 L1381,142.3 L1385.5,143.1 L1390,145.8 L1395,150.6 L1408,167.6 L1423.4,185.1 L1427,192.6 L1428.9,201.6 L1428.3,209.1 L1426,215.1 L1412.5,231.5 L1406.5,242.8 L1401.4,257.1 L1396.3,279.6 L1393.1,288.6 L1388.5,295.7 L1384,299.3 L1378,301.4 L1372,300.8 L1366,297.6 L1362.1,293.1 L1358.5,282.6 L1356.9,258.6 L1356.4,219.6 L1360,174.9 L1363,165.2 L1367.5,156.1 L1373.5,146.8 L1378,143.1 Z M1377.1,152.1 L1367.5,162.4 L1362.2,174.6 L1359.9,230.1 L1362.3,261.6 L1366,278 L1369,283.8 L1372,286.9 L1376.5,288.7 L1381,287.9 L1385.3,284.1 L1388.2,278.1 L1403.1,233.1 L1411.6,212.1 L1413.4,200.1 L1412.5,192.6 L1409.9,185.1 L1393.9,159.6 L1390,154.9 L1385.5,151.6 L1381,150.8 L1378,151.6 Z M1219,172.8 L1223.5,171.7 L1228,172 L1235.5,175.5 L1240,181.7 L1242.8,192.6 L1245.7,218.1 L1247.5,264.5 L1250.1,290.1 L1250.4,327.6 L1249.2,375.6 L1253.6,405.6 L1253.4,417.6 L1250,431.1 L1245.8,437.1 L1240,442.5 L1216,457.5 L1187.5,471.2 L1177,475 L1171,475.8 L1150,472.7 L1139.5,470 L1123.6,464.1 L1102,452.9 L1096,450.9 L1096,443.1 L1103.5,446.7 L1122.2,459.6 L1135.7,465.6 L1153,470 L1172.5,471 L1187.5,467.8 L1214.5,456.1 L1238.5,441.7 L1243.7,437.1 L1247.8,431.1 L1250.7,422.1 L1251.9,411.6 L1246.7,375.6 L1248.5,338.1 L1248.3,290.1 L1242.3,198.6 L1239.5,183.6 L1235.5,177.2 L1228,173.5 L1220.5,173.8 L1213,177.8 L1205.8,185.1 L1203.3,191.1 L1201.7,200.1 L1199.5,224.4 L1196.4,234.6 L1192,243.5 L1184.5,252.5 L1175.5,260.2 L1150,271.7 L1145.5,276.4 L1140.1,285.6 L1137.6,296.1 L1137.3,317.1 L1134.5,342.6 L1130.6,359.1 L1126,369.8 L1120,378 L1111,384.8 L1096,389.6 L1096,386.7 L1106.5,383.9 L1112.5,381 L1120,375.2 L1124.5,369.1 L1129,359.1 L1132.5,345.6 L1135.7,318.6 L1136.2,296.1 L1139.5,283.6 L1144.4,275.1 L1150,269.2 L1173,258.6 L1183,249.9 L1190.5,241.4 L1195,233.4 L1198.2,224.1 L1201,197.1 L1204,186.6 L1210,178.8 L1218.4,173.1 Z M1360,412.9 L1364.7,414.6 L1366.9,419.1 L1365.3,423.6 L1361.5,425.9 L1356.9,425.1 L1353.9,420.6 L1354.8,416.1 L1358.9,413.1 Z" fill="#fdd24f" stroke="#fdd24f" stroke-width="0.6" fill-rule="evenodd"/>
<path d="M1378,151.6 L1381,150.8 L1385.5,151.6 L1390,154.9 L1393.9,159.6 L1409.9,185.1 L1412.5,192.6 L1413.4,200.1 L1411.6,212.1 L1403.1,233.1 L1388.2,278.1 L1385.3,284.1 L1381,287.9 L1376.5,288.7 L1372,286.9 L1369,283.8 L1366,278 L1362.3,261.6 L1359.9,230.1 L1362.2,174.6 L1367.5,162.4 L1377.1,152.1 Z M1383.5,176.1 L1372,186.6 L1369.2,191.1 L1367.5,197.5 L1365.8,215.1 L1366,235.9 L1369,252.9 L1373.5,263.4 L1375,264.6 L1378,264.2 L1384,256.9 L1388.5,248.1 L1397.3,219.6 L1398.9,210.6 L1398.4,200.1 L1396,191.4 L1390,180.8 L1387,177.3 L1384,175.8 Z M1219,174.4 L1226.5,173.3 L1234.1,176.1 L1238.9,182.1 L1241.3,191.1 L1244.2,216.6 L1245.9,263.1 L1248.5,294.6 L1248.5,339.6 L1246.8,377.1 L1251.3,404.1 L1251.8,413.1 L1249.1,428.1 L1246,434.1 L1242.2,438.6 L1231,446.7 L1202.5,461.8 L1184.5,468.8 L1172.5,471 L1153,470 L1135.7,465.6 L1122.2,459.6 L1103.5,446.7 L1096,443.1 L1096,424 L1100.5,425.6 L1105,428.9 L1118.5,449.1 L1128.1,458.1 L1144,465 L1162,467.8 L1174,467.9 L1183,466.8 L1201,460.7 L1214.5,454.3 L1233.5,443.1 L1240,438.3 L1244.7,432.6 L1247.7,425.1 L1249.6,411.6 L1244.1,377.1 L1246.3,348.6 L1246.8,321.6 L1244.1,237.6 L1240.3,191.1 L1237.8,182.1 L1234,177.6 L1228,175 L1220.5,175.2 L1211.5,180.1 L1206.7,185.1 L1203.5,195.6 L1199.5,228.7 L1196.5,238.5 L1192.4,246.6 L1186.1,254.1 L1176.6,261.6 L1154.5,271.3 L1150,274.2 L1145.5,279.1 L1140.9,287.1 L1138.9,296.1 L1138.5,318.6 L1136.1,341.1 L1132,359.1 L1127.1,371.1 L1120,381.2 L1111,388.7 L1096,394.5 L1096,389.6 L1112.5,383.9 L1120,378 L1126,369.8 L1130.6,359.1 L1134.5,342.6 L1137.3,317.1 L1137.6,296.1 L1140.1,285.6 L1145.5,276.4 L1150,271.7 L1174,261.2 L1182.9,254.1 L1190.5,245.6 L1195,238.1 L1199.5,224.4 L1201.4,201.6 L1204.3,188.1 L1210,180.2 L1218.5,174.6 Z" fill="#fcc846" stroke="#fcc846" stroke-width="0.6" fill-rule="evenodd"/>
<path d="M1219,175.7 L1226.5,174.8 L1234,177.6 L1238.5,183.6 L1240.7,194.1 L1243.6,227.1 L1246.6,300.6 L1246.5,344.1 L1244.1,377.1 L1249.1,405.6 L1249.5,413.1 L1247.2,426.6 L1244.7,432.6 L1241.3,437.1 L1231.1,444.6 L1205.5,458.7 L1186,466.1 L1171,468 L1148.5,466.1 L1139.5,463.6 L1130.6,459.6 L1119.7,450.6 L1105,428.9 L1100.5,425.6 L1096,424 L1096,394.5 L1108,390.2 L1114,386.8 L1121.5,379.5 L1126.3,372.6 L1132,359.1 L1135.8,342.6 L1138.4,320.1 L1138.9,296.1 L1140.9,287.1 L1145.5,279.1 L1150,274.2 L1154.5,271.3 L1176.6,261.6 L1186.1,254.1 L1192,247.2 L1196.5,238.5 L1199.5,228.7 L1205.1,188.1 L1210,181.4 L1218.2,176.1 Z M1221.6,176.1 L1211.5,181.2 L1205.8,188.1 L1200.2,230.1 L1196.5,242.3 L1192.6,249.6 L1187.2,255.6 L1176.8,263.1 L1151.5,275.2 L1147,279.5 L1142.1,287.1 L1139.9,297.6 L1139,329.1 L1134.1,356.1 L1128.1,372.6 L1114.8,393.6 L1112.1,401.1 L1113.2,410.1 L1119,426.6 L1130.2,450.6 L1134.8,456.6 L1144,461.6 L1156,464.3 L1175.5,465.7 L1187.5,464 L1212.9,453.6 L1236.2,438.6 L1240.6,434.1 L1243,429.6 L1246,416.1 L1245.9,407.1 L1240.5,377.1 L1243.7,348.6 L1244.2,329.1 L1242.9,237.6 L1240.4,198.6 L1238.9,188.1 L1235.8,180.6 L1229.5,176.5 L1222,176 Z M1384,175.8 L1387,177.3 L1390,180.8 L1396,191.4 L1398.4,200.1 L1398.9,210.6 L1397.3,219.6 L1388.5,248.1 L1384,256.9 L1378,264.2 L1375,264.6 L1373.5,263.4 L1369,252.9 L1366,235.9 L1365.8,215.1 L1367.5,197.5 L1369.2,191.1 L1372,186.6 L1383.5,176.1 Z" fill="#f9b53a" stroke="#f9b53a" stroke-width="0.6" fill-rule="evenodd"/>
<path d="M1222,176 L1229.5,176.5 L1235.8,180.6 L1238.9,188.1 L1240.4,198.6 L1242.9,237.6 L1244.2,329.1 L1243.7,348.6 L1240.5,377.1 L1245.9,407.1 L1246,416.1 L1243,429.6 L1240.6,434.1 L1236.2,438.6 L1212.9,453.6 L1187.5,464 L1175.5,465.7 L1156,464.3 L1144,461.6 L1134.8,456.6 L1130.2,450.6 L1119,426.6 L1113.2,410.1 L1112.1,401.1 L1114.8,393.6 L1128.1,372.6 L1134.1,356.1 L1139,329.1 L1139.9,297.6 L1142.1,287.1 L1147,279.5 L1151.5,275.2 L1176.8,263.1 L1187.2,255.6 L1192.6,249.6 L1196.5,242.3 L1200.2,230.1 L1205.8,188.1 L1211.5,181.2 L1221.6,176.1 Z M1220,177.6 L1211.5,182.1 L1206.4,188.1 L1201.2,230.1 L1197.6,243.6 L1194,251.1 L1189,256.5 L1181.8,261.6 L1152.4,276.6 L1147,281.7 L1142.7,288.6 L1141,297.6 L1140.6,326.1 L1137.1,348.6 L1132.1,366.6 L1122.5,389.1 L1121.1,395.1 L1121.7,416.1 L1123.9,428.1 L1129.8,441.6 L1138,454.2 L1147,459.4 L1160.5,462.2 L1178.5,463.7 L1192.4,461.1 L1212.9,452.1 L1228.9,441.6 L1234.9,435.6 L1237.7,431.1 L1240.7,417.6 L1240.7,407.1 L1235.8,378.6 L1240.9,338.1 L1240.7,282.6 L1241.8,239.1 L1240.6,212.1 L1238.7,191.1 L1235.8,182.1 L1229.5,177.6 L1220.5,177.4 Z" fill="#f5a530" stroke="#f5a530" stroke-width="0.6" fill-rule="evenodd"/>
<path d="M1220.5,177.4 L1229.5,177.6 L1235.8,182.1 L1238.7,191.1 L1240.6,212.1 L1241.8,239.1 L1240.7,282.6 L1240.9,338.1 L1235.8,378.6 L1240.7,407.1 L1240.7,417.6 L1237.7,431.1 L1234.9,435.6 L1228.9,441.6 L1212.9,452.1 L1192.4,461.1 L1178.5,463.7 L1160.5,462.2 L1147,459.4 L1138,454.2 L1129.8,441.6 L1123.9,428.1 L1121.7,416.1 L1121.1,395.1 L1122.5,389.1 L1132.1,366.6 L1137.1,348.6 L1140.6,326.1 L1141,297.6 L1142.7,288.6 L1147,281.7 L1152.4,276.6 L1181.8,261.6 L1189,256.5 L1194,251.1 L1197.6,243.6 L1201.2,230.1 L1206.4,188.1 L1211.5,182.1 L1220,177.6 Z M1219,179.1 L1211.5,183.1 L1207,188.3 L1201.8,233.1 L1198.9,245.1 L1195.6,252.6 L1191.6,257.1 L1186,261 L1155.8,276.6 L1147,284.2 L1144,289 L1142.3,296.1 L1142.1,323.1 L1139.7,341.1 L1135.4,360.6 L1125.2,393.6 L1124.7,416.1 L1126.1,428.1 L1131,440.1 L1139.5,451.8 L1147,456.5 L1160.5,459.9 L1178.5,461.8 L1190.5,460.2 L1209.8,452.1 L1225.8,441.6 L1231.7,432.6 L1234.3,420.6 L1234.7,405.6 L1230.5,378.6 L1237,339.6 L1237,290.1 L1240.4,243.6 L1240,218 L1237.9,192.6 L1235.6,183.6 L1233.1,180.6 L1229.5,178.7 L1220.5,178.7 Z" fill="#f5a42f" stroke="#f5a42f" stroke-width="0.6" fill-rule="evenodd"/>
<path d="M1220.5,178.7 L1229.5,178.7 L1233.1,180.6 L1235.6,183.6 L1237.9,192.6 L1240,218 L1240.4,243.6 L1237,290.1 L1237,339.6 L1230.5,378.6 L1234.7,405.6 L1234.3,420.6 L1231.7,432.6 L1225.8,441.6 L1209.8,452.1 L1190.5,460.2 L1178.5,461.8 L1160.5,459.9 L1147,456.5 L1139.5,451.8 L1131,440.1 L1126.1,428.1 L1124.7,416.1 L1125.2,393.6 L1135.4,360.6 L1139.7,341.1 L1142.1,323.1 L1142.3,296.1 L1144,289 L1147,284.2 L1155.8,276.6 L1186,261 L1191.6,257.1 L1195.6,252.6 L1198.9,245.1 L1201.8,233.1 L1207,188.3 L1211.5,183.1 L1219,179.1 Z M1219.5,180.6 L1210.3,185.1 L1207.4,189.6 L1203,236.1 L1200.6,248.1 L1197.9,254.1 L1190,261.6 L1159,277.4 L1156.6,279.6 L1153,287.4 L1150,289.3 L1147,289.7 L1145.3,291.6 L1143.9,297.6 L1143.4,323.1 L1141.4,339.6 L1134,374.1 L1127.8,396.6 L1126.6,414.6 L1127.3,426.6 L1130.9,437.1 L1138,447.4 L1145.5,453.3 L1157.5,457.3 L1177,459.7 L1189,458.7 L1208.7,450.6 L1222.2,441.6 L1226.7,434.1 L1229.4,420.6 L1229.6,407.1 L1226,377.1 L1233.2,336.6 L1233.3,287.1 L1238.5,242.8 L1238.2,212.1 L1236.9,192.6 L1235,185.1 L1232.5,181.7 L1229.5,180.2 L1220.5,180.4 Z" fill="#f5a32f" stroke="#f5a32f" stroke-width="0.6" fill-rule="evenodd"/>
<path d="M1220.5,180.4 L1229.5,180.2 L1232.5,181.7 L1235,185.1 L1236.9,192.6 L1238.2,212.1 L1238.5,242.8 L1233.3,287.1 L1233.2,336.6 L1226,377.1 L1229.6,407.1 L1229.4,420.6 L1226.7,434.1 L1222.2,441.6 L1208.7,450.6 L1189,458.7 L1177,459.7 L1157.5,457.3 L1145.5,453.3 L1138,447.4 L1130.9,437.1 L1127.3,426.6 L1126.6,414.6 L1127.8,396.6 L1134,374.1 L1141.4,339.6 L1143.4,323.1 L1143.9,297.6 L1145.3,291.6 L1147,289.7 L1150,289.3 L1153,287.4 L1156.6,279.6 L1159,277.4 L1190,261.6 L1197.9,254.1 L1200.6,248.1 L1203,236.1 L1207.4,189.6 L1210.3,185.1 L1219.5,180.6 Z M1226.4,183.6 L1228.4,192.6 L1231,195.1 L1234,195.2 L1234.6,191.1 L1232.8,185.1 L1229.5,182.9 L1226.5,183.5 Z M1212.5,185.1 L1208.5,189.4 L1208.5,195.4 L1210,197.6 L1216,195.9 L1218.1,192.6 L1218.4,185.1 L1216,184.1 L1213,184.9 Z M1230.5,206.1 L1227.9,209.1 L1228.1,212.1 L1231,214.9 L1234,215.4 L1235.4,212.1 L1235.2,207.6 L1234,204.9 L1231,205.8 Z M1209.4,207.6 L1208.4,210.6 L1208.5,217.3 L1214.1,212.1 L1214.6,209.1 L1213.6,207.6 L1210,206.4 Z M1207.7,221.1 L1204.9,246.6 L1203.1,252.6 L1199.5,258.8 L1192,265 L1160.5,279.3 L1147,296.2 L1145.4,305.1 L1142.9,339.6 L1136.5,376.7 L1129.9,398.1 L1128.4,423.6 L1131.5,435.6 L1138,445.2 L1148.5,452.3 L1162,456.1 L1180,457.5 L1192,455.3 L1210.8,446.1 L1216.8,441.6 L1220.4,437.1 L1223.5,428.3 L1225.2,417.6 L1221.8,374.1 L1229.4,335.1 L1229.4,281.1 L1235.3,234.6 L1234,229.4 L1225,230.4 L1219,229.2 L1211.5,224.5 L1208.5,219.7 Z" fill="#f4a02e" stroke="#f4a02e" stroke-width="0.6" fill-rule="evenodd"/>
<path d="M1226.5,183.5 L1229.5,182.9 L1232.8,185.1 L1234.6,191.1 L1234,195.2 L1231,195.1 L1228.4,192.6 L1226.4,183.6 Z M1213,184.9 L1216,184.1 L1218.4,185.1 L1218.1,192.6 L1216,195.9 L1210,197.6 L1208.5,195.4 L1208.5,189.4 L1212.5,185.1 Z M1212,188.1 L1210.5,191.1 L1211.5,192.7 L1213.8,191.1 L1214.2,189.6 L1213,187.9 Z M1231,205.8 L1234,204.9 L1235.2,207.6 L1235.4,212.1 L1234,215.4 L1231,214.9 L1228.1,212.1 L1227.9,209.1 L1230.5,206.1 Z M1210,206.4 L1213.6,207.6 L1214.6,209.1 L1214.1,212.1 L1208.5,217.3 L1208.4,210.6 L1209.4,207.6 Z M1208.5,219.7 L1211.5,224.5 L1219,229.2 L1225,230.4 L1234,229.4 L1235.3,234.6 L1229.4,281.1 L1229.4,335.1 L1221.8,374.1 L1225.2,417.6 L1223.5,428.3 L1220.4,437.1 L1216.8,441.6 L1210.8,446.1 L1192,455.3 L1180,457.5 L1162,456.1 L1148.5,452.3 L1138,445.2 L1131.5,435.6 L1128.4,423.6 L1129.9,398.1 L1136.5,376.7 L1142.9,339.6 L1145.4,305.1 L1147,296.2 L1160.5,279.3 L1192,265 L1199.5,258.8 L1203.1,252.6 L1204.9,246.6 L1207.7,221.1 Z M1212.4,249.6 L1205.2,261.6 L1199.6,267.6 L1193.5,270.5 L1178.5,274.2 L1163.5,279.7 L1157.5,284.5 L1150.7,294.6 L1147.7,305.1 L1144.8,338.1 L1141,366.6 L1138,380.7 L1132,398.9 L1129.9,420.6 L1131.6,432.6 L1136.5,441.5 L1145.5,448.6 L1157.5,453.3 L1172.5,455 L1184.5,454.2 L1197.3,449.1 L1208.9,441.6 L1216.6,432.6 L1220.6,420.6 L1221,411.6 L1217.4,372.6 L1224.7,341.1 L1226.3,327.6 L1223.2,257.1 L1221.6,252.6 L1219,249.9 L1216,248.6 L1213,249.1 Z" fill="#f3982b" stroke="#f3982b" stroke-width="0.6" fill-rule="evenodd"/>
<path d="M1213,187.9 L1214.2,189.6 L1213.8,191.1 L1211.5,192.7 L1210.5,191.1 L1212,188.1 Z M1213,249.1 L1216,248.6 L1219,249.9 L1221.6,252.6 L1223.2,257.1 L1226.3,327.6 L1224.7,341.1 L1217.4,372.6 L1221,411.6 L1220.6,420.6 L1216.6,432.6 L1208.9,441.6 L1197.3,449.1 L1184.5,454.2 L1172.5,455 L1157.5,453.3 L1145.5,448.6 L1136.5,441.5 L1131.6,432.6 L1129.9,420.6 L1132,398.9 L1138,380.7 L1141,366.6 L1144.8,338.1 L1147.7,305.1 L1150.7,294.6 L1157.5,284.5 L1163.5,279.7 L1178.5,274.2 L1193.5,270.5 L1199.6,267.6 L1205.2,261.6 L1212.4,249.6 Z M1196.5,275.1 L1178.5,277.1 L1166.5,280.3 L1159,284.4 L1154,290.1 L1149.8,305.1 L1143.9,362.1 L1134.6,398.1 L1132.9,408.6 L1132,428.1 L1134.4,435.6 L1138,440.8 L1145.5,446.1 L1157.5,451.2 L1166.5,452.5 L1178.5,452.2 L1190.5,448.5 L1204.7,438.6 L1213.3,428.1 L1216.6,417.6 L1216.6,407.1 L1213.1,374.1 L1222.6,332.1 L1222.7,318.6 L1220.8,297.6 L1218.3,284.1 L1214.5,276.4 L1208.5,273.7 L1198,274.9 Z" fill="#f18e28" stroke="#f18e28" stroke-width="0.6" fill-rule="evenodd"/>
<path d="M1198,274.9 L1208.5,273.7 L1214.5,276.4 L1218.3,284.1 L1220.8,297.6 L1222.7,318.6 L1222.6,332.1 L1213.1,374.1 L1216.6,407.1 L1216.6,417.6 L1213.3,428.1 L1204.7,438.6 L1190.5,448.5 L1178.5,452.2 L1166.5,452.5 L1157.5,451.2 L1145.5,446.1 L1138,440.8 L1134.4,435.6 L1132,428.1 L1132.9,408.6 L1134.6,398.1 L1143.9,362.1 L1149.8,305.1 L1154,290.1 L1159,284.4 L1166.5,280.3 L1178.5,277.1 L1196.5,275.1 Z M1177.8,279.6 L1162,283.7 L1157.5,286.4 L1153.9,291.6 L1151.7,305.1 L1147.1,356.1 L1137.2,398.1 L1134.1,425.1 L1135,431.4 L1137.8,437.1 L1147.7,444.6 L1160.5,449.7 L1175.5,449.7 L1186,447 L1195,441.6 L1205.5,431.5 L1211,422.1 L1212.5,416.1 L1212.9,407.1 L1209,372.6 L1217.7,341.1 L1219.4,327.6 L1216.3,299.1 L1214,291.6 L1210.5,285.6 L1205.5,281.8 L1199.5,280 L1178.5,279.5 Z" fill="#ee8426" stroke="#ee8426" stroke-width="0.6" fill-rule="evenodd"/>
<path d="M1178.5,279.5 L1199.5,280 L1205.5,281.8 L1210.5,285.6 L1214,291.6 L1216.3,299.1 L1219.4,327.6 L1217.7,341.1 L1209,372.6 L1212.9,407.1 L1212.5,416.1 L1211,422.1 L1205.5,431.5 L1195,441.6 L1186,447 L1175.5,449.7 L1160.5,449.7 L1147.7,444.6 L1137.8,437.1 L1135,431.4 L1134.1,425.1 L1137.2,398.1 L1147.1,356.1 L1151.7,305.1 L1153.9,291.6 L1157.5,286.4 L1162,283.7 L1177.8,279.6 Z M1171.4,282.6 L1159,286.3 L1156,288.5 L1154.6,291.6 L1150.7,348.6 L1149,359.1 L1143.6,377.1 L1140.8,390.6 L1137.2,425.1 L1137.9,429.6 L1140.1,434.1 L1151.5,443.9 L1162,447.7 L1174,447.2 L1184.5,444.2 L1192,439.7 L1202,429.6 L1207.3,420.6 L1209,413.1 L1209.3,401.1 L1204.5,372.6 L1213.5,344.1 L1215.9,327.6 L1214.9,315.6 L1212.2,302.1 L1209.4,294.6 L1205.5,289.2 L1199.5,285.1 L1192,282.8 L1181.5,281.7 L1172.5,282.4 Z" fill="#ea7827" stroke="#ea7827" stroke-width="0.6" fill-rule="evenodd"/>
<path d="M1172.5,282.4 L1181.5,281.7 L1192,282.8 L1199.5,285.1 L1205.5,289.2 L1209.4,294.6 L1212.2,302.1 L1214.9,315.6 L1215.9,327.6 L1213.5,344.1 L1204.5,372.6 L1209.3,401.1 L1209,413.1 L1207.3,420.6 L1202,429.6 L1192,439.7 L1184.5,444.2 L1174,447.2 L1162,447.7 L1151.5,443.9 L1140.1,434.1 L1137.9,429.6 L1137.2,425.1 L1140.8,390.6 L1143.6,377.1 L1149,359.1 L1150.7,348.6 L1154.6,291.6 L1156,288.5 L1159,286.3 L1171.4,282.6 Z M1164.2,285.6 L1157.5,287.8 L1155.2,291.6 L1154.1,345.6 L1151.8,359.1 L1144,383.1 L1141.1,405.6 L1140.6,423.6 L1141.5,428.1 L1144,432.6 L1153,442 L1162,445.5 L1172.5,445 L1183,441.6 L1190.5,436.9 L1198.7,428.1 L1204.3,417.6 L1205.9,410.1 L1206.2,399.6 L1200.1,371.1 L1201.3,365.1 L1210,341.2 L1211.7,326.1 L1207.5,303.6 L1204,296.2 L1199.8,291.6 L1192.4,287.1 L1184.5,284.9 L1175.5,284.3 L1165,285.4 Z" fill="#e66c27" stroke="#e66c27" stroke-width="0.6" fill-rule="evenodd"/>
<path d="M1165,285.4 L1175.5,284.3 L1184.5,284.9 L1192.4,287.1 L1199.8,291.6 L1204,296.2 L1207.5,303.6 L1211.7,326.1 L1210,341.2 L1201.3,365.1 L1200.1,371.1 L1206.2,399.6 L1205.9,410.1 L1204.3,417.6 L1198.7,428.1 L1190.5,436.9 L1183,441.6 L1172.5,445 L1162,445.5 L1153,442 L1144,432.6 L1141.5,428.1 L1140.6,423.6 L1141.1,405.6 L1144,383.1 L1151.8,359.1 L1154.1,345.6 L1155.2,291.6 L1157.5,287.8 L1164.2,285.6 Z M1163.6,287.1 L1157.5,288.5 L1155.9,291.6 L1157.2,300.6 L1156.4,315.6 L1157.8,335.1 L1157.3,351.6 L1155.4,360.6 L1147,380.2 L1143.4,402.6 L1142.8,413.1 L1144.5,426.6 L1149.9,435.6 L1157.5,441.8 L1162,443.3 L1168,443.6 L1179.6,440.1 L1189,434.2 L1195.9,426.6 L1201,416 L1203.1,407.1 L1203.3,399.6 L1196.4,375.6 L1195.5,368.1 L1196.8,360.6 L1204.4,339.6 L1206.1,326.1 L1205.3,317.1 L1202.5,306.6 L1199.5,300.3 L1195,294.9 L1189,290.6 L1183,288.3 L1165,287 Z" fill="#e26028" stroke="#e26028" stroke-width="0.6" fill-rule="evenodd"/>
<path d="M1165,287 L1183,288.3 L1189,290.6 L1195,294.9 L1199.5,300.3 L1202.5,306.6 L1205.3,317.1 L1206.1,326.1 L1204.4,339.6 L1196.8,360.6 L1195.5,368.1 L1196.4,375.6 L1203.3,399.6 L1203.1,407.1 L1201,416 L1195.9,426.6 L1189,434.2 L1179.6,440.1 L1168,443.6 L1162,443.3 L1157.5,441.8 L1149.9,435.6 L1144.5,426.6 L1142.8,413.1 L1143.4,402.6 L1147,380.2 L1155.4,360.6 L1157.3,351.6 L1157.8,335.1 L1156.4,315.6 L1157.2,300.6 L1155.9,291.6 L1157.5,288.5 L1163.6,287.1 Z M1157.3,290.1 L1159.3,300.6 L1158.4,318.6 L1162.6,356.1 L1160.4,363.6 L1151.5,378.6 L1148.5,388.3 L1144.8,407.1 L1146.2,422.1 L1149.1,429.6 L1153.3,435.6 L1159,439.9 L1165,441.6 L1171,441 L1179.4,437.1 L1187.5,431.6 L1192.3,426.6 L1198.3,413.1 L1200.5,404.1 L1199.5,395.1 L1190.9,372.6 L1189.2,363.6 L1190.1,357.6 L1199.2,332.1 L1200.1,323.1 L1199,314.1 L1194,302.1 L1186,294.3 L1180,291.6 L1172.7,290.1 L1162,288.6 L1157.5,289.8 Z" fill="#de5528" stroke="#de5528" stroke-width="0.6" fill-rule="evenodd"/>
<path d="M1157.5,289.8 L1162,288.6 L1172.7,290.1 L1180,291.6 L1186,294.3 L1194,302.1 L1199,314.1 L1200.1,323.1 L1199.2,332.1 L1190.1,357.6 L1189.2,363.6 L1190.9,372.6 L1199.5,395.1 L1200.5,404.1 L1198.3,413.1 L1192.3,426.6 L1187.5,431.6 L1179.4,437.1 L1171,441 L1165,441.6 L1159,439.9 L1153.3,435.6 L1149.1,429.6 L1146.2,422.1 L1144.8,407.1 L1148.5,388.3 L1151.5,378.6 L1160.4,363.6 L1162.6,356.1 L1158.4,318.6 L1159.3,300.6 L1157.3,290.1 Z M1158.9,291.6 L1162.2,299.1 L1160.2,311.1 L1160.8,321.6 L1165,339.6 L1168,347.1 L1172.5,353.1 L1177,354.8 L1183,350.5 L1188.2,342.6 L1192.1,333.6 L1194.6,323.1 L1193.9,315.6 L1190.5,306.4 L1186,300.3 L1180,296.2 L1162,290.9 L1159,291.3 Z M1171.2,366.6 L1162,374.8 L1154.5,384.7 L1148.5,398.1 L1146.8,410.1 L1150,424.6 L1156,434.6 L1160.5,437.9 L1165,439.5 L1169.5,439.2 L1173.7,437.1 L1184.5,430 L1189.7,425.1 L1196.5,408.2 L1197.7,401.1 L1194,389.1 L1186,375 L1178.5,366.7 L1175.5,365.3 L1172.5,365.8 Z" fill="#d94b28" stroke="#d94b28" stroke-width="0.6" fill-rule="evenodd"/>
<path d="M1159,291.3 L1162,290.9 L1180,296.2 L1186,300.3 L1190.5,306.4 L1193.9,315.6 L1194.6,323.1 L1192.1,333.6 L1188.2,342.6 L1183,350.5 L1177,354.8 L1172.5,353.1 L1168,347.1 L1165,339.6 L1160.8,321.6 L1160.2,311.1 L1162.2,299.1 L1158.9,291.6 Z M1170.4,302.1 L1166.5,304.3 L1163.5,308.2 L1162.6,314.1 L1163.5,322.6 L1166.5,332 L1171,339.7 L1175.5,342 L1178.5,341.2 L1183,337.3 L1186.4,332.1 L1189.2,324.6 L1189.5,318.6 L1186.3,309.6 L1181.5,303.5 L1177,301.1 L1171,301.8 Z M1172.5,365.8 L1175.5,365.3 L1178.5,366.7 L1186,375 L1194,389.1 L1197.7,401.1 L1196.5,408.2 L1189.7,425.1 L1184.5,430 L1173.7,437.1 L1169.5,439.2 L1165,439.5 L1160.5,437.9 L1156,434.6 L1150,424.6 L1146.8,410.1 L1148.5,398.1 L1154.5,384.7 L1162,374.8 L1171.2,366.6 Z M1171.4,378.6 L1163.5,383.5 L1156,391.1 L1151.5,398.1 L1149.1,407.1 L1150.5,416.1 L1156.2,429.6 L1162,435.3 L1168,436.7 L1186.2,423.6 L1194.2,402.6 L1192,393.9 L1186,384.2 L1180,379.1 L1177,378.1 L1172.5,378.2 Z" fill="#d44129" stroke="#d44129" stroke-width="0.6" fill-rule="evenodd"/>
<path d="M1171,301.8 L1177,301.1 L1181.5,303.5 L1186.3,309.6 L1189.5,318.6 L1189.2,324.6 L1186.4,332.1 L1183,337.3 L1178.5,341.2 L1175.5,342 L1171,339.7 L1166.5,332 L1163.5,322.6 L1162.6,314.1 L1163.5,308.2 L1166.5,304.3 L1170.4,302.1 Z M1170.3,309.6 L1168,311.3 L1166.5,314.2 L1167.2,324.6 L1169.5,329.1 L1172.5,331.9 L1175.5,332.9 L1178.5,332.3 L1181.5,330.1 L1184.1,326.1 L1185.1,321.6 L1184.4,317.1 L1181.9,312.6 L1178.5,309.8 L1175.5,308.8 L1171,309.3 Z M1172.5,378.2 L1177,378.1 L1180,379.1 L1186,384.2 L1192,393.9 L1194.2,402.6 L1186.2,423.6 L1168,436.7 L1162,435.3 L1156.2,429.6 L1150.5,416.1 L1149.1,407.1 L1151.5,398.1 L1156,391.1 L1163.5,383.5 L1171.4,378.6 Z M1168.4,387.6 L1162,391.4 L1157.5,395.9 L1154.2,401.1 L1152.7,407.1 L1154.2,414.6 L1159,423.5 L1163.5,428.4 L1168,429.2 L1177,424.1 L1181.5,420 L1187.1,408.6 L1188.8,402.6 L1186.7,395.1 L1181.5,389.1 L1175.5,386.6 L1169.5,387.2 Z" fill="#d03629" stroke="#d03629" stroke-width="0.6" fill-rule="evenodd"/>
<path d="M1171,309.3 L1175.5,308.8 L1178.5,309.8 L1181.9,312.6 L1184.4,317.1 L1185.1,321.6 L1184.1,326.1 L1181.5,330.1 L1178.5,332.3 L1175.5,332.9 L1172.5,331.9 L1169.5,329.1 L1167.2,324.6 L1166.5,314.2 L1168,311.3 L1170.3,309.6 Z M1173.2,315.6 L1170.5,318.6 L1170.6,323.1 L1172.5,326.1 L1177,327.2 L1180.2,324.6 L1180.8,320.1 L1178.5,316.4 L1174,315.3 Z M1169.5,387.2 L1175.5,386.6 L1181.5,389.1 L1186.7,395.1 L1188.8,402.6 L1187.1,408.6 L1181.5,420 L1177,424.1 L1168,429.2 L1163.5,428.4 L1159,423.5 L1154.2,414.6 L1152.7,407.1 L1154.2,401.1 L1157.5,395.9 L1162,391.4 L1168.4,387.6 Z M1166.8,393.6 L1162.5,396.6 L1159.2,401.1 L1157.9,405.6 L1158.4,410.1 L1160.7,414.6 L1165,418.3 L1169.5,419.3 L1174,418.1 L1178.5,414.6 L1181.5,410.1 L1183,405.6 L1183,401.1 L1180.9,396.6 L1177,393.4 L1172.5,392.3 L1168,393.1 Z" fill="#cb2d29" stroke="#cb2d29" stroke-width="0.6" fill-rule="evenodd"/>
<path d="M1174,315.3 L1178.5,316.4 L1180.8,320.1 L1180.2,324.6 L1177,327.2 L1172.5,326.1 L1170.6,323.1 L1170.5,318.6 L1173.2,315.6 Z M1168,393.1 L1172.5,392.3 L1177,393.4 L1180.9,396.6 L1183,401.1 L1183,405.6 L1181.5,410.1 L1178.5,414.6 L1174,418.1 L1169.5,419.3 L1165,418.3 L1160.7,414.6 L1158.4,410.1 L1157.9,405.6 L1159.2,401.1 L1162.5,396.6 L1166.8,393.6 Z M1167.1,398.1 L1163.4,402.6 L1163.7,408.6 L1168,412.5 L1174,411.9 L1178,407.1 L1178,401.1 L1174,397.3 L1168,397.6 Z" fill="#c82a2a" stroke="#c82a2a" stroke-width="0.6" fill-rule="evenodd"/>
<path d="M1168,397.6 L1174,397.3 L1178,401.1 L1178,407.1 L1174,411.9 L1168,412.5 L1163.7,408.6 L1163.4,402.6 L1167.1,398.1 Z M1169.9,401.1 L1168,402.6 L1167.7,405.6 L1171,407.9 L1172.9,407.1 L1174.4,404.1 L1173.9,402.6 L1171,400.8 Z" fill="#c5272b" stroke="#c5272b" stroke-width="0.6" fill-rule="evenodd"/>
<path d="M1171,400.8 L1173.9,402.6 L1174.4,404.1 L1172.9,407.1 L1171,407.9 L1167.7,405.6 L1168,402.6 L1169.9,401.1 Z" fill="#c1242c" stroke="#c1242c" stroke-width="0.6" fill-rule="evenodd"/>
<path d="M1096,366.9 L1103.5,365.8 L1106.5,364.2 L1113.2,357.6 L1116.8,351.6 L1119.2,339.6 L1121,312.6 L1122.6,302.1 L1125.2,294.6 L1137.2,267.6 L1147,252 L1162,233.2 L1185.2,198.6 L1201.6,170.1 L1208.5,160.4 L1213,155.3 L1217.5,151.8 L1222,150.9 L1231.7,152.1 L1238.5,155.1 L1243.6,159.6 L1251.4,168.6 L1268.8,192.6 L1270,193.4 L1271.5,193.3 L1274.5,191.6 L1285.9,182.1 L1291,178.9 L1297,177.4 L1310.5,177.7 L1315,177 L1321,173.8 L1327,168.6 L1335.7,158.1 L1340.4,149.1 L1344.8,135.6 L1347.3,119.1 M1444.5,119.1 L1447,122.2 L1451.5,124.7 M1096,369.3 L1103.5,368.1 L1107,366.6 L1112.5,361.8 L1117,356 L1119.4,350.1 L1121.4,339.6 L1123.1,311.1 L1124,305.1 L1127,294.6 L1135.7,273.6 L1144,259.6 L1162.6,237.6 L1183,207.1 L1190.5,199.5 L1195.8,185.1 L1199.5,177.2 L1205.5,168.4 L1211.5,161.5 L1219,155.9 L1222,154.9 L1225,154.8 L1229.5,156.1 L1234,158.4 L1244.5,166.2 L1249,170.6 L1251.9,174.6 L1267,212.8 L1268.5,213.7 L1270,213.3 L1274.5,210 L1285,199.8 L1291,195.4 L1294,194.1 L1298.5,193.2 L1312,192.8 L1318,191.8 L1325.5,187.7 L1332.8,180.6 L1339,171.2 L1345,155.2 L1349.5,137.6 L1351,119.1 M1431.5,119.1 L1444,127.5 L1451.5,130.4 M1096,371.6 L1103.5,370.3 L1108.4,368.1 L1114,363.3 L1118.5,357.1 L1121.2,350.1 L1123,341.1 L1125,311.1 L1126.5,302.1 L1129.5,291.6 L1136.2,275.1 L1144,262.2 L1166.2,237.6 L1177,222.6 L1185.6,209.1 L1191.6,201.6 L1200.7,179.1 L1204.7,173.1 L1211.5,165.3 L1219,159.8 L1223.5,158.6 L1226.5,159 L1231,160.7 L1237,164.3 L1243,169 L1247.5,173.7 L1249.6,177.6 L1252.9,189.6 L1259,206.1 L1264.7,237.6 L1266.7,245.1 L1268.5,245.7 L1272.1,242.1 L1285,221.6 L1291.7,213.6 L1295.5,211.1 L1298.5,210.1 L1312,208.6 L1318,206.8 L1327,200 L1334.5,191.6 L1340.5,181.1 L1344.4,170.1 L1348.6,152.1 L1354.6,119.1 M1418.7,119.1 L1421.5,124.7 L1426,128.6 L1439.5,135 L1451.5,138.3 M1096,374.4 L1103.5,373 L1109.5,370.4 L1115.5,365.3 L1119.9,359.1 L1122.9,351.6 L1124.9,342.6 L1127.4,309.6 L1129.1,299.1 L1131.5,290.1 L1136.5,277.6 L1141,269.6 L1145.5,263.3 L1168.7,240.6 L1181.5,224.2 L1194.8,200.1 L1199.5,186.5 L1202.5,180 L1210,170.6 L1214.5,166.5 L1218.2,164.1 L1222,162.7 L1225,162.7 L1229.8,164.1 L1235.3,167.1 L1241.5,171.9 L1246,177.2 L1247.5,180.9 L1249.7,191.1 L1254.1,206.1 L1258.5,236.1 L1262.5,255.8 L1266.9,270.6 L1268.7,272.1 L1271.4,270.6 L1274.5,267 L1294,236.2 L1298.5,230.4 L1301.5,227.6 L1304.5,226.4 L1307.5,226.8 L1310.5,228.6 L1317.6,234.6 L1321,235.2 L1325.8,231.6 L1331.5,223.5 L1339.9,204.6 L1348.6,174.6 L1353.9,150.6 L1358.3,119.1 M1410.8,119.1 L1412.8,125.1 L1415.5,129.9 L1420,135.1 L1424.4,138.6 L1430.5,142.2 L1436.5,144.8 L1444,147 L1451.5,148.3 M1096,377.4 L1105,375.4 L1112.5,371.6 L1118.5,365.7 L1123,357.6 L1125.5,350.1 L1127.4,339.6 L1129.9,306.6 L1131.4,296.1 L1135,284.1 L1139.5,274.6 L1147,264.3 L1169.7,245.1 L1177.1,237.6 L1183.2,230.1 L1187.5,223.7 L1190.5,217.7 L1200.2,189.6 L1203.5,182.1 L1210,174.1 L1214.5,170.3 L1219,167.6 L1222,166.6 L1225,166.5 L1232.5,169.2 L1239.9,174.6 L1242.8,177.6 L1244.3,180.6 L1249.4,207.6 L1255.8,261.6 L1261,280.3 L1264,288.1 L1267,292.8 L1268.5,293.4 L1269.6,293.1 L1274.1,290.1 L1297,265.6 L1303,261.2 L1306,260.4 L1309,261.2 L1318.4,267.6 L1321,268.7 L1324,268.5 L1325.6,267.6 L1330,261.6 L1334.5,251.7 L1345,220.3 L1359.4,158.1 L1361.5,143.1 L1363.7,119.1 M1451.5,414.1 L1449.1,416.1 L1438.4,429.6 L1430.4,438.6 L1388.5,480.2 L1379,494.1 M1116,494.1 L1113.1,488.1 L1108.3,483.6 L1103.5,480.7 L1096,477.7 M1334,494.1 L1330,488.3 L1327,485.8 L1306,476.1 L1285,458.1 L1280.5,455.8 L1277.5,455.5 L1272.5,456.6 L1256.5,462.3 L1252,464.6 L1249,466.9 L1244.5,472.3 L1240,480 L1238.1,485.1 L1236,494.1 M1451.5,229.1 L1441.9,237.6 L1436.5,240.4 L1432,239.9 L1423,236.6 L1420,236.8 L1418.5,237.6 L1414,243.7 L1408.5,255.6 L1406.7,264.6 L1405.7,282.6 L1404.1,296.1 L1404.2,302.1 L1405.3,306.6 L1408,312.1 L1415.5,321 L1417.8,324.6 L1418.8,327.6 L1418.4,332.1 L1417,336.2 L1414,342.1 L1406.9,351.6 L1391.5,362.6 L1381,368.3 L1378.1,371.1 L1377.5,372.6 L1378.7,377.1 L1390,392.3 L1393.8,402.6 L1395,408.6 L1395,413.1 L1393.9,417.6 L1391.5,422.2 L1382.5,432.6 L1376.5,437.7 L1370.5,441.3 L1366,443.1 L1360,444.3 L1355.5,444.4 L1349.5,443.3 L1341.7,440.1 L1337.4,435.6 L1331,417.6 L1329.8,407.1 L1331,398.1 L1334.5,391.7 L1340.5,386 L1357.9,372.6 L1359.6,371.1 L1361.4,368.1 L1360.9,363.6 L1350.3,348.6 L1345.6,336.6 L1343.4,324.6 L1344,303.6 L1345.1,294.6 L1349.9,278.1 L1351.4,269.1 L1353.7,216.6 L1358,179.1 L1361.5,165.2 L1372,140.3 L1375,135.6 L1379.5,131.4 L1384,131 L1388.5,133.2 L1394.5,138.7 L1409.5,158.4 L1414,163.3 L1420,167.6 L1438,176.1 L1442.7,180.6 L1450,191 L1451.5,192.3 M1096,384.2 L1108,381 L1115.5,376.6 L1121.5,370.7 L1126.2,362.1 L1130,350.1 L1132.1,338.1 L1134.1,318.6 L1134.6,299.1 L1135.3,293.1 L1138,284 L1142.5,275.6 L1145.5,271.4 L1150,267 L1169.5,256.4 L1180,248.2 L1187.5,240.6 L1193.5,231.4 L1196.8,222.6 L1198,216.6 L1199.2,201.6 L1201.3,192.6 L1204,185.1 L1208.5,179.1 L1215.9,173.1 L1222,170.5 L1226.5,170.5 L1231,171.7 L1235.5,174.2 L1238.9,177.6 L1240.7,180.6 L1243.3,189.6 L1246.6,213.6 L1248.5,239.1 L1249,264 L1251.6,285.6 L1252.3,296.1 L1252,377.1 L1255,395.1 L1256.2,411.6 L1255.3,422.1 L1253.2,429.6 L1249.5,435.6 L1243,442.2 L1235.5,448.4 L1229.5,452.5 L1184.6,479.1 L1177,484.7 L1174,486 L1171,485.7 L1163.1,480.6 L1159.8,479.1 L1141,474.1 L1120,466.6 L1100.5,458.7 L1096,458.2 M1298.5,315.1 L1300,314.9 L1302.1,315.6 L1305.2,318.6 L1307.2,323.1 L1308.1,327.6 L1307.9,332.1 L1306,338 L1304.2,341.1 L1301.5,343 L1298.5,342.5 L1295.5,339.6 L1294,336.8 L1293.3,333.6 L1293.1,327.6 L1294,321 L1295.5,317.1 L1297.3,315.6 Z M1297,391.9 L1301.5,392.1 L1305.8,393.6 L1308.1,395.1 L1309.9,398.1 L1310,401.1 L1308.3,404.1 L1304.8,407.1 L1301.5,408.5 L1298.5,408.9 L1295.5,407.9 L1292.1,405.6 L1289.8,402.6 L1289.4,399.6 L1291,395.9 L1292.9,393.6 L1296.2,392.1 Z M1096,392.4 L1109.5,387.9 L1115.5,384.2 L1123,376.5 L1129,366 L1133.5,352.1 L1136.1,338.1 L1138.1,318.6 L1138.3,299.1 L1139.1,291.6 L1140.4,287.1 L1143.6,281.1 L1147,276.3 L1151.5,272.3 L1156,269.9 L1170,264.6 L1175.5,261.7 L1183.5,255.6 L1190.5,248.1 L1195.7,239.1 L1199.5,227.1 L1201,218.3 L1202.2,201.6 L1203.7,192.6 L1205.5,186.6 L1210,181 L1216,176.7 L1222,174.4 L1226.5,174.3 L1232.5,176.2 L1235.5,178.4 L1237.3,180.6 L1239.7,186.6 L1241.7,200.1 L1244,227.1 L1245,263.1 L1246.8,287.1 L1247.4,302.1 L1247.2,344.1 L1245,377.1 L1250,405.6 L1250.5,411.6 L1249.2,422.1 L1247,429.6 L1243.5,435.6 L1238.8,440.1 L1220.5,451.5 L1207,458.6 L1189,465.9 L1178.5,468.4 L1166.5,468.9 L1154.5,468.1 L1144,466.1 L1133.7,462.6 L1125,458.1 L1117.2,452.1 L1109.3,444.6 L1100.5,433.6 L1099,432.5 L1096,433.1 M1381,156.2 L1384,156.5 L1387,159.2 L1391.5,165.7 L1397.5,176.2 L1403.4,189.6 L1404.4,194.1 L1404.8,200.1 L1402.9,213.6 L1393,249.2 L1381,278.8 L1379.5,281.5 L1378,282.6 L1375.6,281.1 L1373.3,278.1 L1369.4,270.6 L1367.5,264.9 L1364.2,245.1 L1362.9,224.1 L1364.5,191.5 L1366.8,177.6 L1369.3,170.1 L1372.4,164.1 L1376.4,159.6 L1380,156.6 Z M1220.5,178.7 L1225,178.1 L1229.5,178.7 L1233.1,180.6 L1235.6,183.6 L1237,187.3 L1237.9,192.6 L1240,218 L1240.4,243.6 L1237,290.1 L1237,339.6 L1235.9,348.6 L1232.9,360.6 L1230.5,378.6 L1230.7,383.1 L1232.5,389.9 L1234.7,405.6 L1234.9,411.6 L1234.3,420.6 L1231.7,432.6 L1229.5,437.1 L1225.8,441.6 L1220.1,446.1 L1209.8,452.1 L1200.3,456.6 L1190.5,460.2 L1184.5,461.5 L1178.5,461.8 L1160.5,459.9 L1147,456.5 L1142.5,454.2 L1139.5,451.8 L1135.8,447.6 L1131,440.1 L1128.1,434.1 L1126.1,428.1 L1124.7,416.1 L1125.2,393.6 L1135.4,360.6 L1139.7,341.1 L1142.1,323.1 L1142.3,296.1 L1144,289 L1147,284.2 L1155.8,276.6 L1172.5,268.5 L1186,261 L1191.6,257.1 L1195.6,252.6 L1198.9,245.1 L1201.8,233.1 L1206.1,192.6 L1207,188.3 L1208.5,185.8 L1211.5,183.1 L1219,179.1 Z M1214.5,253.3 L1216,253.3 L1218,257.1 L1221.7,272.1 L1224.5,308.1 L1225.2,326.1 L1223.8,339.6 L1216.9,366.6 L1216,372.6 L1216.1,380.1 L1219.5,410.1 L1219.3,419.1 L1216.9,428.1 L1211.5,436.5 L1207,440.9 L1201,445.3 L1194.5,449.1 L1187.5,452.3 L1183,453.5 L1177,454.2 L1166.5,454 L1160.5,453.2 L1154.5,451.7 L1148.1,449.1 L1142.5,446 L1138,442.4 L1134.9,438.6 L1132.1,432.6 L1130.6,426.6 L1130.4,422.1 L1131.4,408.6 L1132.7,399.6 L1138,383 L1142.2,363.6 L1145.1,341.1 L1148.4,305.1 L1149.6,299.1 L1152,293.1 L1157.5,284.9 L1163.5,280.4 L1177,275.6 L1196.5,271.6 L1202,269.1 L1209.4,261.6 L1213.8,254.1 Z M1171,283.9 L1181.5,283.5 L1190.5,285 L1198,288.1 L1204,293 L1207.7,299.1 L1210,306.1 L1212.5,318.6 L1213.3,329.1 L1212.6,336.6 L1210,347 L1203,365.1 L1201.6,371.1 L1202,377.1 L1207.2,399.6 L1207,410.1 L1205.1,419.1 L1203.1,423.6 L1199,429.6 L1190,438.6 L1181.5,443.3 L1169.5,446.2 L1163.5,446.3 L1159,445.6 L1154.5,443.8 L1151,441.6 L1146.1,437.1 L1141.6,431.1 L1140.2,428.1 L1139.5,423.6 L1140.4,405.6 L1143.1,384.6 L1145.2,375.6 L1150.7,359.1 L1153,345.6 L1154.1,333.6 L1153.8,320.1 L1155,291.6 L1156.4,288.6 L1159,286.8 L1169.8,284.1 Z M1171,299 L1174,298.5 L1177,298.7 L1180,299.9 L1183,302.1 L1188.3,309.6 L1191.1,318.6 L1190.9,324.6 L1187.5,334.2 L1183,341.3 L1178.5,345.7 L1177,346.1 L1174,345.6 L1169.5,341.8 L1165,331.3 L1162.4,321.6 L1161.6,312.6 L1162.9,306.6 L1166.5,301.4 L1170.8,299.1 Z M1171,375.1 L1174,374.3 L1177,374.5 L1180,375.7 L1184.5,379.4 L1189,385.4 L1192,390.7 L1195,398 L1195.6,402.6 L1194.4,407.1 L1190,416.1 L1189,421.7 L1188,423.6 L1183,428.2 L1170,437.1 L1166.5,438 L1163.1,437.1 L1159,434.7 L1156,431.5 L1153,426.2 L1150.8,420.6 L1149,414.6 L1148.2,408.6 L1148.6,404.1 L1150,399 L1154.5,390.7 L1162,381.9 L1170.1,375.6 Z" fill="none" stroke="#000" stroke-width="3.8" stroke-linejoin="round"/>

</g>
<ellipse cx="1222" cy="204.8" rx="3.4" ry="11.6" transform="rotate(12 1222 204.8)" fill="#ef8f2a" stroke="#000" stroke-width="3.6"/>
<rect x="1099" y="122.1" width="349.5999999999999" height="369.4" fill="none" stroke="#000" stroke-width="3.8" />
<line x1="1099" y1="194.8" x2="1108" y2="194.8" stroke="#000" stroke-width="3.6" />
<line x1="1439.6" y1="194.8" x2="1448.6" y2="194.8" stroke="#000" stroke-width="3.6" />
<line x1="1099" y1="268.7" x2="1108" y2="268.7" stroke="#000" stroke-width="3.6" />
<line x1="1439.6" y1="268.7" x2="1448.6" y2="268.7" stroke="#000" stroke-width="3.6" />
<line x1="1099" y1="343" x2="1108" y2="343" stroke="#000" stroke-width="3.6" />
<line x1="1439.6" y1="343" x2="1448.6" y2="343" stroke="#000" stroke-width="3.6" />
<line x1="1099" y1="417.7" x2="1108" y2="417.7" stroke="#000" stroke-width="3.6" />
<line x1="1439.6" y1="417.7" x2="1448.6" y2="417.7" stroke="#000" stroke-width="3.6" />
<line x1="1161.3" y1="122.1" x2="1161.3" y2="131.1" stroke="#000" stroke-width="3.6" />
<line x1="1161.3" y1="491.5" x2="1161.3" y2="482.5" stroke="#000" stroke-width="3.6" />
<line x1="1228.1" y1="122.1" x2="1228.1" y2="131.1" stroke="#000" stroke-width="3.6" />
<line x1="1228.1" y1="491.5" x2="1228.1" y2="482.5" stroke="#000" stroke-width="3.6" />
<line x1="1298.5" y1="122.1" x2="1298.5" y2="131.1" stroke="#000" stroke-width="3.6" />
<line x1="1298.5" y1="491.5" x2="1298.5" y2="482.5" stroke="#000" stroke-width="3.6" />
<line x1="1369" y1="122.1" x2="1369" y2="131.1" stroke="#000" stroke-width="3.6" />
<line x1="1369" y1="491.5" x2="1369" y2="482.5" stroke="#000" stroke-width="3.6" />
<text x="1087" y="204.8" font-size="28.5" text-anchor="end" fill="#000" font-weight="normal" >1.7</text>
<text x="1087" y="353" font-size="28.5" text-anchor="end" fill="#000" font-weight="normal" >1.6</text>
<text x="1087" y="501.5" font-size="28.5" text-anchor="end" fill="#000" font-weight="normal" >1.5</text>
<text x="1162.5" y="526.8" font-size="28.5" text-anchor="middle" fill="#000" font-weight="normal" >1.9</text>
<text x="1297" y="526.8" font-size="28.5" text-anchor="middle" fill="#000" font-weight="normal" >2.0</text>
<text x="1448.6" y="526.8" font-size="28.5" text-anchor="middle" fill="#000" font-weight="normal" >2.1</text>
<text x="1294" y="574.2" font-size="29" text-anchor="middle" fill="#000" font-weight="normal" >Excitation frequency (× 10<tspan dy="-11" font-size="19">4</tspan><tspan dy="11"> cm</tspan><tspan dy="-11" font-size="19">−1</tspan><tspan dy="11">)</tspan></text>
<text x="1022" y="295.5" font-size="29" text-anchor="middle" fill="#000" font-weight="normal" transform="rotate(-90 1022 295.5)" >Emission frequency (× 10<tspan dy="-11" font-size="19">4</tspan><tspan dy="11"> cm</tspan><tspan dy="-11" font-size="19">−1</tspan><tspan dy="11">)</tspan></text>
<text x="1236" y="76.7" font-size="21" text-anchor="middle" fill="#d9737b" font-weight="normal" >Lut2</text>
<rect x="1231.85" y="85.2" width="8.3" height="36" fill="#d9737b"/>
<text x="1308" y="76.7" font-size="21" text-anchor="middle" fill="#d9737b" font-weight="normal" >Lut1</text>
<rect x="1303.85" y="85.2" width="8.3" height="36" fill="#d9737b"/>
<text x="1384" y="76.7" font-size="21" text-anchor="middle" fill="#7f3f97" font-weight="normal" >Neo</text>
<rect x="1379.85" y="85.2" width="8.3" height="36" fill="#7f3f97"/>
<rect x="1450" y="214.0" width="38" height="9" fill="#6a9a3e"/>
<rect x="1450" y="315.5" width="38" height="9" fill="#6a9a3e"/>
<rect x="1450" y="411.5" width="38" height="9" fill="#6a9a3e"/>
<text x="1508" y="321.5" font-size="29" text-anchor="middle" fill="#6a9a3e" font-weight="normal" transform="rotate(90 1508 321.5)" >Chl Q</text>
</svg>
</body></html>
